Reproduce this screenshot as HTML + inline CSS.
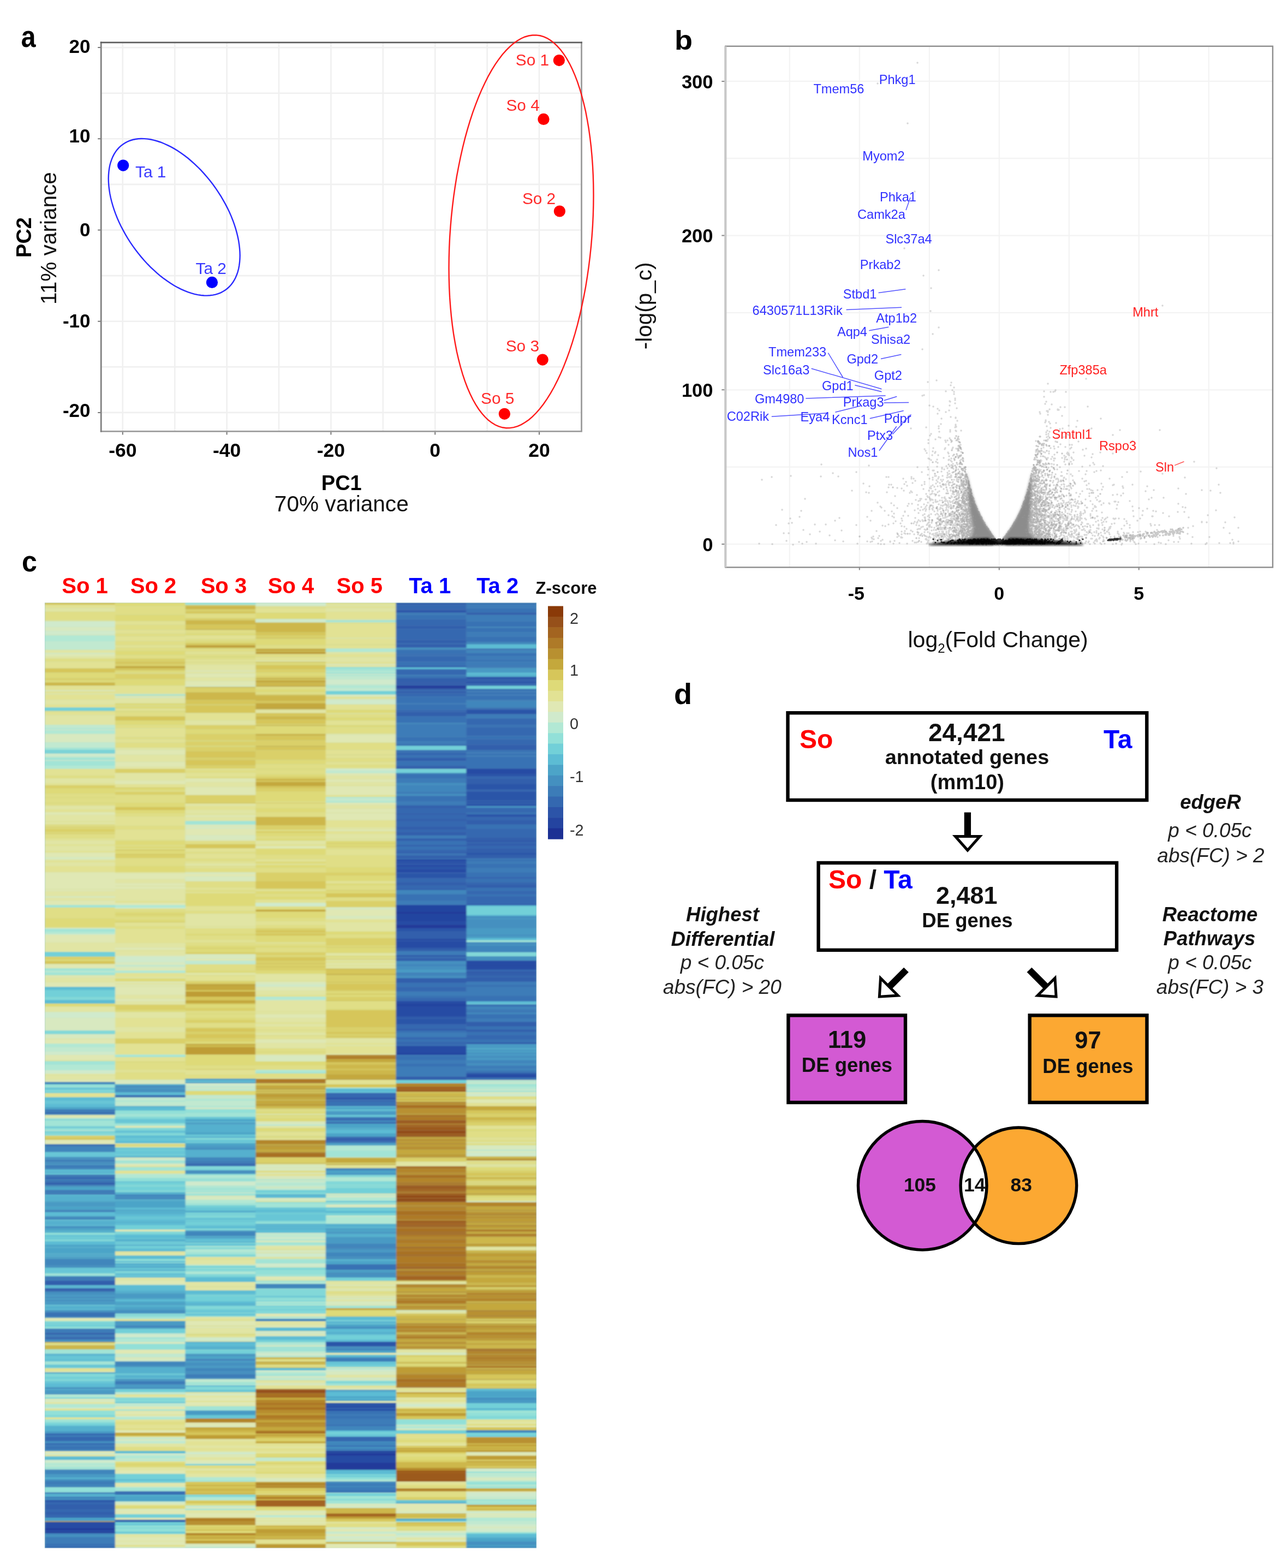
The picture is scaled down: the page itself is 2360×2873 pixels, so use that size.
<!DOCTYPE html>
<html lang="en"><head><meta charset="utf-8"><title>Figure</title>
<style>
html,body{margin:0;padding:0;background:#fff;}
body{width:2360px;height:2873px;overflow:hidden;}
svg{display:block;font-family:"Liberation Sans", Arial, Helvetica, sans-serif;}
</style></head><body>
<svg width="2360" height="2873" viewBox="0 0 2360 2873">
<rect width="2360" height="2873" fill="#fff"/>
<g id="panel-a">
<text transform="translate(38.5,85.8) scale(0.9,1.03)" font-size="54" font-weight="bold">a</text>
<path d="M224.8 77.8V790.4M320.2 77.8V790.4M415.6 77.8V790.4M511.0 77.8V790.4M606.4 77.8V790.4M701.8 77.8V790.4M797.2 77.8V790.4M892.6 77.8V790.4M988.0 77.8V790.4M185.2 755.9H1065.5M185.2 672.3H1065.5M185.2 588.7H1065.5M185.2 505.1H1065.5M185.2 421.5H1065.5M185.2 337.9H1065.5M185.2 254.3H1065.5M185.2 170.7H1065.5M185.2 87.1H1065.5" stroke="#f0f0f0" stroke-width="2.6" fill="none"/>
<path d="M224.8 790.4v6M415.6 790.4v6M606.4 790.4v6M797.2 790.4v6M988.0 790.4v6M185.2 755.9h-6M185.2 588.7h-6M185.2 421.5h-6M185.2 254.3h-6M185.2 87.1h-6" stroke="#777" stroke-width="2" fill="none"/>
<path d="M185.2 790.4H1065.5V77.8" fill="none" stroke="#9c9c9c" stroke-width="2.8" stroke-linecap="square"/>
<path d="M185.2 790.4V77.8" fill="none" stroke="#808080" stroke-width="2.8" stroke-linecap="square"/>
<path d="M185.2 77.8H1065.5" fill="none" stroke="#5e5e5e" stroke-width="2.8" stroke-linecap="square"/>
<text x="224.8" y="837.0" font-size="35.5" font-weight="bold" font-style="normal" fill="#000" text-anchor="middle">-60</text>
<text x="415.6" y="837.0" font-size="35.5" font-weight="bold" font-style="normal" fill="#000" text-anchor="middle">-40</text>
<text x="606.4" y="837.0" font-size="35.5" font-weight="bold" font-style="normal" fill="#000" text-anchor="middle">-20</text>
<text x="797.2" y="837.0" font-size="35.5" font-weight="bold" font-style="normal" fill="#000" text-anchor="middle">0</text>
<text x="988.0" y="837.0" font-size="35.5" font-weight="bold" font-style="normal" fill="#000" text-anchor="middle">20</text>
<text x="165.5" y="97.0" font-size="35" font-weight="bold" font-style="normal" fill="#000" text-anchor="end">20</text>
<text x="165.5" y="261.3" font-size="35" font-weight="bold" font-style="normal" fill="#000" text-anchor="end">10</text>
<text x="165.5" y="433.3" font-size="35" font-weight="bold" font-style="normal" fill="#000" text-anchor="end">0</text>
<text x="165.5" y="599.5" font-size="35" font-weight="bold" font-style="normal" fill="#000" text-anchor="end">-10</text>
<text x="165.5" y="763.9" font-size="35" font-weight="bold" font-style="normal" fill="#000" text-anchor="end">-20</text>
<text x="625.8" y="898.0" font-size="38" font-weight="bold" font-style="normal" fill="#000" text-anchor="middle">PC1</text>
<text x="625.8" y="937.3" font-size="40.6" font-weight="normal" font-style="normal" fill="#111" text-anchor="middle">70% variance</text>
<text transform="translate(57,435) rotate(-90)" font-size="38" font-weight="bold" text-anchor="middle">PC2</text>
<text transform="translate(102.6,436.5) rotate(-90)" font-size="40.6" fill="#111" text-anchor="middle">11% variance</text>
<path d="M439.7 468.3 L439.5 474.7 L439.0 481.0 L438.2 487.0 L437.1 492.8 L435.6 498.3 L433.8 503.5 L431.7 508.5 L429.3 513.2 L426.6 517.5 L423.6 521.5 L420.3 525.2 L416.7 528.5 L412.8 531.4 L408.7 534.0 L404.4 536.3 L399.8 538.1 L395.0 539.6 L390.0 540.6 L384.8 541.3 L379.4 541.6 L373.9 541.5 L368.2 541.0 L362.4 540.1 L356.4 538.8 L350.4 537.1 L344.3 535.1 L338.1 532.6 L331.8 529.8 L325.5 526.7 L319.2 523.2 L312.9 519.3 L306.6 515.1 L300.3 510.6 L294.1 505.8 L288.0 500.6 L282.0 495.2 L276.0 489.6 L270.2 483.7 L264.5 477.5 L259.0 471.1 L253.6 464.6 L248.4 457.8 L243.4 450.9 L238.6 443.8 L234.0 436.6 L229.7 429.3 L225.6 421.9 L221.7 414.5 L218.1 407.0 L214.8 399.5 L211.8 391.9 L209.1 384.4 L206.7 376.9 L204.6 369.5 L202.8 362.2 L201.3 354.9 L200.2 347.8 L199.4 340.8 L198.9 334.0 L198.7 327.3 L198.9 320.9 L199.4 314.6 L200.2 308.6 L201.3 302.8 L202.8 297.3 L204.6 292.1 L206.7 287.1 L209.1 282.4 L211.8 278.1 L214.8 274.1 L218.1 270.4 L221.7 267.1 L225.6 264.2 L229.7 261.6 L234.0 259.3 L238.6 257.5 L243.4 256.0 L248.4 255.0 L253.6 254.3 L258.9 254.0 L264.5 254.1 L270.2 254.6 L276.0 255.5 L282.0 256.8 L288.0 258.5 L294.1 260.5 L300.3 263.0 L306.6 265.8 L312.9 268.9 L319.2 272.4 L325.5 276.3 L331.8 280.5 L338.1 285.0 L344.3 289.8 L350.4 295.0 L356.4 300.4 L362.4 306.0 L368.2 311.9 L373.9 318.1 L379.4 324.5 L384.8 331.0 L390.0 337.8 L395.0 344.7 L399.8 351.8 L404.4 359.0 L408.7 366.3 L412.8 373.7 L416.7 381.1 L420.3 388.6 L423.6 396.1 L426.6 403.7 L429.3 411.2 L431.7 418.7 L433.8 426.1 L435.6 433.4 L437.1 440.7 L438.2 447.8 L439.0 454.8 L439.5 461.6Z" fill="none" stroke="#2a2aff" stroke-width="2.4"/>
<path d="M1087.5 357.7 L1087.3 376.3 L1086.8 395.0 L1085.9 413.9 L1084.6 432.7 L1083.0 451.5 L1081.0 470.3 L1078.7 488.9 L1076.0 507.4 L1073.1 525.6 L1069.7 543.5 L1066.1 561.1 L1062.2 578.4 L1058.0 595.2 L1053.5 611.5 L1048.7 627.4 L1043.7 642.7 L1038.4 657.3 L1032.9 671.4 L1027.2 684.7 L1021.2 697.4 L1015.2 709.3 L1008.9 720.4 L1002.5 730.7 L995.9 740.2 L989.3 748.8 L982.5 756.5 L975.7 763.3 L968.9 769.2 L961.9 774.1 L955.0 778.1 L948.1 781.1 L941.1 783.1 L934.3 784.1 L927.5 784.2 L920.7 783.3 L914.1 781.4 L907.5 778.5 L901.1 774.6 L894.8 769.8 L888.8 764.0 L882.8 757.3 L877.1 749.7 L871.6 741.2 L866.3 731.8 L861.3 721.6 L856.5 710.5 L852.0 698.7 L847.8 686.1 L843.9 672.8 L840.3 658.9 L836.9 644.3 L834.0 629.0 L831.3 613.3 L829.0 597.0 L827.0 580.2 L825.4 563.0 L824.1 545.4 L823.2 527.5 L822.7 509.3 L822.5 490.9 L822.7 472.3 L823.2 453.6 L824.1 434.7 L825.4 415.9 L827.0 397.1 L829.0 378.3 L831.3 359.7 L834.0 341.2 L836.9 323.0 L840.3 305.1 L843.9 287.5 L847.8 270.2 L852.0 253.4 L856.5 237.1 L861.3 221.2 L866.3 205.9 L871.6 191.3 L877.1 177.2 L882.8 163.9 L888.8 151.2 L894.8 139.3 L901.1 128.2 L907.5 117.9 L914.1 108.4 L920.7 99.8 L927.5 92.1 L934.3 85.3 L941.1 79.4 L948.1 74.5 L955.0 70.5 L961.9 67.5 L968.9 65.5 L975.7 64.5 L982.5 64.4 L989.3 65.3 L995.9 67.2 L1002.5 70.1 L1008.9 74.0 L1015.2 78.8 L1021.2 84.6 L1027.2 91.3 L1032.9 98.9 L1038.4 107.4 L1043.7 116.8 L1048.7 127.0 L1053.5 138.1 L1058.0 149.9 L1062.2 162.5 L1066.1 175.8 L1069.7 189.7 L1073.1 204.3 L1076.0 219.6 L1078.7 235.3 L1081.0 251.6 L1083.0 268.4 L1084.6 285.6 L1085.9 303.2 L1086.8 321.1 L1087.3 339.3Z" fill="none" stroke="#ff1a1a" stroke-width="2.4"/>
<circle cx="1024.4" cy="110.6" r="10.6" fill="#ff0000"/>
<text x="944.8" y="119.5" font-size="29.8" font-weight="normal" font-style="normal" fill="#ff2a2a" text-anchor="start">So 1</text>
<circle cx="996" cy="218.4" r="10.6" fill="#ff0000"/>
<text x="927.5" y="202.5" font-size="29.8" font-weight="normal" font-style="normal" fill="#ff2a2a" text-anchor="start">So 4</text>
<circle cx="1025.4" cy="387" r="10.6" fill="#ff0000"/>
<text x="956.9" y="373.5" font-size="29.8" font-weight="normal" font-style="normal" fill="#ff2a2a" text-anchor="start">So 2</text>
<circle cx="994.2" cy="659.1" r="10.6" fill="#ff0000"/>
<text x="926.7" y="643.8" font-size="29.8" font-weight="normal" font-style="normal" fill="#ff2a2a" text-anchor="start">So 3</text>
<circle cx="924.4" cy="758.3" r="10.6" fill="#ff0000"/>
<text x="881.1" y="739.6" font-size="29.8" font-weight="normal" font-style="normal" fill="#ff2a2a" text-anchor="start">So 5</text>
<circle cx="225.7" cy="303.1" r="10.6" fill="#0000ff"/>
<text x="248.0" y="325.2" font-size="29.8" font-weight="normal" font-style="normal" fill="#3a3aff" text-anchor="start">Ta 1</text>
<circle cx="388.5" cy="517.4" r="10.6" fill="#0000ff"/>
<text x="358.6" y="502.1" font-size="29.8" font-weight="normal" font-style="normal" fill="#3a3aff" text-anchor="start">Ta 2</text>
</g>
<g id="panel-b">
<text transform="translate(1236,91.3) scale(1,0.915)" font-size="54" font-weight="bold">b</text>
<path d="M1446.8 84.7V1039.5M1574.8 84.7V1039.5M1702.8 84.7V1039.5M1830.8 84.7V1039.5M1958.8 84.7V1039.5M2086.8 84.7V1039.5M2214.8 84.7V1039.5M1329.3 997.0H2332M1329.3 855.6H2332M1329.3 714.3H2332M1329.3 573.0H2332M1329.3 431.6H2332M1329.3 290.2H2332M1329.3 148.9H2332" stroke="#f3f3f3" stroke-width="2.2" fill="none"/>
<path d="M1916 880h.1M1767 965h.1M1932 993h.1M1940 751h.1M1859 962h.1M1884 969h.1M1914 966h.1M1807 984h.1M1765 913h.1M1721 986h.1M1785 994h.1M2033 979h.1M1839 993h.1M1863 971h.1M1868 991h.1M1904 878h.1M1929 909h.1M1758 983h.1M1886 992h.1M1681 970h.1M1816 989h.1M1766 988h.1M1933 840h.1M1905 849h.1M1878 955h.1M1787 986h.1M1767 883h.1M1845 994h.1M1724 978h.1M1797 956h.1M2039 907h.1M1778 939h.1M1988 937h.1M1761 886h.1M1749 973h.1M1778 975h.1M1974 771h.1M1890 958h.1M1887 996h.1M1906 967h.1M1908 980h.1M1906 918h.1M1872 988h.1M1778 975h.1M1970 915h.1M1798 988h.1M1898 952h.1M1797 952h.1M1762 941h.1M1799 989h.1M1823 990h.1M1951 950h.1M1801 967h.1M1857 988h.1M1745 954h.1M1711 991h.1M1990 952h.1M1682 925h.1M1729 939h.1M1644 894h.1M1718 980h.1M1895 971h.1M1879 923h.1M1881 926h.1M1935 915h.1M1851 990h.1M1902 952h.1M1738 976h.1M1926 841h.1M1905 964h.1M1747 974h.1M1879 994h.1M1787 973h.1M1915 892h.1M1894 880h.1M1907 985h.1M1912 991h.1M1883 987h.1M1865 962h.1M1730 963h.1M1729 937h.1M1898 882h.1M1767 984h.1M1937 971h.1M1846 997h.1M1794 989h.1M1843 987h.1M1901 964h.1M2105 915h.1M1918 861h.1M1886 964h.1M1888 913h.1M1815 987h.1M1936 925h.1M1774 957h.1M1730 888h.1M1706 895h.1M1761 973h.1M1858 997h.1M1736 866h.1M1786 964h.1M1644 931h.1M1799 983h.1M1852 993h.1M1742 844h.1M1788 994h.1M1878 984h.1M2004 994h.1M1801 977h.1M1780 939h.1M1919 989h.1M1637 996h.1M1895 957h.1M1946 872h.1M1797 955h.1M1877 994h.1M1868 970h.1M2186 964h.1M1731 992h.1M1771 983h.1M1783 933h.1M1765 841h.1M1867 953h.1M1907 946h.1M1864 987h.1M1755 991h.1M1800 973h.1M1917 792h.1M1784 955h.1M1792 993h.1M1786 929h.1M1764 981h.1M1919 977h.1M1994 960h.1M1773 923h.1M1908 831h.1M1876 974h.1M1733 962h.1M1898 900h.1M2042 959h.1M1743 960h.1M1888 894h.1M1878 949h.1M1771 931h.1M1777 967h.1M1734 958h.1M1705 917h.1M1732 941h.1M2113 936h.1M1869 973h.1M1896 992h.1M1900 970h.1M1853 987h.1M1813 985h.1M1889 981h.1M1999 898h.1M1788 948h.1M1783 975h.1M1890 917h.1M1937 925h.1M1861 980h.1M1916 772h.1M1933 998h.1M1767 982h.1M1930 857h.1M1988 972h.1M1776 961h.1M1814 980h.1M1912 976h.1M1967 843h.1M1882 941h.1M1958 780h.1M1783 975h.1M1880 947h.1M1745 866h.1M1844 992h.1M1802 989h.1M1814 985h.1M1912 882h.1M1768 919h.1M1916 975h.1M1800 954h.1M1863 992h.1M1794 955h.1M1787 977h.1M1747 944h.1M1886 924h.1M1888 944h.1M2047 990h.1M1772 959h.1M1743 871h.1M1768 894h.1M1802 960h.1M1940 791h.1M1777 976h.1M1861 968h.1M1794 964h.1M1898 995h.1M1788 969h.1M1766 935h.1M1790 973h.1M1784 964h.1M1988 939h.1M1781 980h.1M1882 965h.1M1806 984h.1M2041 888h.1M1777 923h.1M1758 989h.1M1818 997h.1M1963 895h.1M1835 996h.1M2056 874h.1M1990 881h.1M1802 969h.1M1791 952h.1M1888 939h.1M1775 991h.1M1861 986h.1M1903 985h.1M1925 899h.1M1893 916h.1M1901 954h.1M1859 982h.1M1885 933h.1M1628 893h.1M1996 975h.1M1887 950h.1M1733 966h.1M1757 982h.1M1751 971h.1M1798 967h.1M1927 956h.1M1824 990h.1M1933 982h.1M1743 961h.1M1855 995h.1M1799 957h.1M1905 990h.1M1794 973h.1M1751 968h.1M1872 935h.1M1799 974h.1M1951 746h.1M1872 961h.1M1652 979h.1M1866 949h.1M1717 957h.1M1933 975h.1M1867 960h.1M1877 981h.1M1802 986h.1M1819 982h.1M1944 880h.1M1909 873h.1M1812 995h.1M1928 979h.1M1843 984h.1M1795 980h.1M1916 984h.1M1914 982h.1M1860 985h.1M1891 996h.1M1766 972h.1M2029 948h.1M1867 993h.1M1884 979h.1M1863 968h.1M1876 977h.1M1757 960h.1M1864 993h.1M1874 968h.1M1923 896h.1M1771 969h.1M1955 868h.1M1799 973h.1M1775 888h.1M2059 976h.1M1879 944h.1M1792 985h.1M1734 961h.1M1901 899h.1M1715 846h.1M1786 959h.1M1809 984h.1M1840 990h.1M1871 992h.1M1979 905h.1M1899 925h.1M1868 980h.1M1782 960h.1M1782 924h.1M1823 988h.1M1773 986h.1M1628 874h.1M1814 996h.1M1816 979h.1M1935 981h.1M1939 954h.1M1944 961h.1M1902 874h.1M1881 995h.1M1794 985h.1M1964 994h.1M2177 967h.1M1745 973h.1M1915 948h.1M1742 764h.1M1821 995h.1M1890 934h.1M1894 852h.1M1773 937h.1M1757 805h.1M1979 983h.1M1795 975h.1M1782 951h.1M1809 993h.1M1919 961h.1M1878 977h.1M1888 980h.1M1924 979h.1M1760 848h.1M1772 983h.1M2103 976h.1M1789 951h.1M1772 952h.1M1898 944h.1M1893 985h.1M1893 953h.1M1795 986h.1M1621 936h.1M1741 788h.1M1715 872h.1M1954 992h.1M1894 970h.1M1867 950h.1M1754 985h.1M1723 890h.1M1858 996h.1M1803 989h.1M1639 991h.1M1784 939h.1M1867 978h.1M1877 943h.1M1820 992h.1M1601 988h.1M1796 979h.1M1766 919h.1M1921 965h.1M1768 904h.1M1757 875h.1M1804 994h.1M1916 972h.1M1967 990h.1M1970 919h.1M1774 894h.1M1887 948h.1M1775 951h.1M1914 948h.1M1734 960h.1M1800 992h.1M1752 790h.1M1874 935h.1M1781 936h.1M1799 990h.1M1764 830h.1M1760 991h.1M1865 958h.1M1887 929h.1M1896 970h.1M1777 912h.1M1723 955h.1M1936 990h.1M1805 962h.1M1969 920h.1M1848 984h.1M1979 950h.1M1760 891h.1M1792 976h.1M1854 971h.1M1884 961h.1M1882 979h.1M1807 998h.1M1913 851h.1M1908 954h.1M1874 933h.1M1902 926h.1M1870 946h.1M1747 980h.1M1788 932h.1M1785 923h.1M1772 997h.1M1760 815h.1M1881 975h.1M1873 936h.1M1800 960h.1M2001 936h.1M1885 915h.1M1876 972h.1M1777 945h.1M1889 988h.1M1896 978h.1M1900 914h.1M1919 967h.1M1874 957h.1M1772 940h.1M1746 820h.1M1857 993h.1M1901 959h.1M1961 890h.1M1790 987h.1M1983 958h.1M1730 860h.1M1808 982h.1M1806 981h.1M1861 982h.1M1714 908h.1M1763 963h.1M1710 994h.1M1792 970h.1M1787 959h.1M1737 869h.1M1799 960h.1M1898 993h.1M1943 814h.1M1795 993h.1M1799 966h.1M1873 993h.1M1810 990h.1M1693 724h.1M1800 996h.1M1695 953h.1M1840 995h.1M1753 996h.1M1956 932h.1M1967 829h.1M1919 996h.1M1770 978h.1M1848 988h.1M1860 979h.1M1961 983h.1M1918 979h.1M1766 993h.1M1919 789h.1M1799 962h.1M1770 926h.1M1740 967h.1M1978 993h.1M2005 851h.1M1683 940h.1M1944 901h.1M1855 992h.1M1849 977h.1M1898 963h.1M1768 863h.1M2003 932h.1M1877 960h.1M1728 955h.1M1913 717h.1M1849 989h.1M1932 986h.1M1823 987h.1M1886 953h.1M1727 977h.1M1874 970h.1M1983 855h.1M1860 972h.1M2008 989h.1M1892 978h.1M1814 975h.1M1895 951h.1M2050 950h.1M1888 925h.1M1753 891h.1M1772 947h.1M1807 977h.1M1694 823h.1M1727 921h.1M1715 983h.1M1921 927h.1M1781 993h.1M1809 981h.1M1783 926h.1M1950 932h.1M1762 922h.1M1929 989h.1M1767 943h.1M1925 951h.1M1912 820h.1M1762 887h.1M1744 995h.1M1854 984h.1M1837 993h.1M1767 922h.1M1899 852h.1M1764 961h.1M1569 962h.1M1843 994h.1M1889 939h.1M1787 969h.1M1899 835h.1M1858 971h.1M1770 974h.1M1789 940h.1M1863 994h.1M1921 857h.1M1860 987h.1M1792 974h.1M1898 941h.1M1900 980h.1M1887 970h.1M2058 894h.1M1888 936h.1M1775 947h.1M2070 962h.1M1753 972h.1M1606 973h.1M1735 958h.1M1942 941h.1M1763 942h.1M1774 929h.1M1774 959h.1M1935 895h.1M1785 990h.1M1676 935h.1M1769 981h.1M1801 983h.1M1872 948h.1M1807 975h.1M1886 936h.1M1714 919h.1M1729 978h.1M1944 971h.1M1806 979h.1M1885 966h.1M1777 914h.1M1708 900h.1M1871 940h.1M1904 961h.1M1934 809h.1M1903 995h.1M1887 943h.1M1871 977h.1M1854 996h.1M1910 912h.1M1921 934h.1M1792 973h.1M1941 963h.1M1845 981h.1M1738 988h.1M1769 935h.1M1697 783h.1M1928 837h.1M2109 963h.1M1804 990h.1M1915 871h.1M1797 989h.1M1779 970h.1M1819 996h.1M1892 933h.1M1787 952h.1M1826 995h.1M1843 996h.1M1747 983h.1M1771 873h.1M1913 983h.1M1865 978h.1M1812 987h.1M1732 821h.1M1857 966h.1M1835 996h.1M1889 991h.1M1934 966h.1M1873 939h.1M1955 969h.1M1791 940h.1M1835 996h.1M1943 995h.1M1812 991h.1M1872 950h.1M1789 990h.1M1889 995h.1M1925 898h.1M1802 987h.1M1887 889h.1M1934 928h.1M1950 910h.1M1765 906h.1M1716 959h.1M1763 851h.1M1786 929h.1M1872 955h.1M1795 975h.1M1886 987h.1M1855 996h.1M1774 993h.1M2012 909h.1M1921 980h.1M1663 927h.1M1806 995h.1M1664 945h.1M1948 970h.1M1810 976h.1M1843 995h.1M1733 955h.1M1980 938h.1M1655 945h.1M1809 968h.1M1894 964h.1M2111 946h.1M1944 965h.1M1787 974h.1M1810 974h.1M1901 973h.1M1970 976h.1M1861 966h.1M1780 993h.1M1994 994h.1M1838 992h.1M1898 881h.1M1715 980h.1M1677 881h.1M1958 890h.1M2020 962h.1M1855 980h.1M1764 973h.1M1846 993h.1M1872 976h.1M1774 991h.1M1719 956h.1M1877 976h.1M1738 978h.1M1772 974h.1M2002 924h.1M1896 991h.1M1884 933h.1M1859 987h.1M1892 996h.1M1841 992h.1M1773 969h.1M2048 977h.1M1798 959h.1M1841 992h.1M1987 935h.1M1749 968h.1M1890 973h.1M1724 926h.1M2022 989h.1M1876 960h.1M1875 924h.1M1852 994h.1M1783 972h.1M1871 945h.1M1859 959h.1M1750 990h.1M2014 919h.1M1972 986h.1M1862 978h.1M1787 971h.1M1931 944h.1M1807 995h.1M2009 973h.1M1868 975h.1M1806 974h.1M1914 986h.1M1927 980h.1M1882 978h.1M1929 884h.1M1752 782h.1M1952 971h.1M1915 905h.1M2009 973h.1M1766 984h.1M1865 995h.1M1844 982h.1M1865 975h.1M1838 991h.1M1879 977h.1M1914 927h.1M1940 966h.1M1773 946h.1M1715 919h.1M1708 955h.1M1899 863h.1M1927 966h.1M1766 986h.1M1774 994h.1M1869 942h.1M2011 898h.1M1871 946h.1M1901 972h.1M1763 867h.1M1884 956h.1M1849 993h.1M1809 985h.1M1682 993h.1M1737 935h.1M1885 948h.1M1859 980h.1M1711 862h.1M1724 938h.1M1904 938h.1M1754 946h.1M1969 994h.1M1797 987h.1M1808 996h.1M1916 974h.1M1748 906h.1M1813 979h.1M1936 888h.1M1624 874h.1M1968 951h.1M1926 918h.1M1615 930h.1M1813 996h.1M1770 982h.1M1889 991h.1M1757 826h.1M1972 980h.1M1886 982h.1M1949 921h.1M1790 935h.1M1721 791h.1M1796 956h.1M1918 817h.1M1807 986h.1M2102 891h.1M1782 919h.1M1897 863h.1M1785 926h.1M1810 971h.1M1939 879h.1M1756 979h.1M1862 983h.1M1859 975h.1M1738 815h.1M1913 955h.1M1849 985h.1M2017 976h.1M1825 992h.1M1785 943h.1M1814 985h.1M1791 939h.1M1817 982h.1M1859 977h.1M1794 992h.1M1941 983h.1M1879 997h.1M1773 909h.1M1862 961h.1M1995 992h.1M1756 809h.1M1824 996h.1M1804 968h.1M1915 957h.1M1812 981h.1M1952 945h.1M1726 917h.1M1904 933h.1M2047 906h.1M1774 973h.1M1790 945h.1M1866 994h.1M1787 968h.1M1806 973h.1M1867 993h.1M1753 905h.1M1915 957h.1M1954 972h.1M1793 995h.1M1822 986h.1M1824 990h.1M1949 887h.1M1779 933h.1M1689 978h.1M1851 979h.1M1763 992h.1M1704 977h.1M1688 929h.1M1780 975h.1M1784 938h.1M1917 912h.1M1765 946h.1M1972 972h.1M1888 963h.1M1808 985h.1M1866 964h.1M1771 967h.1M1916 986h.1M1747 961h.1M1935 936h.1M1589 947h.1M1885 997h.1M1756 971h.1M1765 946h.1M1669 972h.1M1856 978h.1M1880 990h.1M2055 998h.1M1861 969h.1M1881 991h.1M1786 957h.1M1725 960h.1M1811 981h.1M1877 956h.1M1889 924h.1M1768 984h.1M1771 909h.1M1899 958h.1M1775 898h.1M1892 919h.1M1879 912h.1M1882 981h.1M1707 957h.1M1859 968h.1M1944 966h.1M1812 985h.1M1762 945h.1M1740 743h.1M1869 949h.1M1857 988h.1M2142 946h.1M1962 943h.1M1843 992h.1M2006 982h.1M1743 953h.1M1999 949h.1M1874 978h.1M1863 965h.1M1893 984h.1M1759 927h.1M2012 981h.1M1795 952h.1M2039 889h.1M1867 948h.1M1947 928h.1M1900 955h.1M1905 963h.1M1778 951h.1M1714 805h.1M1816 984h.1M1908 961h.1M1980 943h.1M1906 972h.1M1658 938h.1M1944 980h.1M1815 976h.1M1974 987h.1M1738 995h.1M1963 915h.1M1863 993h.1M1791 947h.1M1927 957h.1M1722 958h.1M2027 956h.1M1875 951h.1M1793 961h.1M1867 957h.1M1929 963h.1M1785 949h.1M2015 985h.1M1866 989h.1M1867 988h.1M1773 942h.1M1696 915h.1M1861 993h.1M1788 933h.1M1871 952h.1M2023 973h.1M1911 854h.1M1769 869h.1M1752 943h.1M1855 980h.1M1933 963h.1M1843 993h.1M1895 965h.1M1946 974h.1M1842 990h.1M1743 939h.1M1894 951h.1M1919 992h.1M1874 964h.1M2024 996h.1M1750 939h.1M1908 973h.1M1786 967h.1M1877 940h.1M1737 938h.1M1872 933h.1M1971 937h.1M1695 948h.1M1860 972h.1M1788 996h.1M1763 860h.1M1854 982h.1M1880 948h.1M1935 878h.1M1815 981h.1M1768 991h.1M1796 951h.1M1806 996h.1M1750 994h.1M1791 933h.1M1844 995h.1M1745 994h.1M1770 993h.1M1657 965h.1M1918 928h.1M1902 901h.1M1743 852h.1M1775 947h.1M1911 937h.1M1964 934h.1M1871 970h.1M1854 969h.1M1802 962h.1M1814 986h.1M1882 947h.1M1891 987h.1M1633 888h.1M1869 952h.1M1991 975h.1M1815 979h.1M1662 996h.1M1764 841h.1M1761 885h.1M1925 994h.1M1763 993h.1M1796 959h.1M2018 981h.1M1718 992h.1M1796 973h.1M1734 955h.1M1932 875h.1M1859 964h.1M1890 986h.1M1762 913h.1M1977 992h.1M2032 969h.1M1871 950h.1M1778 996h.1M1806 986h.1M1794 960h.1M1864 958h.1M1738 843h.1M1848 980h.1M1867 968h.1M1771 924h.1M1776 935h.1M1883 940h.1M1733 889h.1M1745 884h.1M1760 868h.1M1920 939h.1M1912 974h.1M1901 833h.1M1779 966h.1M1746 922h.1M1811 987h.1M1720 967h.1M1771 882h.1M1889 933h.1M1761 828h.1M1768 901h.1M1879 958h.1M1882 921h.1M1739 961h.1M1776 937h.1M1784 994h.1M1938 969h.1M1786 987h.1M1874 980h.1M2026 950h.1M1783 954h.1M1672 885h.1M1871 960h.1M1889 897h.1M1743 929h.1M1802 962h.1M2002 949h.1M1893 936h.1M1906 916h.1M1872 984h.1M1861 983h.1M1849 995h.1M1981 944h.1M1953 966h.1M1811 996h.1M1956 990h.1M1885 912h.1M1946 762h.1M1938 750h.1M1963 968h.1M1736 807h.1M1948 881h.1M1933 971h.1M1968 883h.1M1800 977h.1M1964 840h.1M1890 929h.1M1864 991h.1M1750 783h.1M1878 940h.1M1669 900h.1M1784 959h.1M1769 866h.1M1733 997h.1M1743 970h.1M1686 969h.1M1799 973h.1M1710 821h.1M1804 993h.1M1871 962h.1M1739 863h.1M1916 944h.1M1888 889h.1M1793 978h.1M1755 960h.1M1796 953h.1M1808 969h.1M1781 986h.1M1976 953h.1M1772 911h.1M1750 921h.1M1898 985h.1M1820 996h.1M1948 950h.1M1918 982h.1M1644 977h.1M1932 931h.1M1805 982h.1M1796 992h.1M1783 936h.1M1840 995h.1M1845 985h.1M1758 816h.1M1780 991h.1M1763 981h.1M1725 892h.1M1926 876h.1M1902 942h.1M1717 941h.1M1782 911h.1M1948 949h.1M1797 982h.1M1744 846h.1M1722 946h.1M1956 941h.1M1817 989h.1M1768 890h.1M1764 943h.1M1948 985h.1M1778 898h.1M1781 956h.1M1786 923h.1M1834 996h.1M1893 909h.1M1868 948h.1M1921 960h.1M1877 945h.1M1972 962h.1M1765 936h.1M1918 944h.1M1739 945h.1M1922 850h.1M1757 908h.1M1882 974h.1M1816 989h.1M1883 967h.1M1796 966h.1M1950 846h.1M1880 937h.1M1753 908h.1M1893 980h.1M1783 955h.1M1766 881h.1M1717 855h.1M1872 990h.1M1748 879h.1M1899 866h.1M1771 936h.1M1987 882h.1M1870 947h.1M1858 988h.1M1930 907h.1M1769 971h.1M1764 841h.1M1884 953h.1M1777 962h.1M1727 942h.1M1801 994h.1M1887 972h.1M1778 984h.1M1913 885h.1M1907 988h.1M1752 861h.1M1918 801h.1M1882 963h.1M1881 988h.1M1801 971h.1M1879 972h.1M1768 960h.1M1928 962h.1M1766 969h.1M1778 905h.1M1729 967h.1M1861 965h.1M1758 984h.1M1881 965h.1M1881 948h.1M1889 973h.1M1788 980h.1M1767 956h.1M1824 996h.1M1727 977h.1M1941 962h.1M1763 944h.1M1812 996h.1M1871 950h.1M1790 997h.1M1779 974h.1M1723 969h.1M2063 981h.1M1901 971h.1M1774 918h.1M1696 971h.1M1797 969h.1M1848 977h.1M1869 969h.1M1988 980h.1M1882 945h.1M1887 983h.1M1770 960h.1M1911 880h.1M1746 963h.1M1869 982h.1M1658 937h.1M1892 882h.1M1767 987h.1M1951 988h.1M1971 997h.1M1762 872h.1M1814 992h.1M1912 875h.1M1771 927h.1M1782 960h.1M1798 955h.1M1779 991h.1M1945 990h.1M1781 973h.1M1776 927h.1M1841 986h.1M2079 994h.1M1781 984h.1M1932 947h.1M1886 978h.1M1878 977h.1M1879 963h.1M1748 718h.1M1754 967h.1M1758 974h.1M1860 967h.1M1737 968h.1M1766 977h.1M1972 973h.1M1702 944h.1M1876 996h.1M1819 985h.1M1800 957h.1M1815 988h.1M1798 980h.1M1734 854h.1M1775 935h.1M1772 898h.1M1864 983h.1M1810 983h.1M1871 934h.1M1878 982h.1M1751 789h.1M1766 939h.1M1959 898h.1M1752 861h.1M1901 961h.1M1766 941h.1M1801 979h.1M1853 972h.1M1796 985h.1M2009 936h.1M1776 963h.1M1945 970h.1M1876 994h.1M1928 955h.1M1838 995h.1M1947 989h.1M1878 987h.1M1889 936h.1M1929 952h.1M1736 875h.1M1906 912h.1M1714 982h.1M1770 926h.1M1776 986h.1M1868 989h.1M1657 977h.1M1848 983h.1M1915 990h.1M1888 983h.1M1879 953h.1M1948 994h.1M1875 953h.1M1870 959h.1M1790 934h.1M1826 997h.1M1719 877h.1M1807 979h.1M1905 845h.1M1905 937h.1M1756 989h.1M1935 950h.1M2161 984h.1M1758 983h.1M1879 948h.1M1966 951h.1M1855 989h.1M1797 988h.1M2037 960h.1M1794 963h.1M1881 948h.1M1784 944h.1M1802 991h.1M1849 991h.1M1781 972h.1M1801 981h.1M1865 978h.1M1861 976h.1M1741 984h.1M1732 914h.1M1863 969h.1M2093 944h.1M1903 987h.1M1867 947h.1M1913 926h.1M1938 990h.1M1714 828h.1M1924 776h.1M1871 976h.1M1745 715h.1M1875 966h.1M1922 930h.1M1905 853h.1M1815 990h.1M1788 943h.1M2022 956h.1M1773 987h.1M1770 986h.1M1728 976h.1M1739 974h.1M1921 795h.1M1794 974h.1M1786 928h.1M1898 918h.1M1961 822h.1M1896 970h.1M1748 840h.1M1858 988h.1M1840 993h.1M2076 990h.1M1791 982h.1M1792 942h.1M1856 972h.1M2040 950h.1M1872 967h.1M1850 996h.1M1870 966h.1M1856 964h.1M1988 964h.1M1740 980h.1M1944 922h.1M1908 943h.1M1689 865h.1M1712 892h.1M1922 948h.1M1802 997h.1M1712 986h.1M1814 987h.1M1704 978h.1M1930 718h.1M1743 997h.1M1997 997h.1M1807 977h.1M1796 961h.1M2010 968h.1M1901 871h.1M1882 992h.1M1899 968h.1M1750 739h.1M1849 983h.1M1909 927h.1M1801 993h.1M1866 981h.1M1785 975h.1M1992 960h.1M1778 985h.1M1927 937h.1M1858 962h.1M1854 973h.1M1769 961h.1M1726 882h.1M1963 820h.1M1979 948h.1M1763 938h.1M1866 952h.1M1744 938h.1M1776 956h.1M1758 924h.1M1961 916h.1M1841 991h.1M1901 934h.1M1850 983h.1M1917 982h.1M1931 840h.1M1653 985h.1M1889 920h.1M1853 975h.1M1874 943h.1M1942 856h.1M1732 918h.1M2022 922h.1M1773 942h.1M1743 987h.1M1868 984h.1M1814 982h.1M1882 995h.1M1734 980h.1M1854 981h.1M1870 981h.1M1766 955h.1M1764 943h.1M1770 995h.1M1718 969h.1M1757 972h.1M1901 959h.1M1902 809h.1M1884 946h.1M1750 951h.1M1890 904h.1M1713 872h.1M1720 988h.1M1819 993h.1M1963 926h.1M1938 751h.1M1929 954h.1M1774 958h.1M1980 949h.1M1763 909h.1M1826 995h.1M1896 978h.1M1847 986h.1M1729 839h.1M1955 962h.1M1787 933h.1M1724 879h.1M1772 966h.1M2060 951h.1M1780 966h.1M1742 997h.1M1875 975h.1M1779 964h.1M1660 883h.1M1768 965h.1M1784 977h.1M1934 869h.1M1771 933h.1M1891 880h.1M1775 887h.1M1988 926h.1M1871 993h.1M2017 767h.1M1789 995h.1M1864 985h.1M1842 991h.1M1873 974h.1M1807 994h.1M1800 959h.1M1777 914h.1M1886 983h.1M1904 927h.1M1801 988h.1M1790 956h.1M1779 977h.1M1755 982h.1M1970 973h.1M1925 949h.1M1791 989h.1M1922 831h.1M1628 961h.1M2010 916h.1M1791 964h.1M1885 967h.1M1953 994h.1M1737 926h.1M1733 935h.1M1928 946h.1M1723 988h.1M1882 934h.1M1896 920h.1M1890 969h.1M1909 899h.1M1782 935h.1M1917 736h.1M2150 982h.1M1883 912h.1M1859 996h.1M1884 936h.1M1764 996h.1M1778 992h.1M1866 988h.1M1756 837h.1M1808 994h.1M1917 897h.1M1681 956h.1M1922 901h.1M1775 964h.1M1910 920h.1M1800 968h.1M1857 970h.1M1764 912h.1M1815 976h.1M1775 970h.1M1883 953h.1M1970 927h.1M1790 983h.1M1778 928h.1M1802 984h.1M1902 870h.1M1811 978h.1M1747 983h.1M1793 965h.1M1956 926h.1M1918 948h.1M1837 994h.1M1889 889h.1M1684 986h.1M1677 949h.1M1739 842h.1M1863 990h.1M1902 948h.1M2137 974h.1M1888 968h.1M1731 949h.1M1867 954h.1M1910 935h.1M1927 741h.1M1865 990h.1M1812 991h.1M1899 862h.1M1770 947h.1M1722 933h.1M1848 988h.1M1812 980h.1M1952 851h.1M1841 989h.1M2039 831h.1M1904 917h.1M1680 958h.1M1793 947h.1M1751 838h.1M1744 943h.1M1891 957h.1M1815 989h.1M1899 876h.1M1816 994h.1M1861 985h.1M1876 993h.1M1897 925h.1M1895 969h.1M1906 890h.1M1760 988h.1M1890 957h.1M1912 828h.1M2028 974h.1M1882 955h.1M1896 888h.1M1734 933h.1M1652 964h.1M1773 950h.1M1781 933h.1M1790 987h.1M1782 984h.1M1640 909h.1M1823 990h.1M1782 987h.1M1889 876h.1M1806 990h.1M1863 967h.1M1866 992h.1M1853 973h.1M1873 990h.1M1778 907h.1M1919 994h.1M1795 973h.1M1953 971h.1M1983 984h.1M1866 955h.1M1848 981h.1M2008 912h.1M1789 960h.1M1696 826h.1M1951 989h.1M1910 897h.1M1744 991h.1M1864 984h.1M1739 972h.1M1732 923h.1M1710 987h.1M1854 988h.1M1912 954h.1M1979 992h.1M1917 944h.1M1820 994h.1M1844 982h.1M1711 971h.1M1796 982h.1M1792 968h.1M1810 978h.1M1683 918h.1M1764 935h.1M1860 982h.1M1941 972h.1M1778 989h.1M1844 997h.1M1825 998h.1M1877 977h.1M1761 973h.1M1818 996h.1M1783 956h.1M1769 950h.1M1707 972h.1M1924 976h.1M1793 963h.1M1720 908h.1M1737 946h.1M1939 990h.1M1769 936h.1M1775 965h.1M1953 947h.1M1923 981h.1M1940 908h.1M1921 946h.1M1910 995h.1M1696 936h.1M1655 877h.1M1884 967h.1M1919 987h.1M1806 970h.1M1897 858h.1M1948 992h.1M1866 953h.1M1750 949h.1M1693 924h.1M1938 884h.1M1768 970h.1M1942 960h.1M1882 957h.1M1925 718h.1M1844 996h.1M1840 992h.1M1793 955h.1M1890 968h.1M1747 976h.1M1911 913h.1M1836 998h.1M1800 982h.1M1923 977h.1M1696 929h.1M1979 983h.1M1941 950h.1M1794 972h.1M1879 991h.1M1809 968h.1M1785 970h.1M1863 967h.1M1890 956h.1M1788 959h.1M1758 978h.1M1728 879h.1M1860 982h.1M1769 932h.1M1970 964h.1M1813 984h.1M2018 981h.1M1876 966h.1M1889 931h.1M1721 900h.1M1865 958h.1M1924 928h.1M1939 944h.1M1714 989h.1M1756 890h.1M1910 928h.1M1849 984h.1M1915 829h.1M1882 984h.1M1899 977h.1M1759 876h.1M1856 992h.1M1862 975h.1M1791 990h.1M1815 980h.1M1767 943h.1M1794 971h.1M1850 983h.1M1743 701h.1M1897 919h.1M2015 986h.1M1783 970h.1M1723 962h.1M1808 981h.1M1868 986h.1M1941 966h.1M1700 975h.1M1894 905h.1M2009 976h.1M1906 953h.1M1796 963h.1M1761 869h.1M1766 923h.1M1819 989h.1M1870 977h.1M1855 983h.1M1765 964h.1M1818 983h.1M1767 955h.1M1930 968h.1M1902 972h.1M1774 883h.1M1984 971h.1M1924 968h.1M1784 980h.1M1754 929h.1M1813 988h.1M1773 921h.1M1757 934h.1M1742 991h.1M1940 882h.1M1860 964h.1M1732 914h.1M1760 957h.1M1895 946h.1M1821 986h.1M1753 924h.1M2006 996h.1M1784 931h.1M1837 997h.1M1937 938h.1M1802 987h.1M1817 995h.1M1785 982h.1M1762 901h.1M1731 911h.1M1815 995h.1M1874 993h.1M1937 802h.1M1887 897h.1M1914 989h.1M1777 942h.1M1923 976h.1M1925 990h.1M1914 958h.1M1950 875h.1M1897 900h.1M1872 992h.1M1866 965h.1M1808 994h.1M1762 931h.1M1962 953h.1M1855 995h.1M1720 801h.1M1773 989h.1M1954 949h.1M1744 984h.1M1781 916h.1M1683 976h.1M1915 928h.1M1735 994h.1M2130 868h.1M1755 960h.1M1733 915h.1M1806 988h.1M2058 904h.1M2003 962h.1M1787 970h.1M1844 985h.1M1808 974h.1M1901 909h.1M1780 944h.1M1885 902h.1M1784 990h.1M1761 842h.1M1671 902h.1M1802 965h.1M2056 996h.1M1907 928h.1M1953 968h.1M1842 985h.1M1911 982h.1M2035 984h.1M1880 943h.1M1814 981h.1M1930 972h.1M1707 915h.1M1936 984h.1M1884 995h.1M1763 987h.1M1955 991h.1M1918 994h.1M1755 984h.1M1808 970h.1M1946 906h.1M1921 973h.1M1847 979h.1M1753 878h.1M1774 980h.1M1769 989h.1M1816 995h.1M1857 973h.1M1887 903h.1M1746 941h.1M1907 978h.1M1886 995h.1M1935 979h.1M1779 913h.1M1891 895h.1M1806 994h.1M1794 993h.1M1858 970h.1M1855 984h.1M1755 905h.1M1955 991h.1M1867 965h.1M1848 993h.1M1938 955h.1M1628 944h.1M1818 984h.1M1892 933h.1M1796 986h.1M1779 963h.1M1900 965h.1M1904 860h.1M1871 950h.1M2018 925h.1M1894 866h.1M1842 986h.1M1775 913h.1M1799 966h.1M2075 983h.1M1847 991h.1M1789 957h.1M1824 991h.1M1773 909h.1M1874 930h.1M1947 926h.1M1812 982h.1M1840 995h.1M1766 955h.1M1746 966h.1M1923 850h.1M1858 977h.1M2123 994h.1M1871 938h.1M1675 979h.1M1802 996h.1M1796 947h.1M1780 957h.1M1791 990h.1M1765 974h.1M1846 985h.1M1797 975h.1M1767 909h.1M1755 875h.1M1902 984h.1M1786 941h.1M1679 994h.1M1768 970h.1M1863 965h.1M1760 873h.1M1799 955h.1M1791 948h.1M1853 991h.1M1810 982h.1M1883 965h.1M1856 970h.1M1725 767h.1M1961 980h.1M1778 984h.1M1893 992h.1M1781 940h.1M1913 992h.1M1762 938h.1M1867 947h.1M1843 984h.1M1931 851h.1M1723 954h.1M1885 935h.1M1876 919h.1M1818 996h.1M2068 977h.1M1799 953h.1M1708 834h.1M1842 988h.1M1846 993h.1M1855 973h.1M1940 995h.1M1700 911h.1M1738 986h.1M1906 863h.1M1786 958h.1M1930 948h.1M1906 813h.1M1757 906h.1M1845 980h.1M1733 968h.1M1838 997h.1M1977 989h.1M1865 978h.1M1745 894h.1M1812 988h.1M1901 936h.1M1793 972h.1M1782 970h.1M1928 903h.1M1881 979h.1M1853 996h.1M1791 982h.1M1728 994h.1M1970 887h.1M1963 929h.1M1694 975h.1M1942 964h.1M1788 979h.1M1751 970h.1M1753 945h.1M1811 976h.1M1838 989h.1M1857 992h.1M1912 975h.1M1800 971h.1M1789 996h.1M1866 986h.1M1977 976h.1M1781 979h.1M1916 917h.1M1753 881h.1M1726 981h.1M1774 948h.1M1703 877h.1M1848 981h.1M1949 918h.1M1901 969h.1M1849 985h.1M1773 932h.1M1938 918h.1M1796 991h.1M2053 983h.1M1952 938h.1M1928 965h.1M1801 984h.1M1886 997h.1M1893 974h.1M1854 979h.1M1874 970h.1M1851 980h.1M1790 932h.1M2018 953h.1M1893 934h.1M1801 956h.1M1756 947h.1M1986 969h.1M1912 921h.1M2065 959h.1M1729 983h.1M1971 954h.1M1774 990h.1M1954 994h.1M1739 836h.1M1862 968h.1M1811 995h.1M1742 997h.1M2109 977h.1M1785 977h.1M1943 988h.1M1808 985h.1M1752 990h.1M1635 946h.1M1782 962h.1M1766 976h.1M1863 969h.1M1904 876h.1M1778 911h.1M1930 975h.1M1873 987h.1M1904 941h.1M1872 946h.1M1860 982h.1M1917 980h.1M1806 970h.1M1875 935h.1M1858 970h.1M1784 960h.1M1801 957h.1M1891 976h.1M2049 920h.1M1956 992h.1M1912 947h.1M1783 977h.1M1775 987h.1M1666 761h.1M1720 924h.1M1845 983h.1M1874 988h.1M1962 869h.1M1740 990h.1M1812 996h.1M2089 950h.1M1987 835h.1M1898 931h.1M1885 994h.1M1900 973h.1M1763 859h.1M1891 948h.1M1869 992h.1M1952 929h.1M1891 944h.1M1857 962h.1M1806 992h.1M1841 989h.1M1858 972h.1M1768 982h.1M1866 959h.1M1906 898h.1M1996 904h.1M1751 988h.1M1812 987h.1M1742 920h.1M1714 978h.1M1887 925h.1M2151 993h.1M1912 953h.1M1888 981h.1M1832 996h.1M1811 983h.1M1881 971h.1M1907 994h.1M1803 971h.1M1750 959h.1M1942 956h.1M1743 927h.1M1762 975h.1M1741 736h.1M1734 990h.1M1901 992h.1M1880 914h.1M1845 982h.1M1862 984h.1M1763 908h.1M1867 985h.1M1799 974h.1M1759 811h.1M1859 980h.1M1885 984h.1M1851 990h.1M1748 710h.1M1897 921h.1M1945 929h.1M2029 974h.1M1801 997h.1M1905 955h.1M1912 862h.1M1825 990h.1M1970 996h.1M1789 972h.1M1723 981h.1M1840 996h.1M1890 907h.1M1890 920h.1M2010 990h.1M1886 996h.1M1770 965h.1M1872 940h.1M1822 996h.1M1777 975h.1M1989 869h.1M1793 980h.1M1918 880h.1M1800 955h.1M1893 896h.1M1943 946h.1M2032 976h.1M1840 995h.1M1822 993h.1M1789 962h.1M1908 926h.1M1798 978h.1M2076 936h.1M1790 995h.1M1933 977h.1M1777 997h.1M1989 915h.1M1768 942h.1M1795 954h.1M1692 896h.1M1845 979h.1M1769 856h.1M1917 878h.1M1782 994h.1M1743 932h.1M1815 980h.1M1611 982h.1M1810 988h.1M1759 965h.1M1741 875h.1M1805 963h.1M1807 974h.1M1871 949h.1M1958 958h.1M1746 888h.1M1838 991h.1M1900 950h.1M1789 996h.1M1858 958h.1M1872 968h.1M1803 975h.1M1858 975h.1M1897 928h.1M1858 960h.1M1720 969h.1M1896 933h.1M1866 992h.1M1891 968h.1M1865 985h.1M1884 955h.1M1940 987h.1M1875 960h.1M1997 963h.1M1759 960h.1M1918 989h.1M1929 942h.1M1758 891h.1M1887 899h.1M1809 996h.1M1920 983h.1M1737 968h.1M1738 990h.1M1951 975h.1M1891 923h.1M1891 938h.1M1735 990h.1M1764 994h.1M1861 991h.1M2127 995h.1M1811 990h.1M1914 837h.1M1800 988h.1M1756 908h.1M1859 971h.1M2021 983h.1M1752 980h.1M1774 904h.1M2018 886h.1M1659 978h.1M1777 982h.1M1844 996h.1M1873 947h.1M1694 883h.1M1835 992h.1M1853 974h.1M1806 996h.1M1967 926h.1M1942 930h.1M1877 966h.1M1887 885h.1M1875 924h.1M1872 934h.1M1846 985h.1M1920 703h.1M1904 936h.1M1847 990h.1M1864 973h.1M1791 994h.1M1891 915h.1M1788 944h.1M1757 972h.1M1709 875h.1M1896 861h.1M1735 875h.1M1935 997h.1M1860 986h.1M1698 983h.1M1845 981h.1M1855 987h.1M1912 986h.1M1870 987h.1M1924 888h.1M1870 966h.1M1923 791h.1M1887 984h.1M1917 808h.1M1875 991h.1M1871 939h.1M1781 990h.1M1719 834h.1M1848 984h.1M1701 990h.1M1774 886h.1M1911 936h.1M1697 905h.1M1946 959h.1M1897 874h.1M1814 984h.1M1800 962h.1M1777 948h.1M1680 907h.1M1821 994h.1M1730 970h.1M1888 887h.1M1742 961h.1M1942 949h.1M1993 745h.1M1934 986h.1M1811 996h.1M1958 977h.1M1904 981h.1M1875 981h.1M1933 965h.1M1707 905h.1M1766 919h.1M1952 991h.1M1782 913h.1M1771 886h.1M1883 925h.1M1930 960h.1M1901 881h.1M1743 857h.1M1782 947h.1M1812 980h.1M1736 866h.1M1726 967h.1M1709 927h.1M1882 996h.1M1948 907h.1M1751 922h.1M1749 963h.1M1883 959h.1M1825 993h.1M1921 957h.1M1870 982h.1M1796 952h.1M1803 993h.1M1877 997h.1M1855 970h.1M1791 956h.1M1995 886h.1M1923 750h.1M1781 912h.1M1877 934h.1M1804 962h.1M1920 839h.1M1905 920h.1M1816 984h.1M1773 976h.1M1766 922h.1M1872 982h.1M1834 995h.1M1806 987h.1M1928 979h.1M1780 969h.1M1781 962h.1M1883 945h.1M1787 946h.1M1810 987h.1M1792 954h.1M1777 982h.1M1732 967h.1M2014 987h.1M1806 985h.1M1799 985h.1M1800 961h.1M1814 980h.1M1736 858h.1M1699 961h.1M1878 977h.1M1976 955h.1M1867 945h.1M1795 995h.1M1694 942h.1M1797 979h.1M1778 900h.1M1712 967h.1M1862 956h.1M1844 985h.1M1904 948h.1M1909 826h.1M1798 965h.1M1760 990h.1M1755 992h.1M1855 982h.1M1822 989h.1M1694 970h.1M1876 944h.1M1708 932h.1M1873 958h.1M1904 967h.1M1867 968h.1M1795 947h.1M1964 974h.1M1916 947h.1M1672 991h.1M1778 936h.1M1891 962h.1M1941 908h.1M1699 909h.1M1975 918h.1M1765 992h.1M1898 964h.1M1841 994h.1M1791 947h.1M1801 980h.1M1870 967h.1M1870 973h.1M1835 997h.1M1802 979h.1M1903 865h.1M1882 973h.1M1686 917h.1M1743 874h.1M1982 983h.1M1741 894h.1M1772 917h.1M1767 887h.1M1728 926h.1M1935 963h.1M1935 892h.1M1772 945h.1M1760 928h.1M1861 971h.1M1842 983h.1M1725 941h.1M1876 949h.1M2050 979h.1M1812 983h.1M1919 887h.1M1760 990h.1M1757 990h.1M1927 921h.1M1683 969h.1M1968 985h.1M1917 934h.1M2159 895h.1M1795 965h.1M1820 996h.1M1871 984h.1M1798 979h.1M1789 940h.1M1889 973h.1M1752 961h.1M1777 974h.1M1907 903h.1M1935 901h.1M1723 930h.1M1783 956h.1M1784 958h.1M1894 944h.1M1700 870h.1M1874 935h.1M1742 872h.1M1802 967h.1M1945 980h.1M1860 961h.1M1856 977h.1M1745 991h.1M1871 949h.1M1779 939h.1M1774 957h.1M1782 974h.1M1779 965h.1M1952 925h.1M1758 996h.1M1757 942h.1M1764 913h.1M1758 905h.1M1887 994h.1M1878 931h.1M2090 864h.1M1823 990h.1M1783 939h.1M1869 952h.1M1870 996h.1M1888 947h.1M1804 981h.1M1774 991h.1M1806 967h.1M2006 929h.1M1942 930h.1M1899 972h.1M1792 943h.1M2085 975h.1M1908 924h.1M1750 733h.1M1734 986h.1M1825 996h.1M1916 937h.1M1901 848h.1M1948 947h.1M1901 843h.1M2027 985h.1M1920 989h.1M1808 973h.1M1798 990h.1M1791 977h.1M1888 929h.1M1851 978h.1M1728 974h.1M1676 956h.1M1769 930h.1M1758 895h.1M1901 974h.1M1864 969h.1M1871 970h.1M1917 981h.1M1802 966h.1M1441 991h.1M1813 984h.1M1950 888h.1M1708 904h.1M1652 895h.1M1742 898h.1M1812 972h.1M1889 992h.1M1902 990h.1M1801 990h.1M1754 963h.1M1893 993h.1M1752 859h.1M1873 974h.1M1874 983h.1M1740 854h.1M1769 899h.1M1987 980h.1M1720 874h.1M1820 985h.1M2063 983h.1M1863 991h.1M1808 975h.1M1871 974h.1M1812 975h.1M1910 968h.1M1815 987h.1M1788 940h.1M1902 946h.1M1889 960h.1M1876 924h.1M1929 897h.1M1959 849h.1M1938 911h.1M1718 936h.1M1760 946h.1M1865 978h.1M1789 995h.1M1822 993h.1M1794 959h.1M1773 996h.1M1818 990h.1M1796 952h.1M1907 980h.1M1890 943h.1M1798 976h.1M1748 927h.1M1765 967h.1M2087 931h.1M1786 969h.1M1893 989h.1M1759 848h.1M1856 984h.1M1751 984h.1M1782 923h.1M1922 971h.1M1755 938h.1M1922 911h.1M1885 893h.1M1765 962h.1M1967 991h.1M1879 992h.1M1826 991h.1M1797 977h.1M1638 926h.1M1703 997h.1M1776 988h.1M1815 990h.1M1862 974h.1M1771 914h.1M1889 961h.1M1700 856h.1M1694 887h.1M1765 988h.1M1752 914h.1M1758 961h.1M1932 976h.1M1731 979h.1M1746 980h.1M1698 989h.1M1782 939h.1M1959 933h.1M1791 969h.1M1709 879h.1M1756 956h.1M1947 785h.1M1895 921h.1M1966 880h.1M1803 990h.1M1774 987h.1M1953 992h.1M1824 994h.1M1769 930h.1M1771 953h.1M1768 991h.1M1918 914h.1M1887 966h.1M1882 986h.1M1889 882h.1M1889 955h.1M1920 870h.1M1754 868h.1M1721 978h.1M1880 939h.1M1868 948h.1M1866 945h.1M1714 943h.1M1811 989h.1M1932 941h.1M1874 995h.1M1804 979h.1M1745 937h.1M1833 996h.1M1880 943h.1M1883 919h.1M1912 996h.1M1864 991h.1M1872 969h.1M1837 990h.1M1929 960h.1M1817 996h.1M1744 955h.1M1777 912h.1M1763 941h.1M1968 977h.1M1920 755h.1M1909 969h.1M1775 942h.1M2262 948h.1M1734 930h.1M1864 974h.1M1924 862h.1M1822 994h.1M1907 914h.1M1797 974h.1M1858 992h.1M1774 910h.1M1784 985h.1M1977 923h.1M1862 982h.1M2089 974h.1M1979 953h.1M1915 982h.1M1897 933h.1M1859 978h.1M1679 962h.1M1887 940h.1M1752 964h.1M1902 991h.1M1937 860h.1M1888 945h.1M1807 977h.1M1967 983h.1M1846 990h.1M1736 918h.1M1705 906h.1M1892 938h.1M1793 948h.1M1760 992h.1M1935 890h.1M1934 940h.1M2011 946h.1M1811 976h.1M1820 997h.1M2159 923h.1M1793 958h.1M1948 954h.1M1733 969h.1M1969 947h.1M1819 997h.1M1719 982h.1M1823 989h.1M2008 956h.1M1822 988h.1M1904 977h.1M1790 940h.1M2024 952h.1M1953 878h.1M1946 972h.1M1925 996h.1M1748 944h.1M1759 889h.1M1760 821h.1M1921 984h.1M1877 969h.1M1953 922h.1M1812 975h.1M2170 938h.1M1723 802h.1M1866 960h.1M1712 987h.1M1762 860h.1M1917 856h.1M1783 994h.1M1840 985h.1M1816 986h.1M1495 996h.1M1858 964h.1M1943 951h.1M1724 892h.1M1876 930h.1M1768 923h.1M1890 970h.1M1795 987h.1M2008 929h.1M1815 994h.1M1962 893h.1M1944 872h.1M1937 898h.1M1796 996h.1M1853 983h.1M1877 944h.1M1764 984h.1M1676 994h.1M1807 986h.1M1859 984h.1M1958 979h.1M1763 992h.1M1752 782h.1M1897 942h.1M2017 862h.1M1867 969h.1M1889 952h.1M1856 997h.1M1910 996h.1M1877 921h.1M1927 925h.1M1883 942h.1M1801 995h.1M1968 965h.1M1836 994h.1M1730 981h.1M1951 842h.1M1915 941h.1M1873 975h.1M1841 987h.1M1753 948h.1M1877 949h.1M1740 986h.1M1761 938h.1M1771 979h.1M1789 970h.1M1906 829h.1M1737 881h.1M1784 946h.1M1895 938h.1M1796 978h.1M1785 956h.1M2099 900h.1M1900 827h.1M1804 977h.1M1883 984h.1M1715 920h.1M1791 983h.1M1860 993h.1M1902 940h.1M1866 988h.1M1883 964h.1M1856 997h.1M1724 951h.1M1862 966h.1M1996 972h.1M1727 979h.1M1789 937h.1M1892 968h.1M1703 983h.1M1879 931h.1M1817 995h.1M1896 995h.1M1803 996h.1M1667 978h.1M1820 989h.1M1766 883h.1M1751 987h.1M1871 956h.1M1869 942h.1M1852 992h.1M1786 942h.1M1800 964h.1M1718 749h.1M1785 939h.1M1860 958h.1M1741 945h.1M1729 985h.1M1897 967h.1M1738 957h.1M1868 963h.1M1722 980h.1M1484 979h.1M1894 957h.1M1799 971h.1M1785 985h.1M1894 956h.1M1775 904h.1M1899 994h.1M1883 959h.1M1998 945h.1M1726 974h.1M1874 956h.1M1684 963h.1M1842 982h.1M1780 957h.1M1783 939h.1M1868 945h.1M1637 959h.1M1921 981h.1M1844 983h.1M1751 780h.1M1859 963h.1M1746 942h.1M1854 985h.1M1808 988h.1M1809 989h.1M1932 946h.1M1797 975h.1M1796 956h.1M1961 965h.1M1748 916h.1M1774 889h.1M1880 992h.1M1756 860h.1M1873 997h.1M1776 926h.1M1876 992h.1M1867 945h.1M1781 987h.1M1894 995h.1M1800 983h.1M1888 971h.1M1755 914h.1M1853 968h.1M1858 996h.1M1836 993h.1M1961 955h.1M1869 987h.1M1791 975h.1M1856 981h.1M1790 936h.1M1858 974h.1M1798 984h.1M2076 975h.1M1947 917h.1M1638 941h.1M1935 955h.1M1769 952h.1M1964 947h.1M1866 980h.1M1883 931h.1M1815 979h.1M1735 991h.1M1781 964h.1M1888 965h.1M1824 993h.1M1810 972h.1M1926 944h.1M1752 868h.1M1756 930h.1M1772 944h.1M1910 993h.1M1734 974h.1M1860 980h.1M1845 985h.1M1854 976h.1M1940 972h.1M2002 899h.1M1798 974h.1M1935 982h.1M1753 933h.1M1807 976h.1M1759 844h.1M1918 807h.1M1858 991h.1M1926 996h.1M1796 980h.1M1784 996h.1M1873 947h.1M1843 985h.1M1877 964h.1M1735 883h.1M1905 992h.1M1909 943h.1M1726 970h.1M1706 942h.1M1778 952h.1M1892 969h.1M1722 917h.1M1805 973h.1M1794 984h.1M1921 984h.1M1752 870h.1M1754 903h.1M1703 933h.1M1763 996h.1M1764 843h.1M1869 987h.1M1949 896h.1M2039 797h.1M1920 753h.1M1794 974h.1M1737 959h.1M1808 993h.1M1903 990h.1M1868 974h.1M1754 771h.1M1900 949h.1M1763 967h.1M1792 945h.1M1998 971h.1M1629 888h.1M1854 983h.1M1665 923h.1M1826 996h.1M1916 994h.1M1582 886h.1M1905 956h.1M1814 992h.1M1950 993h.1M1958 980h.1M1808 968h.1M1777 959h.1M1904 928h.1M1942 945h.1M1730 979h.1M1774 941h.1M1852 997h.1M1877 957h.1M1962 921h.1M1825 993h.1M1988 950h.1M1860 967h.1M1852 981h.1M1530 954h.1M1862 975h.1M1770 923h.1M1857 979h.1M1739 874h.1M1977 983h.1M1931 954h.1M1807 989h.1M1768 894h.1M1740 918h.1M1745 905h.1M1952 819h.1M1698 926h.1M2042 919h.1M1769 889h.1M1728 988h.1M1973 980h.1M1819 993h.1M1741 874h.1M1860 970h.1M1848 992h.1M1763 953h.1M1772 956h.1M1906 884h.1M1733 969h.1M1791 991h.1M1802 969h.1M1821 988h.1M1740 970h.1M1767 952h.1M1949 801h.1M1817 994h.1M1746 943h.1M1797 959h.1M1773 967h.1M1823 995h.1M1808 990h.1M1638 948h.1M1906 846h.1M1826 992h.1M1727 987h.1M1924 951h.1M1917 947h.1M1863 960h.1M1809 973h.1M1891 963h.1M1972 903h.1M1753 899h.1M1807 985h.1M1899 955h.1M1876 967h.1M1820 987h.1M1886 998h.1M1885 986h.1M1806 970h.1M1876 959h.1M1769 899h.1M2013 961h.1M2042 951h.1M1872 991h.1M1902 851h.1M1975 949h.1M1766 988h.1M1812 982h.1M2064 955h.1M1786 981h.1M1774 952h.1M2042 983h.1M1792 949h.1M1863 992h.1M1782 943h.1M1851 988h.1M1927 912h.1M1774 903h.1M1841 990h.1M1952 935h.1M1931 973h.1M2013 963h.1M1913 727h.1M1796 971h.1M1851 993h.1M1870 971h.1M1867 983h.1M1865 987h.1M1777 919h.1M1879 958h.1M1702 957h.1M1964 949h.1M1981 941h.1M1946 993h.1M1896 986h.1M1810 988h.1M1919 960h.1M1857 967h.1M1879 935h.1M1453 998h.1M1883 901h.1M1999 987h.1M1873 954h.1M1875 987h.1M1892 915h.1M1934 944h.1M1801 969h.1M1858 996h.1M1859 960h.1M1793 976h.1M1881 936h.1M1651 985h.1M1799 970h.1M1895 925h.1M1699 968h.1M1864 962h.1M1933 914h.1M1753 977h.1M1968 971h.1M1726 955h.1M1880 956h.1M2019 897h.1M1852 973h.1M1996 787h.1M1864 950h.1M1900 983h.1M1908 961h.1M1868 949h.1M1764 911h.1M1887 893h.1M1808 975h.1M1811 976h.1M1895 931h.1M1790 967h.1M1732 956h.1M1727 872h.1M1780 922h.1M2005 975h.1M1944 979h.1M1877 976h.1M1911 911h.1M1936 877h.1M1983 996h.1M1703 841h.1M1843 990h.1M1697 915h.1M1893 981h.1M1876 997h.1M1925 943h.1M1780 989h.1M1691 955h.1M1905 995h.1M1752 990h.1M1896 980h.1M1875 936h.1M1784 993h.1M1861 988h.1M1826 994h.1M1855 971h.1M1849 982h.1M1794 964h.1M1598 992h.1M1748 981h.1M1709 889h.1M1841 990h.1M1854 990h.1M1657 887h.1M1785 937h.1M1820 989h.1M1756 821h.1M1804 986h.1M1779 911h.1M1600 983h.1M1884 979h.1M1904 847h.1M1787 926h.1M1783 970h.1M1937 898h.1M1849 997h.1M1979 941h.1M1956 829h.1M1754 875h.1M1811 970h.1M1866 982h.1M1681 856h.1M2162 987h.1M1746 918h.1M1881 907h.1M1879 980h.1M1779 979h.1M1860 963h.1M1702 899h.1M1723 970h.1M1932 991h.1M1898 890h.1M1900 940h.1M1768 894h.1M1877 918h.1M1912 902h.1M1847 987h.1M1863 989h.1M1883 947h.1M1822 994h.1M1889 965h.1M1792 971h.1M1778 975h.1M1711 985h.1M1798 949h.1M1992 896h.1M1884 988h.1M2102 932h.1M1754 835h.1M1951 944h.1M1849 985h.1M1907 843h.1M1791 967h.1M1915 889h.1M1809 986h.1M1771 992h.1M1869 966h.1M1842 986h.1M2032 922h.1M1880 993h.1M1774 964h.1M2031 971h.1M1898 863h.1M1864 987h.1M1976 929h.1M1872 969h.1M1850 988h.1M1789 961h.1M1904 984h.1M1939 993h.1M1797 991h.1M1820 989h.1M1917 992h.1M1800 975h.1M1803 986h.1M1762 976h.1M1712 993h.1M1775 922h.1M1784 969h.1M1889 958h.1M1885 936h.1M1733 918h.1M1898 912h.1M1880 996h.1M1764 919h.1M1816 982h.1M1982 922h.1M1775 991h.1M1742 925h.1M1805 963h.1M1917 928h.1M1924 890h.1M1918 781h.1M1799 991h.1M1899 866h.1M1722 961h.1M1852 990h.1M1806 964h.1M1793 994h.1M1898 842h.1M1789 963h.1M1892 957h.1M1805 985h.1M1764 898h.1M2000 977h.1M1779 972h.1M1929 986h.1M1853 980h.1M1818 984h.1M1907 978h.1M1766 982h.1M1811 987h.1M1943 977h.1M1918 992h.1M1786 964h.1M1894 977h.1M1890 992h.1M1786 971h.1M1799 984h.1M1964 962h.1M1919 960h.1M1861 991h.1M1854 972h.1M1762 869h.1M1939 997h.1M1879 989h.1M1767 987h.1M2099 974h.1M1871 992h.1M1808 989h.1M1915 887h.1M1908 814h.1M1788 995h.1M1864 984h.1M1760 836h.1M1921 933h.1M1821 988h.1M1807 991h.1M2000 838h.1M1883 962h.1M1778 912h.1M1870 961h.1M1856 978h.1M1895 993h.1M1871 969h.1M1803 969h.1M1913 933h.1M1773 977h.1M1868 942h.1M1895 889h.1M1760 868h.1M2124 962h.1M1908 937h.1M1880 934h.1M1871 957h.1M1805 961h.1M1894 858h.1M1799 988h.1M1775 948h.1M1901 966h.1M1889 923h.1M1857 963h.1M1934 962h.1M1738 994h.1M1871 938h.1M1964 960h.1M1781 927h.1M1783 936h.1M1879 995h.1M1949 981h.1M1888 924h.1M1845 985h.1M1849 975h.1M1770 913h.1M1867 945h.1M1808 994h.1M1703 948h.1M1667 978h.1M2106 981h.1M1723 966h.1M1804 974h.1M1697 987h.1M1958 920h.1M1883 970h.1M1945 888h.1M1982 971h.1M1850 985h.1M1924 983h.1M1887 891h.1M1662 890h.1M1804 969h.1M1799 990h.1M1717 950h.1M1722 885h.1M1960 923h.1M1934 979h.1M1774 975h.1M1789 939h.1M1706 891h.1M1877 964h.1M1710 930h.1M1949 942h.1M1849 984h.1M1890 909h.1M1887 902h.1M1733 948h.1M1781 934h.1M1944 900h.1M1903 978h.1M1913 856h.1M1899 933h.1M1797 949h.1M1789 972h.1M1777 998h.1M1848 993h.1M1703 911h.1M1739 912h.1M1784 992h.1M1700 993h.1M1872 941h.1M2005 865h.1M1862 995h.1M1946 946h.1M1784 996h.1M1746 989h.1M1785 986h.1M1985 941h.1M1842 984h.1M1902 913h.1M1721 752h.1M1897 906h.1M1804 979h.1M1778 915h.1M1914 989h.1M1861 963h.1M1721 974h.1M1927 961h.1M1899 955h.1M1954 991h.1M1902 980h.1M1717 981h.1M1787 993h.1M1798 965h.1M1922 987h.1M1861 974h.1M1736 982h.1M1735 947h.1M1912 918h.1M1875 969h.1M1756 994h.1M1751 778h.1M1916 879h.1M1856 980h.1M1780 938h.1M1788 946h.1M1991 980h.1M1783 919h.1M1908 973h.1M1787 969h.1M1792 942h.1M1972 970h.1M1787 973h.1M1878 960h.1M1800 989h.1M1777 980h.1M2054 908h.1M1886 982h.1M1769 884h.1M1931 889h.1M1734 977h.1M1872 980h.1M1735 897h.1M1788 954h.1M1874 967h.1M1785 931h.1M1909 921h.1M1933 975h.1M1876 986h.1M1905 915h.1M2002 832h.1M1906 961h.1M1807 973h.1M1771 992h.1M1805 986h.1M1799 973h.1M1990 986h.1M1783 985h.1M1736 927h.1M1877 963h.1M1694 932h.1M1758 973h.1M2060 978h.1M1809 979h.1M1751 957h.1M1877 941h.1M1919 808h.1M1670 874h.1M2033 923h.1M1791 959h.1M1774 992h.1M1704 962h.1M1732 991h.1M1821 994h.1M1954 908h.1M2006 949h.1M1855 964h.1M1752 951h.1M1946 971h.1M1852 992h.1M1867 969h.1M1812 995h.1M1802 959h.1M1641 955h.1M1863 971h.1M1801 990h.1M1842 988h.1M1729 936h.1M1883 992h.1M1793 958h.1M1888 955h.1M1811 987h.1M1771 947h.1M1714 916h.1M1863 976h.1M1892 925h.1M1914 954h.1M1754 913h.1M1813 993h.1M1779 984h.1M1858 984h.1M1892 962h.1M1774 915h.1M1878 989h.1M1942 933h.1M1801 964h.1M1807 988h.1M1652 974h.1M1781 957h.1M2033 966h.1M1842 989h.1M1770 923h.1M1861 990h.1M1890 903h.1M1779 969h.1M1698 996h.1M1754 882h.1M1674 877h.1M1934 715h.1M1787 995h.1M1886 937h.1M1886 995h.1M2046 932h.1M1861 984h.1M1786 978h.1M1853 994h.1M1866 972h.1M1761 931h.1M1808 991h.1M1914 934h.1M1788 935h.1M1946 925h.1M1931 962h.1M1755 978h.1M1787 979h.1M1858 997h.1M1761 879h.1M1899 868h.1M1881 984h.1M1802 989h.1M1900 955h.1M1835 994h.1M1738 973h.1M1916 911h.1M1760 925h.1M1749 941h.1M1873 975h.1M1751 982h.1M1876 993h.1M1852 991h.1M1810 981h.1M1755 950h.1M1743 840h.1M1907 956h.1M1815 977h.1M1815 983h.1M1719 943h.1M1838 996h.1M1885 945h.1M1860 984h.1M1847 991h.1M1823 992h.1M1860 992h.1M1734 953h.1M1773 967h.1M1865 975h.1M1734 995h.1M1915 740h.1M1787 938h.1M1921 922h.1M1727 932h.1M1849 992h.1M1704 965h.1M1746 899h.1M1760 856h.1M1924 954h.1M1822 986h.1M1752 983h.1M1747 903h.1M1945 965h.1M1850 979h.1M1689 889h.1M1861 965h.1M1940 955h.1M1916 898h.1M1794 995h.1M1896 974h.1M1881 996h.1M1778 934h.1M1975 980h.1M1796 951h.1M1998 918h.1M1764 970h.1M1885 911h.1M1760 944h.1M1974 979h.1M1740 954h.1M2022 985h.1M1839 996h.1M2108 960h.1M1824 989h.1M1897 880h.1M1917 927h.1M1860 973h.1M1990 822h.1M1896 855h.1M1916 919h.1M1875 957h.1M1898 836h.1M1797 958h.1M1716 984h.1M1847 987h.1M1756 925h.1M1803 991h.1M1722 953h.1M1685 969h.1M1882 991h.1M1981 923h.1M1788 989h.1M1983 877h.1M1843 994h.1M1770 925h.1M1764 888h.1M1744 953h.1M1877 965h.1M1767 922h.1M1922 773h.1M1950 892h.1M1936 979h.1M1796 989h.1M1796 981h.1M1865 959h.1M1935 991h.1M1856 982h.1M1731 925h.1M1937 942h.1M1765 997h.1M1943 746h.1M1795 993h.1M1820 987h.1M1901 961h.1M1729 889h.1M1875 929h.1M1738 984h.1M1961 966h.1M1873 945h.1M1857 983h.1M1815 987h.1M1747 930h.1M1817 986h.1M1792 963h.1M1754 870h.1M1752 874h.1M1855 974h.1M1776 972h.1M1855 993h.1M1753 963h.1M1948 993h.1M1905 948h.1M1883 973h.1M1744 957h.1M1617 989h.1M1768 954h.1M1851 986h.1M1708 979h.1M1812 988h.1M1768 964h.1M1909 914h.1M2019 939h.1M1690 953h.1M1845 993h.1M1727 927h.1M1805 997h.1M1765 913h.1M1776 968h.1M1779 941h.1M1728 949h.1M1779 973h.1M1788 969h.1M1981 919h.1M1702 965h.1M1991 930h.1M1809 973h.1M1824 994h.1M1867 952h.1M1907 985h.1M1810 970h.1M1868 967h.1M1944 969h.1M1939 934h.1M1957 961h.1M1807 991h.1M1878 971h.1M1732 807h.1M1975 928h.1M2006 927h.1M1890 977h.1M1847 996h.1M1808 992h.1M1705 985h.1M1808 994h.1M1786 970h.1M1718 919h.1M1874 990h.1M1895 891h.1M2002 981h.1M1819 989h.1M1857 966h.1M1786 982h.1M1779 898h.1M1875 971h.1M1729 896h.1M1740 971h.1M1890 978h.1M1711 981h.1M1881 976h.1M1960 815h.1M1741 959h.1M1797 972h.1M1904 975h.1M1746 835h.1M1920 926h.1M1941 966h.1M1769 955h.1M1874 967h.1M1774 977h.1M1934 980h.1M1765 980h.1M2033 877h.1M1880 976h.1M1966 916h.1M1917 796h.1M1789 975h.1M1806 991h.1M1908 998h.1M1841 996h.1M1874 978h.1M1788 967h.1M2057 891h.1M1840 995h.1M1921 799h.1M1887 968h.1M1927 911h.1M1907 995h.1M1938 927h.1M1799 986h.1M1892 983h.1M1806 968h.1M1770 870h.1M1786 948h.1M1905 910h.1M1841 996h.1M1811 972h.1M1900 931h.1M1901 990h.1M1858 961h.1M1926 955h.1M1918 961h.1M1732 994h.1M1653 954h.1M1827 996h.1M1761 989h.1M1807 975h.1M1752 923h.1M1883 991h.1M1899 925h.1M1717 976h.1M1795 942h.1M1700 995h.1M1862 977h.1M1963 938h.1M1788 988h.1M1872 953h.1M1608 921h.1M1782 961h.1M1747 895h.1M1846 981h.1M1792 986h.1M2075 986h.1M1949 968h.1M1784 961h.1M1939 819h.1M1931 818h.1M1765 954h.1M1883 905h.1M1786 962h.1M1799 995h.1M1740 941h.1M1707 926h.1M1795 956h.1M1938 991h.1M1926 988h.1M1765 891h.1M1670 877h.1M1891 988h.1M1792 959h.1M1721 996h.1M1718 933h.1M1802 975h.1M1757 910h.1M1913 954h.1M1878 967h.1M1903 981h.1M1946 839h.1M1948 956h.1M1856 970h.1M1793 972h.1M1746 888h.1M2023 991h.1M1996 896h.1M1887 965h.1M1787 958h.1M1908 844h.1M1771 914h.1M1919 868h.1M1898 933h.1M1892 990h.1M2016 918h.1M1730 912h.1M1940 958h.1M2159 969h.1M1873 965h.1M1906 952h.1M1838 991h.1M2071 980h.1M1614 991h.1M1763 913h.1M1989 995h.1M1786 966h.1M1742 927h.1M1915 994h.1M1773 948h.1M1714 977h.1M1891 971h.1M1870 959h.1M1933 911h.1M1772 951h.1M1799 956h.1M1787 958h.1M1780 916h.1M1788 930h.1M1751 943h.1M1779 990h.1M2024 977h.1M1762 988h.1M1804 975h.1M1844 989h.1M1695 950h.1M1900 911h.1M1764 871h.1M1892 980h.1M1869 964h.1M1847 987h.1M1856 986h.1M1946 943h.1M1864 973h.1M1921 979h.1M1853 996h.1M1802 969h.1M1800 959h.1M1884 992h.1M1969 991h.1M1844 985h.1M1756 914h.1M1869 971h.1M1704 894h.1M1951 984h.1M1753 974h.1M1904 899h.1M1867 961h.1M1898 835h.1M1833 996h.1M1741 791h.1M1842 992h.1M1801 974h.1M2008 990h.1M1785 977h.1M2003 848h.1M1753 937h.1M1859 970h.1M2131 940h.1M1923 975h.1M1823 991h.1M1882 913h.1M1881 962h.1M1885 978h.1M1752 995h.1M1820 986h.1M1933 985h.1M1868 988h.1M1935 947h.1M1921 971h.1M1961 980h.1M1866 986h.1M1794 961h.1M1911 978h.1M1726 859h.1M1984 824h.1M1910 933h.1M1789 948h.1M1878 973h.1M1713 988h.1M1927 874h.1M2034 968h.1M1917 978h.1M1885 961h.1M1938 890h.1M1807 972h.1M1789 964h.1M1739 889h.1M1669 785h.1M1822 992h.1M1693 980h.1M1820 987h.1M1766 960h.1M1914 881h.1M1901 937h.1M1736 982h.1M1872 949h.1M1953 837h.1M1911 910h.1M1843 988h.1M1784 960h.1M1827 996h.1M1781 971h.1M1868 966h.1M1783 928h.1M1923 916h.1M1751 970h.1M1702 963h.1M1667 903h.1M1781 932h.1M1817 985h.1M1898 828h.1M1958 956h.1M1865 979h.1M1868 967h.1M1880 996h.1M1904 943h.1M1780 906h.1M1862 962h.1M1788 978h.1M1767 903h.1M1766 945h.1M1786 988h.1M1868 970h.1M1775 958h.1M1903 920h.1M1777 996h.1M1780 990h.1M1766 871h.1M1964 850h.1M1772 985h.1M1755 986h.1M1875 996h.1M1737 921h.1M1863 983h.1M1688 979h.1M1923 910h.1M1769 899h.1M2064 984h.1M1592 903h.1M1882 985h.1M1852 977h.1M1786 994h.1M1846 984h.1M1882 955h.1M1747 859h.1M1916 936h.1M1945 896h.1M1879 991h.1M1781 942h.1M1770 874h.1M1977 910h.1M1941 938h.1M1807 982h.1M1909 962h.1M1891 993h.1M1947 986h.1M2060 963h.1M1852 974h.1M1837 994h.1M1813 988h.1M1772 969h.1M1852 972h.1M1923 977h.1M1823 989h.1M2001 987h.1M1876 986h.1M1875 968h.1M1872 973h.1M1922 972h.1M1964 981h.1M1767 856h.1M2021 854h.1M1911 893h.1M1956 946h.1M2044 919h.1M1896 956h.1M1889 947h.1M1870 954h.1M2116 962h.1M1750 938h.1M1743 944h.1M1866 969h.1M1811 975h.1M1911 947h.1M1862 954h.1M1762 953h.1M1904 980h.1M1793 956h.1M1857 979h.1M1870 950h.1M1826 996h.1M1791 976h.1M1770 915h.1M2009 863h.1M1745 987h.1M1763 829h.1M1788 966h.1M1929 987h.1M1949 876h.1M1883 936h.1M1905 852h.1M1874 989h.1M1975 953h.1M1962 974h.1M1863 987h.1M1927 855h.1M1746 931h.1M1741 997h.1M1733 887h.1M1953 718h.1M1896 873h.1M1877 994h.1M1752 976h.1M1745 930h.1M1808 988h.1M2052 788h.1M1869 969h.1M1914 924h.1M1883 926h.1M1814 988h.1M1791 980h.1M1860 975h.1M1733 755h.1M1744 910h.1M1872 947h.1M1882 993h.1M1903 955h.1M1897 939h.1M1748 975h.1M1804 966h.1M1746 904h.1M1861 978h.1M1753 973h.1M1784 939h.1M1953 977h.1M1733 970h.1M1819 987h.1M1868 981h.1M1905 937h.1M1686 969h.1M1896 989h.1M1718 891h.1M1902 861h.1M1724 981h.1M1894 876h.1M1754 982h.1M1777 960h.1M1887 932h.1M1763 992h.1M1781 997h.1M1866 989h.1M1911 927h.1M1882 933h.1M1756 970h.1M1868 981h.1M1794 997h.1M1854 995h.1M1968 995h.1M1870 959h.1M1943 960h.1M1752 995h.1M1672 974h.1M1825 994h.1M1991 889h.1M1785 989h.1M1681 970h.1M1890 989h.1M1661 969h.1M1918 989h.1M1864 952h.1M1962 846h.1M1964 980h.1M1876 937h.1M1896 881h.1M1783 953h.1M1968 984h.1M1907 846h.1M1780 950h.1M1909 903h.1M1650 959h.1M1720 781h.1M1859 972h.1M1707 958h.1M1795 980h.1M1786 977h.1M1907 984h.1M1897 948h.1M1857 979h.1M1750 968h.1M1754 959h.1M1955 983h.1M1709 900h.1M1957 968h.1M1847 979h.1M2020 970h.1M1870 983h.1M1934 950h.1M1796 969h.1M1916 941h.1M1852 969h.1M1710 986h.1M1862 959h.1M1651 984h.1M1879 939h.1M1897 833h.1M1852 974h.1M1777 954h.1M1891 986h.1M1942 892h.1M1768 954h.1M1909 950h.1M1806 990h.1M1785 975h.1M1891 906h.1M1746 883h.1M1775 974h.1M1758 818h.1M1884 990h.1M1736 871h.1M2013 968h.1M1886 942h.1M1789 988h.1M1787 927h.1M1813 974h.1M1871 951h.1M1919 973h.1M1983 900h.1M1924 968h.1M1751 962h.1M1903 974h.1M1790 965h.1M1800 980h.1M1758 986h.1M1724 968h.1M1789 974h.1M1809 993h.1M1926 938h.1M1928 992h.1M1858 992h.1M1801 969h.1M1871 967h.1M1919 903h.1M1803 977h.1M1811 976h.1M1942 942h.1M1921 874h.1M1769 987h.1M1885 903h.1M1964 967h.1M1870 992h.1M1855 993h.1M1929 988h.1M1847 989h.1M1758 837h.1M1795 971h.1M1938 918h.1M1928 948h.1M1808 992h.1M1875 953h.1M1935 912h.1M1916 983h.1M1749 967h.1M1744 911h.1M1756 992h.1M1769 874h.1M1704 798h.1M1744 951h.1M1925 821h.1M1678 916h.1M1859 970h.1M1854 980h.1M1762 896h.1M1956 927h.1M1771 987h.1M1795 976h.1M1908 882h.1M1858 969h.1M1917 972h.1M2125 788h.1M1780 904h.1M1879 989h.1M1781 918h.1M1784 981h.1M1910 948h.1M1764 982h.1M1784 985h.1M1891 992h.1M1764 915h.1M1780 955h.1M1775 979h.1M2021 892h.1M1901 947h.1M1855 970h.1M1780 908h.1M1703 930h.1M1752 952h.1M1762 966h.1M1860 989h.1M1720 924h.1M2044 950h.1M1896 908h.1M1848 980h.1M1765 938h.1M1751 932h.1M1890 957h.1M1887 905h.1M1879 974h.1M1969 973h.1M1871 988h.1M1763 862h.1M1761 972h.1M1898 993h.1M1931 973h.1M1892 891h.1M1814 976h.1M1787 962h.1M1890 996h.1M1842 984h.1M1917 918h.1M1973 947h.1M1721 946h.1M1871 948h.1M1915 852h.1M1933 915h.1M1744 997h.1M1691 944h.1M1821 995h.1M1798 986h.1M1901 974h.1M1894 943h.1M1802 964h.1M1852 989h.1M1769 994h.1M1782 987h.1M1910 963h.1M1945 865h.1M1851 990h.1M1656 899h.1M1822 990h.1M1845 987h.1M1929 982h.1M1919 982h.1M1920 760h.1M1912 881h.1M1798 975h.1M1718 848h.1M1848 996h.1M1876 959h.1M1688 993h.1M1886 985h.1M1803 975h.1M1806 966h.1M1869 994h.1M1881 972h.1M1755 826h.1M1982 950h.1M1815 979h.1M1892 988h.1M1688 914h.1M1780 969h.1M1748 722h.1M1891 894h.1M1975 931h.1M1859 972h.1M2167 929h.1M1877 959h.1M1861 968h.1M1941 993h.1M1904 971h.1M1743 953h.1M1884 912h.1M1746 850h.1M1813 983h.1M1745 919h.1M1779 959h.1M1996 909h.1M1838 996h.1M1686 914h.1M1775 958h.1M1914 943h.1M1899 836h.1M1871 946h.1M1791 948h.1M1946 923h.1M1882 964h.1M1956 986h.1M1805 976h.1M2047 987h.1M1946 928h.1M1977 863h.1M1808 981h.1M1712 994h.1M1883 980h.1M1768 989h.1M1772 945h.1M1805 980h.1M2071 992h.1M1916 969h.1M2185 984h.1M1735 962h.1M1788 977h.1M1750 864h.1M1965 872h.1M1937 990h.1M1822 991h.1M1888 971h.1M1769 980h.1M1780 960h.1M1789 931h.1M1736 993h.1M1813 978h.1M1792 979h.1M1998 966h.1M1860 961h.1M1825 994h.1M1908 910h.1M1726 982h.1M1943 969h.1M1783 984h.1M1742 899h.1M1902 997h.1M1952 953h.1M1781 962h.1M1884 995h.1M1694 948h.1M1883 905h.1M1924 925h.1M1817 981h.1M1901 917h.1M1779 913h.1M1889 988h.1M1779 917h.1M1911 960h.1M1881 967h.1M1766 990h.1M1717 979h.1M1899 979h.1M1857 989h.1M1936 995h.1M1775 932h.1M1886 984h.1M1860 995h.1M1876 951h.1M1731 918h.1M1936 992h.1M1652 950h.1M1893 978h.1M1939 969h.1M1860 972h.1M1925 945h.1M1994 977h.1M1775 941h.1M1786 977h.1M1909 961h.1M1716 880h.1M1879 984h.1M1895 987h.1M1697 933h.1M1784 979h.1M1901 861h.1M1759 870h.1M1898 825h.1M1930 994h.1M1845 992h.1M2010 946h.1M1820 997h.1M1865 996h.1M1747 946h.1M1892 869h.1M1924 947h.1M1977 984h.1M1798 958h.1M1920 805h.1M1914 987h.1M1791 975h.1M1918 934h.1M1792 945h.1M1933 972h.1M1780 917h.1M1906 907h.1M1771 879h.1M1918 851h.1M1908 868h.1M1755 937h.1M1858 992h.1M1802 979h.1M1807 974h.1M1919 956h.1M1876 923h.1M1955 921h.1M1879 994h.1M1889 986h.1M1863 976h.1M1787 966h.1M1799 982h.1M1838 994h.1M1896 881h.1M1735 952h.1M1876 981h.1M1762 956h.1M1742 950h.1M1944 923h.1M1906 978h.1M1787 934h.1M1763 982h.1M1770 989h.1M1906 980h.1M1756 968h.1M1718 883h.1M1696 988h.1M1838 990h.1M1855 974h.1M1868 961h.1M1936 961h.1M1746 966h.1M1712 996h.1M1918 753h.1M1915 993h.1M1845 992h.1M1756 972h.1M1923 941h.1M1741 920h.1M1877 945h.1M1932 930h.1M1768 973h.1M1709 862h.1M1760 879h.1M1916 974h.1M1792 988h.1M2025 977h.1M1916 770h.1M1864 950h.1M1700 921h.1M1781 944h.1M1840 996h.1M1956 988h.1M1753 935h.1M1751 892h.1M1951 983h.1M1847 990h.1M1721 908h.1M1765 963h.1M1876 930h.1M1896 923h.1M1763 992h.1M1884 936h.1M1806 984h.1M1714 897h.1M1876 934h.1M1701 952h.1M1930 881h.1M2075 808h.1M1866 963h.1M1759 957h.1M1856 979h.1M1872 989h.1M1803 990h.1M1694 954h.1M1955 831h.1M1797 979h.1M2047 925h.1M1885 931h.1M1798 950h.1M1975 963h.1M1622 964h.1M1768 913h.1M1943 982h.1M1762 941h.1M1951 952h.1M1736 900h.1M1890 921h.1M1814 988h.1M1932 911h.1M1873 944h.1M1782 995h.1M1824 997h.1M1856 980h.1M1738 887h.1M1912 932h.1M1841 988h.1M2009 988h.1M1816 985h.1M1906 962h.1M1955 965h.1M1885 929h.1M1801 979h.1M1739 928h.1M1811 976h.1M1904 958h.1M1889 991h.1M1876 967h.1M1875 970h.1M1725 864h.1M1877 963h.1M1775 989h.1M1707 966h.1M1907 961h.1M1768 988h.1M1744 947h.1M2114 898h.1M1962 906h.1M1909 941h.1M1900 927h.1M1850 985h.1M1886 994h.1M1800 972h.1M1747 991h.1M1870 951h.1M1750 921h.1M1918 990h.1M1783 976h.1M1892 875h.1M1872 973h.1M2236 903h.1M1702 984h.1M1804 986h.1M1721 985h.1M1798 978h.1M1686 955h.1M1807 990h.1M1844 989h.1M1760 993h.1M1861 991h.1M1878 933h.1M1923 864h.1M1764 968h.1M1786 934h.1M1813 982h.1M1890 941h.1M1859 959h.1M1756 981h.1M1798 951h.1M1817 986h.1M1823 990h.1M1883 941h.1M1886 952h.1M1752 822h.1M1925 923h.1M1808 968h.1M1860 982h.1M1811 992h.1M1890 976h.1M1907 936h.1M1858 985h.1M1732 947h.1M1858 986h.1M1972 782h.1M1768 856h.1M1709 934h.1M1812 985h.1M1826 994h.1M1809 989h.1M1793 938h.1M1743 909h.1M1797 966h.1M1916 909h.1M1839 987h.1M1790 937h.1M1892 924h.1M1908 979h.1M1795 945h.1M1952 987h.1M1910 944h.1M1944 909h.1M2075 928h.1M1896 938h.1M1949 882h.1M1701 860h.1M1753 991h.1M1951 983h.1M1964 935h.1M1862 955h.1M1875 991h.1M1795 970h.1M1812 978h.1M1889 997h.1M1740 967h.1M1750 730h.1M1773 947h.1M1683 953h.1M1748 994h.1M1777 916h.1M1879 980h.1M1735 928h.1M1772 962h.1M1790 991h.1M2110 912h.1M1710 978h.1M1710 978h.1M1758 908h.1M1796 985h.1M1882 925h.1M1924 971h.1M1538 949h.1M1809 982h.1M1764 916h.1M1781 971h.1M1813 995h.1M1963 984h.1M1899 941h.1M1875 977h.1M2020 949h.1M1937 960h.1M1944 988h.1M1975 947h.1M1915 992h.1M1770 873h.1M1890 969h.1M1795 974h.1M2202 956h.1M1859 993h.1M1839 994h.1M1915 944h.1M1719 948h.1M1819 992h.1M1773 969h.1M1801 988h.1M1805 988h.1M1903 926h.1M1870 946h.1M2084 954h.1M1851 995h.1M1852 988h.1M1808 989h.1M1716 964h.1M1891 994h.1M1938 877h.1M1759 958h.1M1812 982h.1M1927 924h.1M1852 996h.1M1889 956h.1M1748 971h.1M2017 976h.1M1814 992h.1M1733 810h.1M1930 896h.1M2050 983h.1M1743 810h.1M1868 961h.1M1802 974h.1M1688 993h.1M1862 983h.1M1918 890h.1M1772 974h.1M1698 962h.1M1822 988h.1M1799 974h.1M1700 946h.1M1542 972h.1M1787 940h.1M1682 979h.1M1979 945h.1M2112 946h.1M1800 987h.1M1738 986h.1M1882 921h.1M1869 976h.1M1732 958h.1M1899 970h.1M1742 706h.1M1764 883h.1M1872 944h.1M1932 822h.1M1873 945h.1M1907 861h.1M2048 974h.1M1882 993h.1M1890 879h.1M1821 997h.1M1855 986h.1M1974 921h.1M1871 936h.1M1928 953h.1M1848 995h.1M1897 993h.1M1899 963h.1M1762 965h.1M1917 925h.1M1784 959h.1M1911 897h.1M1703 953h.1M1808 976h.1M1851 984h.1M1802 973h.1M1777 899h.1M1793 990h.1M1758 978h.1M1779 973h.1M1805 989h.1M1768 915h.1M1777 939h.1M1982 957h.1M1739 752h.1M1771 962h.1M1866 992h.1M1877 919h.1M1847 994h.1M1851 985h.1M1855 981h.1M1861 995h.1M1858 986h.1M1843 987h.1M1856 977h.1M1931 844h.1M1924 955h.1M1752 901h.1M1818 983h.1M1822 995h.1M1781 915h.1M1945 948h.1M1849 981h.1M1958 797h.1M1857 985h.1M1794 986h.1M1852 992h.1M1784 921h.1M1849 991h.1M1788 986h.1M1755 922h.1M1889 990h.1M1861 956h.1M1948 955h.1M1759 868h.1M1960 959h.1M1907 909h.1M1795 966h.1M1597 936h.1M1715 886h.1M1887 995h.1M1796 996h.1M1790 932h.1M1865 974h.1M1787 995h.1M1787 991h.1M1892 881h.1M1764 897h.1M1807 966h.1M1863 966h.1M1972 923h.1M1898 915h.1M1864 993h.1M1951 986h.1M1595 954h.1M2012 954h.1M1895 882h.1M1754 944h.1M1854 970h.1M1762 891h.1M1872 977h.1M1866 963h.1M1869 970h.1M1732 983h.1M1737 992h.1M1960 942h.1M2055 969h.1M1957 833h.1M1906 978h.1M1946 993h.1M1856 980h.1M1811 989h.1M1724 931h.1M1865 973h.1M1806 974h.1M1937 951h.1M1942 938h.1M1858 981h.1M1800 996h.1M1808 978h.1M1806 992h.1M1855 974h.1M1785 982h.1M1726 912h.1M2132 912h.1M1786 939h.1M1888 943h.1M1770 979h.1M1850 988h.1M1822 989h.1M2094 936h.1M1813 981h.1M1757 867h.1M1878 943h.1M1761 987h.1M1915 965h.1M1887 988h.1M1876 949h.1M1886 939h.1M1926 968h.1M1809 975h.1M1998 942h.1M1763 907h.1M1754 991h.1M1991 863h.1M1648 995h.1M1686 935h.1M1700 959h.1M1849 996h.1M2042 984h.1M1763 950h.1M1897 986h.1M1716 959h.1M1880 948h.1M1818 987h.1M1912 968h.1M1808 971h.1M1914 931h.1M1776 889h.1M1858 980h.1M1874 951h.1M1867 958h.1M1966 962h.1M1791 984h.1M1976 809h.1M1755 939h.1M1878 968h.1M1738 924h.1M1716 961h.1M1391 996h.1M1633 922h.1M1414 874h.1M2121 984h.1M2233 888h.1M1513 961h.1M1561 899h.1M1520 981h.1M2086 996h.1M2211 957h.1M2158 938h.1M1944 944h.1M1617 963h.1M2234 995h.1M1595 993h.1M1445 959h.1M2100 993h.1M1609 986h.1M2253 977h.1M2228 935h.1M2260 994h.1M2070 918h.1M2016 829h.1M2202 957h.1M1470 996h.1M2188 846h.1M2078 993h.1M2260 996h.1M2141 990h.1M1620 997h.1M1644 984h.1M1959 834h.1M1613 928h.1M1545 992h.1M1978 968h.1M1589 992h.1M1465 947h.1M1983 995h.1M1504 873h.1M2211 995h.1M2183 996h.1M1691 934h.1M1464 993h.1M1396 879h.1M1625 902h.1M2218 899h.1M2229 858h.1M1449 872h.1M1723 962h.1M2018 997h.1M1631 993h.1M1712 937h.1M2254 995h.1M1593 891h.1M2097 984h.1M1962 997h.1M1530 990h.1M2209 997h.1M2216 984h.1M1609 996h.1M2172 930h.1M2013 969h.1M1493 961h.1M2035 965h.1M2006 991h.1M1526 867h.1M2065 865h.1M1974 943h.1M1688 966h.1M1988 995h.1M1592 853h.1M2202 898h.1M1448 950h.1M2176 978h.1M1468 936h.1M1422 962h.1M1415 997h.1M1445 977h.1M1475 914h.1M1671 923h.1M1709 827h.1M1569 865h.1M2081 997h.1M1973 987h.1M2077 946h.1M2010 992h.1M1505 851h.1M2070 967h.1M2136 997h.1M1971 927h.1M2120 971h.1M1598 987h.1M1634 937h.1M1433 934h.1M1597 985h.1M1674 959h.1M2065 977h.1M1536 873h.1M2245 957h.1M2242 967h.1M1682 932h.1M2118 937h.1M1647 982h.1M1990 992h.1M2070 986h.1M2258 989h.1M1502 974h.1M2171 875h.1M1614 997h.1M1691 965h.1M2019 958h.1M2269 992h.1M1571 996h.1M1451 958h.1M1472 971h.1M1934 996h.1M1975 996h.1M1727 888h.1M1976 979h.1M1708 953h.1M2115 997h.1M2006 950h.1M2269 967h.1M2173 905h.1M1992 930h.1M2016 995h.1M2039 997h.1M1995 974h.1M1701 985h.1M1997 853h.1M2159 993h.1M1658 973h.1M2075 888h.1M1631 992h.1M1478 993h.1M2213 944h.1M1587 902h.1M1593 828h.1M2178 948h.1M1436 977h.1M1740 803h.1M1753 905h.1M1740 735h.1M1941 789h.1M1712 905h.1M1898 808h.1M1704 928h.1M1718 902h.1M1751 765h.1M1738 831h.1M1754 851h.1M1953 800h.1M1963 838h.1M1701 840h.1M1726 857h.1M1916 839h.1M1964 815h.1M1734 976h.1M1706 795h.1M1956 796h.1M1922 827h.1M1738 930h.1M1911 911h.1M1950 835h.1M1923 817h.1M1935 775h.1M1710 921h.1M1917 840h.1M1906 758h.1M1927 870h.1M1716 931h.1M1752 899h.1M1724 777h.1M1915 774h.1M1709 916h.1M1913 807h.1M1960 908h.1M1951 839h.1M1955 891h.1M1737 829h.1M1927 944h.1M1908 894h.1M1905 755h.1M1942 786h.1M1933 717h.1M1903 826h.1M1701 812h.1M1698 830h.1M1713 830h.1M1740 868h.1M1907 836h.1M1745 822h.1M1751 766h.1M1716 697h.1M1962 887h.1M1753 748h.1M1762 880h.1M1932 833h.1M1731 823h.1M1703 743h.1M1706 843h.1M1733 717h.1M1761 789h.1M1717 842h.1M1927 850h.1M1718 758h.1M1701 806h.1M1958 831h.1M1752 807h.1M1720 785h.1M1681 115h.1M1608 153h.1M1663 226h.1M1676 351h.1M1657 455h.1M1720 495h.1M1692 505h.1M1706 528h.1M1705 570h.1M1709 612h.1M1690 640h.1M1720 600h.1M1700 700h.1M1690 725h.1M1710 745h.1M2130 560h.1M1990 694h.1M2000 785h.1M1925 784h.1" stroke="#909090" stroke-width="3.4" stroke-linecap="round" fill="none" opacity="0.36"/>
<defs><filter id="vb" x="-20%" y="-20%" width="140%" height="140%"><feGaussianBlur stdDeviation="2.2"/></filter></defs>
<path d="M1830.8 997.0L1828.3 993.6L1825.9 990.2L1823.4 986.8L1821.0 983.4L1818.6 980.0L1816.2 976.6L1813.8 973.3L1811.5 969.9L1809.3 966.5L1807.2 963.1L1805.1 959.7L1803.1 956.3L1801.2 952.9L1799.3 949.5L1797.6 946.1L1795.9 942.7L1794.3 939.3L1792.8 935.9L1791.3 932.5L1789.9 929.2L1788.6 925.8L1787.4 922.4L1786.1 919.0L1785.0 915.6L1783.8 912.2L1782.8 908.8L1781.7 905.4L1780.7 902.0L1779.8 898.6L1778.8 895.2L1777.9 891.8L1777.0 888.4L1776.2 885.1L1775.4 881.7L1774.6 878.3L1773.8 874.9L1773.0 871.5L1772.3 868.1L1771.6 864.7L1770.9 861.3L1770.9 861.3L1771.3 864.7L1771.7 868.1L1771.9 871.5L1772.2 874.9L1772.4 878.3L1772.7 881.7L1772.9 885.1L1773.1 888.4L1773.3 891.8L1773.6 895.2L1773.8 898.6L1774.1 902.0L1774.3 905.4L1774.6 908.8L1775.0 912.2L1775.3 915.6L1775.7 919.0L1776.0 922.4L1776.5 925.8L1776.9 929.2L1777.4 932.5L1778.0 935.9L1778.6 939.3L1779.2 942.7L1779.8 946.1L1780.5 949.5L1781.2 952.9L1781.8 956.3L1782.5 959.7L1783.0 963.1L1783.4 966.5L1783.6 969.9L1783.5 973.3L1782.9 976.6L1781.6 980.0L1779.4 983.4L1776.0 986.8L1770.9 990.2L1763.5 993.6L1753.0 997.0ZM1830.8 997.0L1833.3 993.6L1835.7 990.2L1838.2 986.8L1840.6 983.4L1843.0 980.0L1845.4 976.6L1847.8 973.3L1850.1 969.9L1852.3 966.5L1854.4 963.1L1856.5 959.7L1858.5 956.3L1860.4 952.9L1862.3 949.5L1864.0 946.1L1865.7 942.7L1867.3 939.3L1868.8 935.9L1870.3 932.5L1871.7 929.2L1873.0 925.8L1874.2 922.4L1875.5 919.0L1876.6 915.6L1877.8 912.2L1878.8 908.8L1879.9 905.4L1880.9 902.0L1881.8 898.6L1882.8 895.2L1883.7 891.8L1884.6 888.4L1885.4 885.1L1886.2 881.7L1887.0 878.3L1887.8 874.9L1888.6 871.5L1889.3 868.1L1890.0 864.7L1890.7 861.3L1890.7 861.3L1890.3 864.7L1890.1 868.1L1889.9 871.5L1889.8 874.9L1889.7 878.3L1889.6 881.7L1889.5 885.1L1889.5 888.4L1889.4 891.8L1889.3 895.2L1889.3 898.6L1889.2 902.0L1889.1 905.4L1889.0 908.8L1888.9 912.2L1888.7 915.6L1888.6 919.0L1888.4 922.4L1888.2 925.8L1887.9 929.2L1887.6 932.5L1887.3 935.9L1887.0 939.3L1886.6 942.7L1886.2 946.1L1885.8 949.5L1885.4 952.9L1885.1 956.3L1884.8 959.7L1884.6 963.1L1884.6 966.5L1885.0 969.9L1885.7 973.3L1887.1 976.6L1889.2 980.0L1892.6 983.4L1897.4 986.8L1904.4 990.2L1914.3 993.6L1928.1 997.0Z" fill="#8f8f8f" opacity="0.92" filter="url(#vb)"/>
<path d="M1761 834h.1M1858 965h.1M1884 912h.1M1799 949h.1M1895 980h.1M1863 960h.1M1792 993h.1M1782 933h.1M1835 995h.1M1764 910h.1M1756 989h.1M1786 997h.1M1772 912h.1M1887 943h.1M1915 934h.1M1913 950h.1M1889 923h.1M1663 978h.1M1903 974h.1M1851 972h.1M1726 983h.1M1771 976h.1M1897 908h.1M1815 986h.1M1787 960h.1M1868 985h.1M1863 989h.1M1868 962h.1M1760 925h.1M1881 966h.1M1741 913h.1M1786 974h.1M1866 970h.1M1789 989h.1M1758 864h.1M1843 994h.1M1908 952h.1M1864 948h.1M1862 973h.1M1775 916h.1M1872 959h.1M1863 952h.1M1855 985h.1M1769 948h.1M1881 952h.1M1892 936h.1M1884 967h.1M1922 972h.1M1765 884h.1M1883 921h.1M1813 995h.1M1779 964h.1M1795 980h.1M1856 972h.1M1868 957h.1M1826 991h.1M1801 981h.1M1850 984h.1M1808 994h.1M1849 987h.1M1898 914h.1M1850 986h.1M1853 990h.1M1876 978h.1M1787 928h.1M1891 987h.1M1843 993h.1M1787 956h.1M1846 989h.1M1808 995h.1M1789 955h.1M1901 914h.1M1882 970h.1M1905 915h.1M1907 944h.1M1843 997h.1M1884 973h.1M1838 994h.1M1861 981h.1M1760 950h.1M1863 972h.1M1874 987h.1M1866 972h.1M1890 993h.1M1884 938h.1M1878 950h.1M1798 947h.1M1875 940h.1M1768 874h.1M1904 936h.1M1769 856h.1M1787 940h.1M1818 995h.1M1795 984h.1M1794 945h.1M1845 983h.1M1783 943h.1M1855 977h.1M1885 948h.1M1767 917h.1M1756 879h.1M1842 989h.1M1808 985h.1M1800 986h.1M1772 916h.1M1946 831h.1M1860 979h.1M1862 964h.1M1875 982h.1M1940 953h.1M1823 993h.1M1802 964h.1M1874 929h.1M1815 979h.1M1779 945h.1M1807 975h.1M1921 963h.1M1854 992h.1M1909 985h.1M1709 847h.1M1892 896h.1M1778 954h.1M1894 869h.1M1771 938h.1M1914 957h.1M1867 996h.1M1865 962h.1M1787 972h.1M1763 986h.1M1942 958h.1M1857 960h.1M1855 988h.1M1886 941h.1M1760 991h.1M1762 974h.1M1879 935h.1M1808 994h.1M1890 868h.1M1977 965h.1M1867 953h.1M1879 911h.1M1847 979h.1M1866 987h.1M1645 979h.1M1848 975h.1M1838 996h.1M1913 945h.1M2016 905h.1M1908 981h.1M1919 860h.1M1817 981h.1M1814 986h.1M1769 878h.1M1835 997h.1M1762 971h.1M1955 842h.1M1802 996h.1M1750 853h.1M1798 981h.1M1852 983h.1M1909 976h.1M1806 984h.1M1889 876h.1M1741 954h.1M1784 937h.1M1765 948h.1M1818 989h.1M1928 929h.1M1872 996h.1M1753 936h.1M1877 955h.1M1852 977h.1M1867 981h.1M1880 919h.1M1812 991h.1M1864 956h.1M1846 984h.1M1869 989h.1M1872 955h.1M1741 884h.1M1858 979h.1M1850 978h.1M1878 995h.1M1851 988h.1M1837 990h.1M1941 930h.1M1847 996h.1M1751 919h.1M1777 925h.1M1764 975h.1M1871 991h.1M1975 988h.1M1841 992h.1M1774 986h.1M1799 975h.1M1821 994h.1M1878 960h.1M1819 993h.1M1926 905h.1M1798 968h.1M1789 975h.1M1949 909h.1M1799 960h.1M1927 921h.1M1804 988h.1M1919 912h.1M1778 901h.1M1781 936h.1M1791 994h.1M1900 986h.1M1875 954h.1M1766 989h.1M1756 839h.1M1884 993h.1M1772 970h.1M1759 821h.1M1813 981h.1M1778 908h.1M1805 992h.1M1894 951h.1M1893 955h.1M1788 956h.1M1859 980h.1M1878 931h.1M1893 862h.1M1807 979h.1M1886 994h.1M1920 993h.1M1851 990h.1M1775 976h.1M1858 982h.1M1775 910h.1M1762 859h.1M1780 964h.1M1870 996h.1M1829 998h.1M1869 965h.1M1776 985h.1M1868 964h.1M1798 976h.1M1752 856h.1M1884 965h.1M1780 952h.1M1796 997h.1M1844 982h.1M1897 874h.1M1902 920h.1M1729 955h.1M1824 993h.1M1864 970h.1M1803 978h.1M1798 957h.1M1915 992h.1M1806 987h.1M1864 949h.1M1752 915h.1M1838 993h.1M1873 975h.1M1879 922h.1M1876 924h.1M1794 997h.1M1885 920h.1M1862 955h.1M1768 944h.1M1857 992h.1M1803 993h.1M1832 995h.1M1934 895h.1M1908 832h.1M1883 971h.1M1864 981h.1M1861 959h.1M1862 995h.1M1897 982h.1M1773 906h.1M1780 954h.1M1869 938h.1M1793 956h.1M1855 977h.1M1880 946h.1M1800 986h.1M1860 997h.1M1869 995h.1M1776 973h.1M1812 980h.1M1771 945h.1M1865 972h.1M1836 992h.1M1811 983h.1M1780 986h.1M1883 969h.1M1760 970h.1M1798 978h.1M1841 990h.1M1818 991h.1M1756 962h.1M1795 967h.1M1756 976h.1M1882 994h.1M1881 992h.1M1878 951h.1M1767 905h.1M1839 994h.1M1744 955h.1M1765 982h.1M1881 974h.1M1875 982h.1M1878 942h.1M1858 996h.1M1928 995h.1M1794 955h.1M1865 964h.1M1826 993h.1M1957 959h.1M1805 964h.1M1868 980h.1M1785 936h.1M1876 933h.1M1877 974h.1M1900 878h.1M1801 986h.1M1889 881h.1M1769 907h.1M1787 971h.1M1820 988h.1M1889 995h.1M1867 991h.1M1838 989h.1M1823 997h.1M1795 970h.1M1867 986h.1M1774 916h.1M1884 962h.1M1775 885h.1M1909 865h.1M1823 991h.1M1977 979h.1M1935 912h.1M1903 965h.1M1877 965h.1M1815 983h.1M1799 978h.1M1865 982h.1M1827 994h.1M1882 916h.1M1888 932h.1M1841 995h.1M1740 980h.1M1911 984h.1M1868 983h.1M1791 948h.1M1875 981h.1M1882 956h.1M1895 942h.1M1855 993h.1M1750 803h.1M1816 990h.1M1782 982h.1M1894 916h.1M1770 897h.1M1813 976h.1M1896 903h.1M1785 947h.1M1899 997h.1M1719 970h.1M1800 978h.1M1895 995h.1M1790 969h.1M1845 978h.1M1975 984h.1M1749 922h.1M1881 961h.1M1759 945h.1M1780 985h.1M1941 968h.1M1900 902h.1M1868 970h.1M1847 995h.1M1848 993h.1M1865 961h.1M1879 960h.1M1847 995h.1M1809 994h.1M1799 962h.1M1788 991h.1M1839 985h.1M1870 986h.1M1890 923h.1M1892 954h.1M1894 952h.1M1780 988h.1M1856 980h.1M1803 976h.1M1800 975h.1M1867 986h.1M1845 996h.1M1937 829h.1M1889 871h.1M1791 960h.1M1777 986h.1M1750 974h.1M1869 969h.1M1783 990h.1M1809 975h.1M1793 966h.1M1840 986h.1M1745 968h.1M1871 935h.1M1966 890h.1M1894 897h.1M1776 894h.1M1891 950h.1M1880 946h.1M1887 938h.1M1783 972h.1M1896 905h.1M1899 994h.1M1815 978h.1M1873 995h.1M1820 989h.1M1833 995h.1M1894 852h.1M1863 973h.1M1849 979h.1M1797 985h.1M1892 890h.1M1890 971h.1M1869 948h.1M1882 967h.1M1796 962h.1M1858 975h.1M1807 986h.1M1819 990h.1M1855 974h.1M1766 912h.1M1860 986h.1M1859 966h.1M1899 892h.1M1762 912h.1M1890 868h.1M1785 977h.1M1777 959h.1M1850 980h.1M1839 991h.1M1918 991h.1M1766 978h.1M1868 948h.1M1798 976h.1M1779 960h.1M1884 952h.1M1841 984h.1M1888 939h.1M1803 959h.1M1868 958h.1M1870 978h.1M1838 991h.1M1802 976h.1M1794 960h.1M1918 936h.1M1808 983h.1M1866 975h.1M1847 989h.1M1927 958h.1M1849 996h.1M1791 954h.1M1851 988h.1M1790 982h.1M1851 984h.1M1815 978h.1M1864 990h.1M1967 961h.1M1810 985h.1M1845 994h.1M1870 938h.1M1868 956h.1M1865 993h.1M1812 994h.1M1804 962h.1M1781 976h.1M1902 903h.1M1846 982h.1M1937 972h.1M1796 967h.1M1894 872h.1M1868 987h.1M1879 993h.1M1908 947h.1M1902 980h.1M1865 959h.1M1816 979h.1M1905 846h.1M1829 994h.1M1800 959h.1M1821 988h.1M1887 993h.1M1787 973h.1M1876 974h.1M1810 989h.1M1893 990h.1M1896 934h.1M1798 959h.1M1819 987h.1M1904 965h.1M1898 984h.1M1776 889h.1M1772 990h.1M1893 880h.1M1886 889h.1M1852 968h.1M1914 996h.1M1774 941h.1M1862 967h.1M1882 922h.1M1822 992h.1M1866 970h.1M1838 995h.1M1759 974h.1M1859 983h.1M1847 979h.1M1864 993h.1M1937 991h.1M1920 946h.1M1871 973h.1M1819 985h.1M1809 990h.1M1864 990h.1M1878 928h.1M1872 944h.1M1876 925h.1M1908 900h.1M1908 886h.1M1804 964h.1M1826 993h.1M1789 928h.1M1805 983h.1M1814 997h.1M1895 945h.1M1796 951h.1M1856 992h.1M1872 959h.1M1905 982h.1M1914 981h.1M1852 995h.1M1824 991h.1M1810 985h.1M1774 980h.1M1891 959h.1M1786 939h.1M1854 969h.1M1864 960h.1M1901 988h.1M1853 989h.1M1839 992h.1M1865 951h.1M1865 954h.1M1782 978h.1M1823 988h.1M1885 996h.1M1919 920h.1M1819 984h.1M1792 976h.1M1906 800h.1M1758 928h.1M1824 988h.1M1794 941h.1M1765 862h.1M1884 983h.1M1887 925h.1M1924 900h.1M1867 946h.1M1770 915h.1M1912 906h.1M1896 904h.1M1862 957h.1M1909 964h.1M1866 944h.1M1884 977h.1M1785 968h.1M1769 986h.1M1778 950h.1M1847 976h.1M1890 892h.1M1887 974h.1M1787 973h.1M1897 996h.1M1809 969h.1M1784 942h.1M1867 945h.1M1746 981h.1M1896 869h.1M1887 946h.1M1797 983h.1M1891 978h.1M1708 953h.1M1918 986h.1M1858 985h.1M1765 927h.1M1746 938h.1M1874 956h.1M1858 962h.1M1792 964h.1M1875 967h.1M1802 986h.1M1813 974h.1M1850 995h.1M1845 980h.1M1844 990h.1M1804 962h.1M1769 935h.1M1791 940h.1M1866 959h.1M1770 988h.1M1811 981h.1M1851 984h.1M1800 961h.1M1887 943h.1M1800 956h.1M1890 994h.1M1814 977h.1M1859 970h.1M1877 953h.1M1864 974h.1M1841 989h.1M1981 992h.1M1855 981h.1M1772 953h.1M1893 915h.1M1855 964h.1M1851 970h.1M1818 989h.1M1905 886h.1M1885 956h.1M1788 990h.1M1887 950h.1M1860 960h.1M1866 996h.1M1853 983h.1M1875 956h.1M1801 960h.1M1785 993h.1M1901 992h.1M1874 943h.1M1875 954h.1M1827 996h.1M1821 994h.1M1781 947h.1M1809 967h.1M1779 955h.1M1768 995h.1M1876 965h.1M1883 960h.1M1816 991h.1M1869 970h.1M1953 964h.1M1884 919h.1M1891 936h.1M1803 969h.1M1861 961h.1M1873 961h.1M1861 967h.1M1802 971h.1M1751 954h.1M1782 941h.1M1878 981h.1M1981 961h.1M1889 988h.1M1785 934h.1M1808 988h.1M1777 993h.1M1932 860h.1M1879 910h.1M1866 967h.1M1764 917h.1M1793 942h.1M1754 954h.1M1887 953h.1M1856 995h.1M1983 922h.1M1889 914h.1M1892 939h.1M1802 991h.1M1917 888h.1M1902 982h.1M1893 957h.1M1869 946h.1M1803 990h.1M1751 910h.1M1876 978h.1M1887 912h.1M1873 950h.1M1851 994h.1M1751 837h.1M1873 943h.1M1749 842h.1M1880 943h.1M1885 981h.1M1750 982h.1M1873 957h.1M1846 993h.1M1730 979h.1M1841 994h.1M1884 926h.1M1894 881h.1M1864 996h.1M1785 976h.1M1808 969h.1M1890 971h.1M1811 978h.1M1827 995h.1M1876 978h.1M1801 968h.1M1896 964h.1M1880 990h.1M1802 965h.1M1751 975h.1M1761 927h.1M1881 931h.1M1787 992h.1M1785 981h.1M1863 954h.1M1797 977h.1M1808 988h.1M1829 997h.1M1795 949h.1M1897 886h.1M1772 913h.1M1867 942h.1M1899 970h.1M1840 990h.1M1896 868h.1M1874 963h.1M1850 972h.1M1754 806h.1M1936 983h.1M1890 927h.1M1814 982h.1M1745 958h.1M1790 932h.1M1776 890h.1M1858 975h.1M1783 928h.1M1890 922h.1M1809 979h.1M1869 980h.1M1810 979h.1M1879 935h.1M1818 997h.1M1851 995h.1M1766 913h.1M1797 960h.1M1899 987h.1M1827 993h.1M1886 929h.1M1862 987h.1M1749 967h.1M1895 932h.1M1768 929h.1M1814 982h.1M1906 910h.1M1871 982h.1M1878 950h.1M1857 977h.1M1884 973h.1M1853 972h.1M1910 921h.1M1841 995h.1M1836 997h.1M1817 989h.1M1876 993h.1M1856 981h.1M1799 956h.1M1784 973h.1M1881 996h.1M1794 988h.1M1781 909h.1M1797 972h.1M1913 964h.1M1877 961h.1M1681 975h.1M1797 979h.1M1929 962h.1M1864 984h.1M1858 994h.1M1753 915h.1M1868 943h.1M1919 906h.1M1861 965h.1M1791 940h.1M1891 980h.1M1799 969h.1M1836 992h.1M1870 940h.1M1816 989h.1M1812 989h.1M1869 957h.1M1888 909h.1M1805 983h.1M1909 990h.1M1821 993h.1M1768 926h.1M1822 989h.1M1791 952h.1M1880 911h.1M1778 921h.1M1886 886h.1M1803 958h.1M1795 945h.1M1791 946h.1M1892 922h.1M1855 977h.1M1772 942h.1M1819 997h.1M1800 955h.1M1906 993h.1M1753 832h.1M1873 991h.1M1800 973h.1M1765 994h.1M1810 988h.1M1744 890h.1M1850 980h.1M1878 978h.1M1721 953h.1M1862 962h.1M1900 948h.1M1761 966h.1M1773 938h.1M1841 990h.1M1923 900h.1M1865 981h.1M1765 877h.1M1795 980h.1M1896 975h.1M1844 997h.1M1770 987h.1M1756 883h.1M1915 969h.1M1938 943h.1M1843 983h.1M1803 976h.1M1787 938h.1M1852 989h.1M1787 978h.1M1887 943h.1M1888 977h.1M1890 923h.1M1797 954h.1M1812 975h.1M1814 979h.1M1896 869h.1M1857 978h.1M1868 940h.1M1906 995h.1M1812 972h.1M1860 960h.1M1809 990h.1M1803 963h.1M1851 995h.1M1779 901h.1M1890 968h.1M1807 979h.1M1817 980h.1M1861 971h.1M1984 965h.1M1946 939h.1M1905 982h.1M1757 912h.1M1893 964h.1M1845 986h.1M1896 921h.1M1853 973h.1M1856 963h.1M1737 956h.1M1770 961h.1M1777 941h.1M1792 943h.1M1888 895h.1M1933 898h.1M1812 990h.1M1819 990h.1M1937 810h.1M1854 976h.1M1800 995h.1M1859 964h.1M1779 908h.1M1877 985h.1M1843 984h.1M1786 962h.1M1857 986h.1M1796 949h.1M1734 893h.1M1763 980h.1M1818 983h.1M1753 920h.1M1901 951h.1M1877 978h.1M1758 895h.1M1910 921h.1M1869 961h.1M1790 968h.1M1775 926h.1M1790 986h.1M1904 866h.1M1909 903h.1M1856 995h.1M1901 908h.1M1885 964h.1M1921 980h.1M1767 894h.1M1942 958h.1M1873 982h.1M1780 934h.1M1758 810h.1M1890 987h.1M1899 957h.1M1789 961h.1M1771 923h.1M1819 995h.1M1814 981h.1M1843 982h.1M1869 961h.1M1791 969h.1M1855 971h.1M1901 902h.1M1924 931h.1M1771 869h.1M1862 990h.1M1873 968h.1M1861 978h.1M1810 975h.1M1835 995h.1M1889 993h.1M1906 933h.1M1844 996h.1M1894 941h.1M1868 952h.1M1924 900h.1M1917 989h.1M1854 986h.1M1888 894h.1M1772 938h.1M1872 946h.1M1874 957h.1M1852 970h.1M1785 949h.1M1878 990h.1M1794 980h.1M1864 987h.1M1772 983h.1M1892 940h.1M1803 957h.1M1904 918h.1M1885 917h.1M1913 863h.1M1882 974h.1M1787 925h.1M1739 942h.1M1842 987h.1M1858 967h.1M1805 965h.1M1763 886h.1M1861 963h.1M1806 996h.1M1871 994h.1M1900 975h.1M1817 980h.1M1941 937h.1M1848 974h.1M1847 989h.1M1782 950h.1M1814 986h.1M1844 991h.1M1779 925h.1M1865 955h.1M1899 946h.1M2024 967h.1M1769 985h.1M1798 987h.1M1795 986h.1M1575 983h.1M1815 997h.1M1893 894h.1M1774 925h.1M1884 907h.1M1854 995h.1M1751 869h.1M1813 978h.1M1874 941h.1M1736 996h.1M1793 963h.1M1885 914h.1M1869 969h.1M1871 937h.1M1863 950h.1M1900 950h.1M1807 988h.1M1805 962h.1M1795 967h.1M1898 834h.1M1898 911h.1M1790 957h.1M1876 977h.1M1876 965h.1M1882 924h.1M1868 961h.1M1856 962h.1M1785 983h.1M1905 874h.1M1742 957h.1M1803 982h.1M1859 993h.1M1870 939h.1M1760 926h.1M1813 974h.1M1871 954h.1M1834 994h.1M1852 986h.1M1821 987h.1M1794 952h.1M1786 990h.1M1879 962h.1M1794 945h.1M1856 977h.1M1794 949h.1M1769 941h.1M1782 949h.1M1904 904h.1M1801 971h.1M1807 988h.1M1786 934h.1M1765 904h.1M1811 979h.1M1816 980h.1M1861 953h.1M1952 961h.1M1799 996h.1M1813 982h.1M1911 943h.1M1909 959h.1M1764 870h.1M2000 903h.1M1762 942h.1M1771 917h.1M1882 910h.1M1899 928h.1M1949 976h.1M1786 978h.1M1803 996h.1M1775 986h.1M1816 987h.1M1832 996h.1M1788 944h.1M1797 949h.1M1781 957h.1M1875 925h.1M1846 997h.1M1856 969h.1M1784 952h.1M1847 991h.1M1881 966h.1M1880 953h.1M1863 996h.1M1903 920h.1M1885 892h.1M1788 993h.1M1913 953h.1M1895 924h.1M1907 924h.1M1795 961h.1M1908 947h.1M1822 996h.1M1872 941h.1M1722 961h.1M1810 982h.1M1820 992h.1M1900 892h.1M1814 984h.1M1874 971h.1M1876 920h.1M1897 890h.1M1904 933h.1M1916 962h.1M1879 915h.1M1858 990h.1M1869 943h.1M1881 920h.1M1799 960h.1M1792 973h.1M1752 799h.1M1636 893h.1M1790 975h.1M1807 989h.1M1749 901h.1M1849 996h.1M1750 983h.1M1890 919h.1M1875 972h.1M1821 993h.1M1884 958h.1M1818 996h.1M1844 988h.1M1764 941h.1M1847 984h.1M1790 942h.1M1860 963h.1M1779 995h.1M1781 934h.1M1873 961h.1M1770 983h.1M1766 901h.1M1861 973h.1M1806 990h.1M1816 993h.1M1861 957h.1M1896 946h.1M1796 980h.1M1803 980h.1M1784 957h.1M1849 985h.1M1764 952h.1M1869 991h.1M1870 979h.1M1885 960h.1M1818 982h.1M1780 924h.1M1893 940h.1M1877 993h.1M1845 987h.1M1947 927h.1M1744 808h.1M1753 950h.1M1878 978h.1M1851 994h.1M1819 988h.1M1853 974h.1M1791 956h.1M1868 976h.1M1827 995h.1M1857 994h.1M1774 981h.1M1856 966h.1M1797 947h.1M1865 980h.1M1758 850h.1M1854 982h.1M1795 943h.1M1905 960h.1M1922 965h.1M1787 990h.1M1899 979h.1M1864 989h.1M1761 933h.1M1766 953h.1M1766 920h.1M1901 878h.1M1881 946h.1M1905 911h.1M1810 975h.1M1790 970h.1M1773 972h.1M1866 956h.1M1870 961h.1M1903 921h.1M1774 970h.1M1940 944h.1M1808 976h.1M1789 928h.1M1888 878h.1M1873 935h.1M1843 990h.1M1769 903h.1M1891 886h.1M1796 979h.1M1870 942h.1M1798 981h.1M1917 895h.1M1812 983h.1M1865 995h.1M1762 880h.1M1769 908h.1M1892 881h.1M1889 949h.1M1807 988h.1M1809 991h.1M1793 939h.1M1861 966h.1M1938 993h.1M1934 894h.1M1847 992h.1M1797 977h.1M1899 975h.1M1864 965h.1M1848 978h.1M1810 982h.1M1855 967h.1M1877 933h.1M1777 946h.1M1891 914h.1M1764 830h.1M1776 911h.1M1896 928h.1M1906 942h.1M1859 967h.1M1875 928h.1M1851 977h.1M1841 992h.1M1913 937h.1M1862 966h.1M1785 958h.1M1765 942h.1M1767 980h.1M1895 917h.1M1759 963h.1M1900 952h.1M1777 927h.1M1898 958h.1M1880 909h.1M1874 969h.1M1982 987h.1M1780 929h.1M1801 987h.1M1796 954h.1M1892 864h.1M1867 957h.1M1755 919h.1M1849 991h.1M1895 885h.1M1845 985h.1M1790 990h.1M1886 994h.1M1811 988h.1M1904 975h.1M1785 962h.1M1825 997h.1M1846 986h.1M1884 971h.1M1872 955h.1M1931 969h.1M1850 976h.1M1794 939h.1M1873 973h.1M1804 980h.1M1862 972h.1M1786 940h.1M1690 982h.1M1876 992h.1M1849 973h.1M1815 979h.1M1816 983h.1M1888 992h.1M1858 974h.1M1895 964h.1M1799 951h.1M1852 989h.1M1849 983h.1M1836 995h.1M1873 986h.1M1852 991h.1M1889 914h.1M1859 978h.1M1843 983h.1M1822 989h.1M1791 963h.1M1777 926h.1M1891 963h.1M1884 938h.1M1925 963h.1M1822 987h.1M1782 997h.1M1874 980h.1M1790 952h.1M1869 961h.1M1915 902h.1M1882 951h.1M1793 949h.1M1763 968h.1M1895 989h.1M1825 996h.1M1903 916h.1M1854 967h.1M1846 977h.1M1828 997h.1M1819 983h.1M1787 930h.1M1901 845h.1M1869 938h.1M1896 889h.1M1806 991h.1M1767 936h.1M1772 875h.1M1850 974h.1M1813 993h.1M1798 959h.1M1862 990h.1M1841 991h.1M1791 941h.1M2002 948h.1M1868 984h.1M1848 993h.1M1903 844h.1M1822 997h.1M1870 963h.1M1755 803h.1M1768 972h.1M1777 941h.1M1791 945h.1M1781 939h.1M1802 959h.1M1904 810h.1M1804 961h.1M1798 951h.1M1758 855h.1M1800 960h.1M1809 984h.1M1933 983h.1M1783 930h.1M1932 986h.1M1942 987h.1M1863 957h.1M1807 972h.1M1836 994h.1M1826 995h.1M1825 997h.1M1789 928h.1M1778 908h.1M1851 974h.1M1860 957h.1M1819 989h.1M1820 985h.1M1907 826h.1M1861 967h.1M1815 985h.1M1821 994h.1M1879 964h.1M1789 938h.1M1903 919h.1M1864 952h.1M1903 966h.1M1922 817h.1M1732 943h.1M1852 990h.1M1876 954h.1M1863 979h.1M1822 990h.1M1801 965h.1M1816 988h.1M1822 989h.1M1795 948h.1M1848 990h.1M1842 991h.1M1794 967h.1M1851 997h.1M1797 953h.1M1857 973h.1M1820 993h.1M1809 981h.1M1815 977h.1M1837 990h.1M1784 924h.1M1772 948h.1M1892 965h.1M1792 946h.1M1806 978h.1M1873 958h.1M1770 881h.1M1866 964h.1M1799 952h.1M1749 911h.1M1813 984h.1M1869 961h.1M1857 976h.1M1838 988h.1M1860 963h.1M1795 969h.1M1907 989h.1M1883 937h.1M1816 994h.1M1738 851h.1M1810 970h.1M1742 931h.1M1870 982h.1M1899 923h.1M2089 981h.1M1787 962h.1M1785 932h.1M1901 952h.1M1881 985h.1M1837 993h.1M1850 990h.1M1897 972h.1M1935 963h.1M1840 989h.1M1760 974h.1M1803 992h.1M1877 938h.1M1914 986h.1M1803 992h.1M1900 988h.1M1749 843h.1M1812 978h.1M1890 925h.1M1898 888h.1M1875 937h.1M1857 993h.1M1884 952h.1M1787 973h.1M1895 867h.1M1807 995h.1M1880 943h.1M1764 994h.1M1949 972h.1M1741 986h.1M1803 970h.1M1910 979h.1M1880 926h.1M1780 944h.1M1744 983h.1M1812 977h.1M1789 932h.1M1933 939h.1M1788 977h.1M1848 979h.1M1775 884h.1M1747 893h.1M1793 942h.1M1791 989h.1M1862 959h.1M1791 947h.1M1808 997h.1M1877 935h.1M1856 979h.1M1771 945h.1M1800 978h.1M1881 944h.1M1766 918h.1M1849 993h.1M1810 993h.1M1795 949h.1M1753 889h.1M1781 959h.1M1858 989h.1M1787 991h.1M1888 908h.1M1912 816h.1M1862 964h.1M1783 912h.1M1802 997h.1M1902 953h.1M1744 879h.1M1843 987h.1M1876 978h.1M1801 993h.1M1771 964h.1M1910 814h.1M1723 951h.1M1786 933h.1M1843 989h.1M1760 996h.1M1876 949h.1M1864 953h.1M1759 897h.1M1925 985h.1M1863 985h.1M1872 932h.1M1792 948h.1M1765 890h.1M1902 830h.1M1874 938h.1M1933 903h.1M1817 993h.1M1838 990h.1M1894 891h.1M1877 981h.1M1874 961h.1M1723 953h.1M1862 961h.1M1896 856h.1M1779 917h.1M1864 985h.1M1777 954h.1M1820 984h.1M1798 970h.1M1780 984h.1M1885 979h.1M1857 979h.1M1889 983h.1M1756 935h.1M1940 923h.1M1881 963h.1M1902 990h.1M1880 949h.1M1898 872h.1M1814 983h.1M1820 988h.1M1863 996h.1M1795 986h.1M1803 964h.1M1956 925h.1M1856 967h.1M1788 997h.1M1900 900h.1M1917 936h.1M1822 993h.1M1877 921h.1M1792 981h.1M1774 942h.1M1792 976h.1M1793 990h.1M1806 990h.1M1923 890h.1M1907 960h.1M1847 988h.1M1769 871h.1M1757 926h.1M1895 916h.1M1819 992h.1M1775 934h.1M1814 984h.1M1783 996h.1M1827 994h.1M1883 978h.1M1889 984h.1M1811 995h.1M1785 935h.1M1797 973h.1M1797 980h.1M1828 995h.1M1893 944h.1M1874 957h.1M1891 946h.1M1786 977h.1M1764 955h.1M1810 973h.1M1882 947h.1M1783 917h.1M1866 966h.1M1847 986h.1M1887 895h.1M1808 980h.1M1847 979h.1M1814 974h.1M1841 996h.1M1855 964h.1M1911 813h.1M1782 954h.1M1757 874h.1M1896 989h.1M1785 955h.1M1854 995h.1M1793 978h.1M1889 877h.1M1925 986h.1M1817 985h.1M1898 857h.1M1843 985h.1M1862 986h.1M1756 996h.1M1852 972h.1M1799 951h.1M1876 963h.1M1777 981h.1M1883 931h.1M1797 957h.1M1868 951h.1M1781 916h.1M1882 951h.1M1771 990h.1M1862 992h.1M1799 959h.1M1842 985h.1M1884 958h.1M1795 982h.1M1744 955h.1M1865 982h.1M1901 968h.1M1810 975h.1M1876 926h.1M1821 988h.1M1795 963h.1M1878 952h.1M1912 906h.1M1742 962h.1M1890 947h.1M1864 949h.1M1805 994h.1M1788 939h.1M1821 985h.1M1763 951h.1M1803 970h.1M1843 996h.1M1743 979h.1M1794 989h.1M1732 944h.1M1791 937h.1M1809 975h.1M1748 972h.1M1816 985h.1M1859 991h.1M1909 880h.1M1868 944h.1M1826 996h.1M1848 992h.1M1745 956h.1M1816 982h.1M1867 942h.1M1872 939h.1M1869 977h.1M1784 959h.1M1863 961h.1M1807 972h.1M1789 952h.1M1858 986h.1M1909 816h.1M1876 964h.1M1940 971h.1M1896 933h.1M1914 977h.1M1836 991h.1M1885 904h.1M1843 990h.1M1777 985h.1M1763 996h.1M1781 952h.1M1825 994h.1M2024 971h.1M1793 974h.1M1861 997h.1M1715 906h.1M1857 996h.1M1801 962h.1M1800 962h.1M1751 862h.1M1867 950h.1M1810 973h.1M1777 914h.1M1804 974h.1M1837 990h.1M1904 880h.1M1846 996h.1M1776 912h.1M1807 998h.1M1864 968h.1M1797 966h.1M1809 995h.1M1771 884h.1M2045 996h.1M1803 964h.1M1779 977h.1M1859 963h.1M1785 969h.1M1770 934h.1M1816 980h.1M1891 919h.1M1777 945h.1M1799 978h.1M1851 990h.1M1799 997h.1M1790 964h.1M1763 869h.1M1887 911h.1M1890 982h.1M1896 984h.1M1817 989h.1M1889 952h.1M1910 903h.1M1916 962h.1M1801 969h.1M1851 987h.1M1813 988h.1M1853 990h.1M1812 973h.1M1820 996h.1M1899 942h.1M1798 987h.1M1803 983h.1M1813 983h.1M1853 984h.1M1844 982h.1M1921 974h.1M1877 924h.1M1800 965h.1M1878 982h.1M1766 960h.1M1767 956h.1M1845 985h.1M1844 981h.1M1944 895h.1M1811 983h.1M1783 984h.1M1895 842h.1M1777 957h.1M1806 974h.1M1875 953h.1M1860 986h.1M1754 928h.1M1867 979h.1M1760 875h.1M1805 964h.1M1782 927h.1M1889 974h.1M1863 988h.1M1806 980h.1M1851 990h.1M1867 957h.1M1808 995h.1M1781 972h.1M1876 997h.1M1792 939h.1M1913 898h.1M1869 947h.1M1810 971h.1M1863 984h.1M1916 972h.1M1752 900h.1M1881 921h.1M1684 991h.1M1760 995h.1M1821 992h.1M1763 933h.1M1922 945h.1M1778 938h.1M1890 969h.1M1868 997h.1M1811 986h.1M1764 869h.1M1823 988h.1M1844 979h.1M1877 954h.1M1900 851h.1M1813 974h.1M1785 934h.1M1775 952h.1M1889 947h.1M1897 914h.1M1809 980h.1M1914 996h.1M1816 980h.1M1800 978h.1M1801 956h.1M1891 927h.1M1859 978h.1M1885 900h.1M1866 965h.1M1959 851h.1M1775 936h.1M1819 991h.1M1910 871h.1M1767 926h.1M1858 989h.1M1879 949h.1M1787 991h.1M1861 988h.1M1872 976h.1M1794 942h.1M1857 974h.1M1823 990h.1M1798 978h.1M1853 979h.1M1868 942h.1M1842 986h.1M1860 972h.1M1878 996h.1M1851 995h.1M1895 899h.1M1763 930h.1M1935 972h.1M1818 995h.1M1781 916h.1M1870 959h.1M1990 985h.1M1806 971h.1M1852 971h.1M1774 943h.1M1821 993h.1M1894 873h.1M1916 915h.1M1756 981h.1M1910 990h.1M1900 949h.1M1801 995h.1M1806 993h.1M1867 985h.1M1857 972h.1M1752 996h.1M1756 839h.1M1865 976h.1M1914 961h.1M1766 948h.1M1868 964h.1M1794 947h.1M1774 954h.1M1756 900h.1M1794 976h.1M1903 917h.1M1803 989h.1M1847 980h.1M1764 972h.1M1918 978h.1M1843 986h.1M1739 884h.1M1793 948h.1M1844 981h.1M1973 951h.1M1874 978h.1M1760 850h.1M1877 976h.1M1805 992h.1M1787 950h.1M1909 855h.1M1864 996h.1M1818 992h.1M1748 887h.1M1877 953h.1M1879 941h.1M1679 986h.1M1881 966h.1M1844 993h.1M1850 983h.1M1762 889h.1M1757 978h.1M1872 943h.1M1900 980h.1M1857 981h.1M1849 996h.1M1830 997h.1M1845 990h.1M1909 978h.1M1855 971h.1M1894 983h.1M1891 927h.1M1781 944h.1M1923 906h.1M1757 918h.1M1891 879h.1M1916 993h.1M1915 984h.1M1848 974h.1M1778 985h.1M1795 944h.1M1804 983h.1M1715 958h.1M1793 996h.1M1791 939h.1M1883 950h.1M1777 978h.1M1814 988h.1M1773 907h.1M1866 973h.1M1957 963h.1M1893 955h.1M1850 990h.1M1786 980h.1M1859 987h.1M1885 991h.1M1786 992h.1M1757 922h.1M1802 986h.1M1897 965h.1M1867 966h.1M1778 913h.1M1801 963h.1M1804 958h.1M1815 997h.1M1874 971h.1M1851 984h.1M1878 965h.1M1849 980h.1M1897 968h.1M1873 946h.1M1790 938h.1M1834 996h.1M1913 884h.1M1889 880h.1M1878 958h.1M1800 969h.1M1821 993h.1M1798 953h.1M1883 897h.1M1855 990h.1M1778 910h.1M1904 978h.1M1866 975h.1M1793 983h.1M1909 865h.1M1913 935h.1M1783 991h.1M1763 955h.1M1891 927h.1M1864 951h.1M1778 907h.1M1789 971h.1M1814 987h.1M1906 931h.1M1888 879h.1M1848 993h.1M1867 984h.1M1939 972h.1M1868 955h.1M1921 947h.1M1795 976h.1M1858 991h.1M1786 989h.1M1860 974h.1M1761 975h.1M1908 822h.1M1849 980h.1M1794 942h.1M1845 983h.1M1814 993h.1M1874 961h.1M1880 991h.1M1876 949h.1M1734 904h.1M1813 993h.1M1843 985h.1M1811 972h.1M1812 976h.1M1916 954h.1M1803 972h.1M1785 938h.1M1812 986h.1M1868 942h.1M1800 990h.1M1747 865h.1M1816 984h.1M1786 991h.1M1866 968h.1M1935 981h.1M1864 961h.1M1926 968h.1M1785 974h.1M1787 942h.1M1841 991h.1M1923 979h.1M1875 991h.1M1867 981h.1M1756 817h.1M1877 981h.1M1760 847h.1M1816 992h.1M1779 941h.1M1844 983h.1M1800 966h.1M1771 901h.1M1745 854h.1M1815 995h.1M1750 874h.1M1921 903h.1M1843 988h.1M1859 959h.1M1902 888h.1M1805 982h.1M1800 985h.1M1882 903h.1M1916 807h.1M1897 861h.1M1910 936h.1M1779 899h.1M1807 990h.1M1942 948h.1M1840 994h.1M1864 982h.1M1773 980h.1M1854 996h.1M1865 956h.1M1877 950h.1M1813 974h.1M1766 950h.1M1800 978h.1M1869 975h.1M1892 908h.1M1779 972h.1M1879 952h.1M1931 858h.1M1866 950h.1M1850 987h.1M1921 977h.1M1884 981h.1M1889 890h.1M1883 927h.1M1917 815h.1M1807 991h.1M1896 895h.1M1875 960h.1M1790 965h.1M1873 978h.1M1866 991h.1M1776 907h.1M1895 945h.1M1854 984h.1M1883 913h.1M1870 975h.1M1768 898h.1M1858 985h.1M1867 956h.1M1753 955h.1M1782 936h.1M1887 925h.1M1881 960h.1M1879 988h.1M1879 968h.1M1885 984h.1M1775 965h.1M1890 943h.1M1877 958h.1M1819 993h.1M1859 992h.1M1763 974h.1M1825 993h.1M1858 988h.1M1781 952h.1M1812 979h.1M1879 912h.1M1820 984h.1M1844 995h.1M1867 998h.1M1881 950h.1M1778 928h.1M1859 986h.1M1857 962h.1M1899 892h.1M1803 983h.1M1851 977h.1M1797 985h.1M1809 982h.1M1779 963h.1M1902 997h.1M1795 971h.1M1849 972h.1M1772 979h.1M1905 914h.1M1848 985h.1M1932 978h.1M1794 953h.1M1772 875h.1M1902 872h.1M1884 997h.1M1763 983h.1M1797 961h.1M1760 953h.1M1891 923h.1M1955 952h.1M1879 960h.1M1863 973h.1M1774 933h.1M1801 994h.1M1869 940h.1M1756 800h.1M1849 990h.1M1843 990h.1M1879 959h.1M1771 905h.1M1895 926h.1M1821 987h.1M1890 971h.1M1873 927h.1M1958 961h.1M1883 963h.1M1756 867h.1M1913 813h.1M1898 928h.1M1897 926h.1M1797 989h.1M1801 997h.1M1901 995h.1M1885 974h.1M1860 961h.1M1800 992h.1M1866 948h.1M1817 979h.1M1778 954h.1M1772 939h.1M1812 976h.1M1868 993h.1M1891 891h.1M1875 927h.1M1778 952h.1M1856 976h.1M1811 989h.1M1905 986h.1M1896 920h.1M1870 959h.1M1882 994h.1M1886 997h.1M1862 953h.1M1767 960h.1M1791 965h.1M1894 856h.1M1811 993h.1M1912 932h.1M1969 885h.1M1761 996h.1M1898 930h.1M1794 956h.1M1895 903h.1M1812 975h.1M1814 994h.1M1887 981h.1M1862 961h.1M1846 980h.1M1845 989h.1M1901 896h.1M1881 920h.1M1848 989h.1M1798 954h.1M1801 975h.1M1879 988h.1M1899 919h.1M1813 985h.1M1883 985h.1M1771 911h.1M1889 981h.1M1792 980h.1M1797 976h.1M1876 961h.1M1843 991h.1M1904 813h.1M1870 954h.1M1753 943h.1M1818 982h.1M1753 894h.1M1800 973h.1M1875 932h.1M1903 892h.1M1768 921h.1M1849 987h.1M1842 986h.1M1916 922h.1M1872 952h.1M1885 967h.1M1772 873h.1M1896 940h.1M1918 826h.1M1855 980h.1M1869 966h.1M1872 966h.1M1856 967h.1M1786 945h.1M1781 915h.1M1800 974h.1M1890 899h.1M1820 985h.1M1793 983h.1M1748 952h.1M1758 940h.1M1747 950h.1M1804 978h.1M1788 984h.1M1888 979h.1M1773 974h.1M1785 918h.1M1863 981h.1M1858 984h.1M1856 964h.1M1889 941h.1M1853 988h.1M1934 943h.1M1917 971h.1M1917 893h.1M1788 944h.1M1872 958h.1M1918 993h.1M1794 946h.1M1771 961h.1M1799 956h.1M1766 887h.1M1860 984h.1M1913 926h.1M1849 981h.1M1863 993h.1M1755 990h.1M1713 868h.1M1891 929h.1M1877 960h.1M1868 977h.1M1764 915h.1M1798 968h.1M1796 949h.1M1738 989h.1M1852 986h.1M1864 960h.1M1846 993h.1M1892 991h.1M1856 967h.1M1911 936h.1M1855 974h.1M1816 988h.1M1859 956h.1M1837 996h.1M1768 976h.1M1779 979h.1M1897 927h.1M1878 925h.1M1882 988h.1M1926 939h.1M1793 958h.1M1827 995h.1M1772 934h.1M1851 974h.1M1806 976h.1M1846 978h.1M1861 971h.1M1897 975h.1M1849 976h.1M1927 950h.1M1805 969h.1M1854 976h.1M1784 974h.1M1810 968h.1M1905 848h.1M1799 975h.1M1886 940h.1M1770 899h.1M1820 991h.1M1865 989h.1M1886 982h.1M1922 979h.1M1883 940h.1M1856 974h.1M1786 940h.1M1854 992h.1M1789 973h.1M1879 957h.1M1794 980h.1M1791 944h.1M1844 988h.1M1873 942h.1M1793 987h.1M1795 991h.1M1856 995h.1M1769 872h.1M1758 892h.1M1886 994h.1M1824 994h.1M1794 974h.1M1777 964h.1M1840 993h.1M1920 871h.1M1753 848h.1M1771 897h.1M1835 993h.1M1862 975h.1M1784 978h.1M1794 964h.1M1875 934h.1M1923 971h.1M1921 946h.1M1861 967h.1M1889 904h.1M1788 949h.1M1797 948h.1M1797 955h.1M1956 949h.1M1818 995h.1M1759 819h.1M1892 903h.1M1821 994h.1M1894 878h.1M1906 961h.1M1779 949h.1M1786 957h.1M1762 961h.1M1874 970h.1M1933 912h.1M1767 969h.1M1899 967h.1M1800 953h.1M1800 961h.1M1917 856h.1M1940 967h.1M1819 993h.1M1786 927h.1M1903 882h.1M1852 993h.1M1795 944h.1M1896 974h.1M1867 950h.1M1870 947h.1M1794 978h.1M1861 963h.1M1794 985h.1M1903 976h.1M1786 979h.1M1784 914h.1M1802 979h.1M1766 933h.1M1913 970h.1M1854 974h.1M1774 987h.1M1884 930h.1M1780 935h.1M1897 878h.1M1789 988h.1M1848 995h.1M1804 961h.1M1900 877h.1M1809 995h.1M1871 977h.1M1789 965h.1M1765 845h.1M1762 902h.1M1811 988h.1M1870 995h.1M1761 900h.1M1839 991h.1M1854 966h.1M1863 962h.1M1887 927h.1M1788 934h.1M1782 916h.1M1845 989h.1M1884 963h.1M1866 963h.1M1751 873h.1M1860 961h.1M1845 986h.1M1875 926h.1M1880 963h.1M1751 898h.1M1849 974h.1M1896 993h.1M1877 921h.1M1903 867h.1M1842 987h.1M1785 973h.1M1895 991h.1M1888 919h.1M1888 947h.1M1861 987h.1M1797 981h.1M1884 996h.1M1805 967h.1M1879 938h.1M1790 997h.1M1876 949h.1M1733 941h.1M1932 966h.1M1948 880h.1M1724 942h.1M1799 964h.1M1874 931h.1M1777 967h.1M1802 978h.1M1774 906h.1M1788 927h.1M1792 963h.1M1749 940h.1M1862 990h.1M1799 968h.1M1758 930h.1M1835 995h.1M1815 982h.1M1865 946h.1M1773 947h.1M1815 990h.1M1803 977h.1M1784 963h.1M1846 982h.1M1857 975h.1M1883 913h.1M1883 934h.1M1769 888h.1M1867 949h.1M1755 929h.1M1853 995h.1M1753 930h.1M1717 929h.1M1749 992h.1M1917 993h.1M1904 991h.1M1878 973h.1M1808 987h.1M1939 951h.1M1880 952h.1M1803 973h.1M1776 973h.1M1786 996h.1M1804 968h.1M1748 833h.1M1916 969h.1M1803 984h.1M1861 957h.1M1835 993h.1M1914 986h.1M1749 981h.1M1849 996h.1M1812 992h.1M1889 978h.1M1952 945h.1M1858 986h.1M1875 994h.1M1790 976h.1M1777 908h.1M1881 963h.1M1874 983h.1M1897 991h.1M1962 958h.1M1842 994h.1M1888 962h.1M1815 979h.1M1895 905h.1M1777 941h.1M1858 963h.1M1761 978h.1M1919 914h.1M1875 966h.1M1803 987h.1M1755 993h.1M1815 987h.1M1719 951h.1M1796 951h.1M1992 965h.1M1901 832h.1M1792 976h.1M1817 985h.1M1804 961h.1M1879 946h.1M1787 939h.1M1769 966h.1M1891 982h.1M1876 938h.1M1861 974h.1M1880 979h.1M1868 989h.1M1841 990h.1M2013 978h.1M1788 971h.1M1790 936h.1M1806 986h.1M1806 980h.1M1900 940h.1M1859 988h.1M1876 987h.1M1808 995h.1M1755 947h.1M1885 982h.1M1765 893h.1M1904 827h.1M1898 866h.1M1851 986h.1M1955 953h.1M1911 850h.1M1866 961h.1M1784 952h.1M1854 972h.1M1880 926h.1M1801 979h.1M1815 996h.1M1719 981h.1M1809 994h.1M1771 902h.1M1856 993h.1M1899 964h.1M1915 962h.1M1864 957h.1M1912 918h.1M1909 916h.1M1759 974h.1M1927 988h.1M1920 984h.1M1795 986h.1M1805 971h.1M1882 936h.1M1873 974h.1M1844 995h.1M1910 944h.1M1835 995h.1M1890 943h.1M1891 887h.1M1915 925h.1M1793 956h.1M1875 941h.1M1781 974h.1M1803 995h.1M1793 943h.1M1871 968h.1M1945 913h.1M1785 963h.1M1865 995h.1M1766 895h.1M1774 937h.1M1908 896h.1M1882 918h.1M1757 955h.1M1886 941h.1M1777 910h.1M1947 987h.1M1802 971h.1M1943 900h.1M1789 938h.1M1793 951h.1M1766 969h.1M1786 969h.1M1870 973h.1M1793 938h.1M1779 922h.1M1859 963h.1M1914 891h.1M1794 972h.1M1882 929h.1M1797 964h.1M1821 987h.1M1900 882h.1M1868 990h.1M1848 994h.1M1799 950h.1M1869 961h.1M1791 959h.1M1806 973h.1M1852 968h.1M1756 925h.1M1777 953h.1M1854 966h.1M1880 983h.1M1844 996h.1M1901 942h.1M1904 978h.1M1849 975h.1M1880 911h.1M1889 891h.1M1727 945h.1M1810 977h.1M1821 990h.1M1789 971h.1M1820 997h.1M1915 868h.1M1905 918h.1M1808 965h.1M1909 952h.1M1769 860h.1M1806 981h.1M1889 926h.1M1870 994h.1M1889 921h.1M1764 869h.1M1918 922h.1M1810 981h.1M1888 991h.1M1792 945h.1M1802 962h.1M1873 979h.1M1774 967h.1M1802 981h.1M1808 995h.1M1791 952h.1M1898 956h.1M1814 980h.1M1785 920h.1M1859 990h.1M1874 994h.1M1941 958h.1M1844 981h.1M1865 981h.1M1781 989h.1M1854 974h.1M1868 988h.1M1907 853h.1M1756 948h.1M1859 971h.1M1847 980h.1M1997 975h.1M1895 888h.1M1861 974h.1M1825 992h.1M1777 895h.1M1881 906h.1M1882 991h.1M1849 995h.1M1844 997h.1M1799 974h.1M1789 994h.1M1758 943h.1M1791 979h.1M1896 964h.1M1791 949h.1M1864 952h.1M1897 901h.1M1796 964h.1M1773 952h.1M1846 982h.1M1872 980h.1M1801 961h.1M1862 958h.1M1892 953h.1M1872 942h.1M1850 992h.1M1871 995h.1M1885 980h.1M1807 979h.1M1800 954h.1M1881 917h.1M1871 972h.1M1784 990h.1M1956 862h.1M1851 983h.1M1865 949h.1M1774 925h.1M1887 959h.1M1782 994h.1M1860 963h.1M1872 958h.1M1854 995h.1M1899 918h.1M1880 915h.1M1790 949h.1M1762 918h.1M1764 977h.1M1900 838h.1M1875 928h.1M1875 924h.1M1904 988h.1M1884 912h.1M1699 970h.1M1749 887h.1M1783 983h.1M1886 961h.1M1740 944h.1M1896 839h.1M1910 886h.1M1852 988h.1M1896 913h.1M1863 994h.1M1866 946h.1M1792 972h.1M1869 961h.1M1883 996h.1M1820 991h.1M1805 984h.1M1805 983h.1M1885 929h.1M1773 902h.1M1836 997h.1M1928 902h.1M1856 980h.1M1722 960h.1M1932 960h.1M1800 992h.1M1812 974h.1M1782 971h.1M1808 988h.1M1886 942h.1M1773 893h.1M1868 971h.1M1793 949h.1M1780 904h.1M1942 964h.1M1804 986h.1M1792 944h.1M1841 987h.1M1767 858h.1M1851 988h.1M1795 965h.1M1839 987h.1M1940 973h.1M1794 953h.1M1856 966h.1M1861 972h.1M1841 989h.1M2028 986h.1M1808 986h.1M1754 961h.1M1803 982h.1M1846 994h.1M1784 926h.1M1785 930h.1M1922 987h.1M1670 959h.1M1788 992h.1M1826 993h.1M1891 962h.1M1856 996h.1M1897 941h.1M1775 886h.1M1885 906h.1M1893 963h.1M1764 954h.1M1818 998h.1M1924 881h.1M1904 970h.1M1777 931h.1M1785 952h.1M1765 908h.1M1847 982h.1M1881 964h.1M1779 962h.1M1937 888h.1M1914 921h.1M1756 962h.1M1943 964h.1M1832 996h.1M1903 811h.1M1809 995h.1M1896 958h.1M1881 990h.1M1883 996h.1M1762 989h.1M1890 905h.1M1802 974h.1M1906 901h.1M1875 991h.1M1797 964h.1M1747 927h.1M1800 988h.1M1913 903h.1M1863 960h.1M1781 940h.1M1845 988h.1M1863 951h.1M1798 979h.1M1803 994h.1M1801 969h.1M1903 994h.1M1878 962h.1M1856 979h.1M1734 925h.1M1803 982h.1M1863 972h.1M1835 993h.1M1804 995h.1M1863 960h.1M1891 883h.1M1891 974h.1M1868 958h.1M1864 955h.1M1880 990h.1M1877 996h.1M1819 982h.1M1794 942h.1M1746 854h.1M1796 958h.1M1815 988h.1M1904 893h.1M1773 876h.1M1901 922h.1M1770 908h.1M1752 919h.1M1857 987h.1M1899 817h.1M1853 973h.1M1784 952h.1M1892 864h.1M1778 973h.1M1773 963h.1M1909 967h.1M1798 971h.1M1904 944h.1M1771 870h.1M1866 961h.1M1900 944h.1M1841 995h.1M1828 995h.1M1777 922h.1M1905 938h.1M1875 922h.1M1911 974h.1M1896 901h.1M1902 908h.1M1892 953h.1M1814 997h.1M1862 952h.1M1891 947h.1M1921 849h.1M1915 938h.1M1844 985h.1M1799 960h.1M1861 983h.1M1895 861h.1M1760 951h.1M1779 990h.1M1862 985h.1M1918 842h.1M1883 931h.1M1817 988h.1M1772 956h.1M1903 965h.1M1885 916h.1M1805 971h.1M1819 986h.1M1933 990h.1M1768 919h.1M1755 921h.1M1803 980h.1M1907 932h.1M1790 950h.1M1819 984h.1M1782 969h.1M1762 882h.1M1910 924h.1M1761 875h.1M1878 993h.1M1803 962h.1M1786 988h.1M1818 994h.1M1904 936h.1M1849 997h.1M1871 986h.1M1959 904h.1M1786 973h.1M1782 993h.1M1789 946h.1M1818 989h.1M1892 907h.1M1747 973h.1M1944 882h.1M1787 956h.1M1718 865h.1M1877 976h.1M1842 983h.1M1742 806h.1M1797 963h.1M1858 991h.1M1781 939h.1M1850 981h.1M1812 990h.1M1923 972h.1M1865 959h.1M1732 966h.1M1826 996h.1M1892 977h.1M1799 964h.1M1796 967h.1M1785 939h.1M1863 964h.1M1773 894h.1M1841 988h.1M1859 967h.1M1865 989h.1M1873 933h.1M1858 977h.1M1883 943h.1M1870 970h.1M1867 950h.1M1888 994h.1M1898 936h.1M1841 994h.1M1905 971h.1M1864 986h.1M1953 976h.1M1779 982h.1M1924 983h.1M1785 935h.1M1952 991h.1M1890 947h.1M1839 988h.1M1887 936h.1M1885 984h.1M1825 992h.1M1855 968h.1M1728 887h.1M1809 984h.1M1770 898h.1M1873 932h.1M1873 974h.1M1803 985h.1M1899 935h.1M1840 991h.1M1876 979h.1M1841 985h.1M1795 957h.1M1785 952h.1M1895 916h.1M1895 940h.1M1872 973h.1M1806 981h.1M1921 926h.1M1855 985h.1M1893 961h.1M1850 989h.1M1884 941h.1M1872 976h.1M1875 951h.1M1849 978h.1M1883 913h.1M1783 929h.1M1879 989h.1M1774 970h.1M1868 951h.1M1886 984h.1M1889 897h.1M1809 994h.1M1869 960h.1M1889 926h.1M1900 991h.1M1821 989h.1M1914 918h.1M1900 985h.1M1780 950h.1M1793 941h.1M1786 936h.1M1820 995h.1M1775 956h.1M1818 989h.1M1791 983h.1M1897 880h.1M1902 956h.1M1796 968h.1M1825 997h.1M1859 975h.1M1864 961h.1M1809 989h.1M1843 993h.1M1881 948h.1M1789 950h.1M1884 921h.1M1896 908h.1M1764 981h.1M1773 960h.1M1853 995h.1M1845 978h.1M1823 992h.1M1817 990h.1M1801 982h.1M1963 992h.1M1884 952h.1M1869 942h.1M1778 896h.1M1760 968h.1M1870 984h.1M1906 912h.1M1941 926h.1M1792 972h.1M1894 922h.1M1964 978h.1M1807 988h.1M1802 962h.1M1749 946h.1M1850 992h.1M1901 984h.1M1816 980h.1M1850 985h.1M1801 998h.1M1770 994h.1M1897 894h.1M1926 961h.1M1848 996h.1M1871 996h.1M1839 986h.1M1900 860h.1M1884 917h.1M1782 918h.1M1853 969h.1M1872 951h.1M1760 972h.1M1880 990h.1M1791 937h.1M1906 969h.1M1906 955h.1M1817 982h.1M1781 914h.1M1877 978h.1M1969 997h.1M1884 996h.1M1873 981h.1M1899 932h.1M1896 858h.1M1812 987h.1M1775 930h.1M1843 985h.1M1796 949h.1M1786 941h.1M1841 994h.1M1788 933h.1M1875 927h.1M1887 971h.1M1869 973h.1M1883 989h.1M1760 820h.1M1862 971h.1M1872 984h.1M1804 971h.1M1878 985h.1M1916 959h.1M1764 839h.1M1868 989h.1M1841 997h.1M1869 969h.1M1793 996h.1M1780 963h.1M1847 974h.1M1868 970h.1M1853 988h.1M1812 980h.1M1801 956h.1M1880 954h.1M1861 993h.1M1862 957h.1M1891 997h.1M1902 920h.1M1888 985h.1M1879 988h.1M1813 974h.1M1856 970h.1M1845 983h.1M1793 964h.1M1768 864h.1M1755 946h.1M1941 966h.1M1806 970h.1M1878 977h.1M1829 995h.1M1810 986h.1M1903 922h.1M1804 990h.1M1877 980h.1M1949 975h.1M1791 988h.1M1805 974h.1M1686 981h.1M1907 979h.1M1809 971h.1M1737 904h.1M1890 957h.1M1843 992h.1M1826 993h.1M1809 979h.1M1806 995h.1M1799 981h.1M1726 957h.1M1910 988h.1M1783 965h.1M1858 981h.1M1798 947h.1M1873 938h.1M1817 995h.1M1845 983h.1M1850 995h.1M1783 932h.1M1870 936h.1M1770 991h.1M1807 972h.1M1771 954h.1M1744 825h.1M1932 898h.1M1812 989h.1M1719 963h.1M1906 960h.1M1791 983h.1M1890 883h.1M1853 975h.1M1867 948h.1M1847 976h.1M1876 942h.1M1868 975h.1M1864 963h.1M1869 973h.1M1800 980h.1M1887 894h.1M1873 989h.1M1868 983h.1M1876 977h.1M1794 977h.1M1815 985h.1M1811 969h.1M1808 971h.1M1937 852h.1M1807 995h.1M1786 968h.1M1794 956h.1M1786 931h.1M1758 835h.1M1790 984h.1M1806 974h.1M1793 993h.1M1884 972h.1M1809 994h.1M1801 995h.1M1818 982h.1M1847 993h.1M1905 956h.1M1819 983h.1M1775 882h.1M1883 960h.1M1943 914h.1M1845 997h.1M1801 983h.1M1918 985h.1M1822 992h.1M1860 976h.1M1898 863h.1M1903 879h.1M1861 971h.1M1899 985h.1M1836 992h.1M1937 928h.1M1790 963h.1M1875 992h.1M1795 953h.1M1881 966h.1M1902 818h.1M1782 925h.1M1762 850h.1M1786 994h.1M1804 983h.1M1876 996h.1M1809 990h.1M1852 992h.1M1845 990h.1M1789 989h.1M1962 908h.1M1901 877h.1M1797 957h.1M1766 965h.1M1890 945h.1M1903 964h.1M1786 994h.1M1755 997h.1M1916 954h.1M1861 988h.1M1856 966h.1M1890 910h.1M1852 992h.1M1918 913h.1M1875 971h.1M1816 990h.1M1785 956h.1M1870 969h.1M1914 944h.1M1863 963h.1M1851 980h.1M1776 891h.1M1853 967h.1M1903 965h.1M1777 895h.1M1839 987h.1M1902 933h.1M1848 988h.1M1902 847h.1M1882 963h.1M1765 886h.1M1794 946h.1M1793 977h.1M1808 966h.1M1852 972h.1M1805 975h.1M1941 910h.1M1782 927h.1M1890 968h.1M1837 997h.1M1759 989h.1M1896 952h.1M1913 976h.1M1931 944h.1M1884 936h.1M1881 945h.1M1797 972h.1M1756 902h.1M1779 934h.1M1888 995h.1M1919 962h.1M1779 933h.1M1819 994h.1M1722 989h.1M1916 849h.1M1822 996h.1M1932 956h.1M1794 981h.1M1759 917h.1M1736 957h.1M1895 942h.1M1913 953h.1M1864 992h.1M1847 977h.1M1812 980h.1M1868 969h.1M1902 954h.1M1852 972h.1M1871 974h.1M1812 995h.1M1870 981h.1M1789 934h.1M1817 984h.1M1802 965h.1M1963 951h.1M1848 997h.1M1816 979h.1M1876 951h.1M1889 873h.1M1696 954h.1M1803 976h.1M1858 982h.1M1766 881h.1M1774 880h.1M1728 920h.1M1896 953h.1M1837 996h.1M1861 974h.1M1802 961h.1M1905 800h.1M1794 952h.1M1809 986h.1M1866 994h.1M1842 989h.1M1888 888h.1M1865 983h.1M1854 980h.1M2021 992h.1M1803 965h.1M1857 998h.1M1878 958h.1M1757 976h.1M1853 972h.1M1893 872h.1M1813 990h.1M1756 824h.1M1851 981h.1M1931 946h.1M1854 975h.1M1801 974h.1M1883 911h.1M1892 859h.1M1878 995h.1M1932 873h.1M1715 971h.1M1900 900h.1M1828 994h.1M1905 812h.1M1891 871h.1M1917 880h.1M1761 903h.1M1760 821h.1M1845 985h.1M1808 975h.1M1790 970h.1M1786 924h.1M1885 903h.1M1741 967h.1M1755 952h.1M1812 975h.1M1766 907h.1M1845 996h.1M1891 942h.1M1773 988h.1M1883 978h.1M1807 982h.1M1867 945h.1M1762 965h.1M1765 922h.1M1837 994h.1M1868 973h.1M1793 975h.1M1878 969h.1M1899 937h.1M1852 990h.1M1852 973h.1M1851 989h.1M1853 993h.1M1876 951h.1M1907 983h.1M1808 966h.1M1775 937h.1M1923 870h.1M1903 894h.1M1790 960h.1M1771 951h.1M1875 995h.1M1818 986h.1M1788 993h.1M1916 981h.1M1790 945h.1M1864 978h.1M1768 923h.1M1807 992h.1M1886 985h.1M1768 877h.1M1863 988h.1M1894 859h.1M1786 961h.1M1888 904h.1M1777 924h.1M1871 967h.1M1846 994h.1M1797 974h.1M1770 888h.1M1911 836h.1M1800 979h.1M1770 895h.1M1900 906h.1M1931 907h.1M1884 932h.1M1814 990h.1M1880 925h.1M1769 937h.1M1891 863h.1M1889 879h.1M1889 982h.1M1763 957h.1M1905 844h.1M1792 981h.1M1773 960h.1M1861 978h.1M1773 926h.1M1862 972h.1M1870 954h.1M1889 945h.1M1815 977h.1M1845 988h.1M1780 937h.1M1838 994h.1M1857 975h.1M1863 977h.1M1799 962h.1M1823 992h.1M1820 988h.1M1911 865h.1M1785 919h.1M1793 938h.1M1772 981h.1M1737 988h.1M1803 962h.1M1878 991h.1M1922 933h.1M1912 952h.1M1804 984h.1M1909 989h.1M1848 989h.1M1770 936h.1M1876 995h.1M1804 975h.1M1850 988h.1M1868 972h.1M1863 963h.1M1869 966h.1M1893 981h.1M1781 931h.1M1857 960h.1M1807 988h.1M1874 951h.1M1769 977h.1M1867 984h.1M1739 990h.1M1841 991h.1M1847 974h.1M1901 955h.1M1895 921h.1M1873 996h.1M1787 925h.1M1860 959h.1M1882 946h.1M1923 958h.1M1783 967h.1M1905 988h.1M1800 956h.1M1764 948h.1M1902 808h.1M1878 968h.1M1804 972h.1M1850 996h.1M1835 995h.1M1801 956h.1M1854 996h.1M1695 982h.1M1953 929h.1M1740 982h.1M1925 912h.1M1898 920h.1M1906 975h.1M1863 958h.1M1846 992h.1M1870 948h.1M1802 978h.1M1889 950h.1M1859 957h.1M1808 992h.1M1840 991h.1M1888 971h.1M1761 823h.1M1802 995h.1M1810 992h.1M1868 952h.1M1794 996h.1M1790 965h.1M1758 894h.1M1913 862h.1M1778 918h.1M1766 995h.1M1764 929h.1M1881 935h.1M1872 984h.1M1864 987h.1M1756 950h.1M1777 939h.1M1791 941h.1M1885 902h.1M1803 977h.1M1961 886h.1M1872 939h.1M1761 882h.1M1763 993h.1M1928 866h.1M1888 947h.1M1813 977h.1M1805 966h.1M1808 979h.1M1789 996h.1M1819 992h.1M1818 996h.1M1840 986h.1M1704 914h.1M1888 992h.1M1753 980h.1M1875 968h.1M1865 994h.1M1865 958h.1M1892 994h.1M1969 944h.1M1865 962h.1M1731 968h.1M1788 951h.1M1796 993h.1M1878 917h.1M1904 863h.1M1857 989h.1M1953 896h.1M1771 924h.1M1725 984h.1M1812 995h.1M1769 986h.1M1841 994h.1M1782 961h.1M1820 996h.1M1904 971h.1M1870 951h.1M1824 994h.1M1787 988h.1M1784 959h.1M1778 896h.1M1803 984h.1M1868 977h.1M1955 968h.1M1840 987h.1M1791 936h.1M1858 959h.1M1763 920h.1M1788 933h.1M1825 996h.1M1840 989h.1M1770 944h.1M1762 930h.1M1869 943h.1M1923 863h.1M1798 961h.1M1884 959h.1M1857 974h.1M1839 995h.1M1762 963h.1M1839 991h.1M1816 988h.1M1885 928h.1M1900 824h.1M1853 983h.1M1807 976h.1M1804 982h.1M1858 971h.1M1855 993h.1M1857 969h.1M1849 981h.1M1798 984h.1M1822 988h.1M1851 981h.1M1840 990h.1M1847 980h.1M1795 969h.1M1888 970h.1M1875 929h.1M1848 976h.1M1828 994h.1M1854 984h.1M1886 972h.1M1921 922h.1M1801 954h.1M1876 922h.1M1945 976h.1M1770 933h.1M1893 990h.1M1890 955h.1M1801 965h.1M1779 913h.1M1816 980h.1M1809 969h.1M1856 976h.1M1920 978h.1M1819 988h.1M1797 978h.1M1873 928h.1M1826 993h.1M1906 917h.1M1904 920h.1M1845 979h.1M1897 977h.1M1920 906h.1M1900 921h.1M1930 926h.1M1821 997h.1M1838 991h.1M1937 902h.1M1851 995h.1M1815 992h.1M1848 990h.1M1889 989h.1M1790 983h.1M1786 936h.1M1788 961h.1M1868 963h.1M1886 891h.1M1877 980h.1M1869 943h.1M1901 990h.1M1771 953h.1M1798 975h.1M1873 995h.1M1888 964h.1M1766 901h.1M1809 980h.1M1807 989h.1M1787 976h.1M1705 926h.1M1745 857h.1M1884 903h.1M1775 895h.1M1755 823h.1M1864 990h.1M1811 977h.1M1863 966h.1M1783 980h.1M1848 982h.1M1833 996h.1M1868 972h.1M1774 903h.1M1869 991h.1M1791 945h.1M1902 810h.1M1805 972h.1M1799 960h.1M1888 890h.1M1793 942h.1M1925 881h.1M1810 978h.1M1864 966h.1M1895 942h.1M1807 994h.1M1849 978h.1M1775 922h.1M1789 929h.1M1892 872h.1M1793 940h.1M1859 989h.1M1895 906h.1M1891 938h.1M1817 991h.1M1848 974h.1M1810 970h.1M1895 945h.1M1908 963h.1M1864 981h.1M1742 942h.1M1881 940h.1M1861 959h.1M1862 981h.1M1908 964h.1M1792 952h.1M1904 981h.1M1738 953h.1M1790 997h.1M1855 984h.1M1718 968h.1M1893 958h.1M1814 996h.1M1809 990h.1M1849 995h.1M1813 977h.1M1893 931h.1M1913 966h.1M1792 972h.1M1818 989h.1M1859 967h.1M1923 802h.1M1777 934h.1M1861 966h.1M1870 964h.1M1796 962h.1M1871 970h.1M1861 960h.1M1752 971h.1M1891 952h.1M1870 989h.1M1872 991h.1M1772 896h.1M1790 932h.1M1845 986h.1M1853 979h.1M1812 982h.1M1797 988h.1M1964 915h.1M1843 984h.1M1902 951h.1M1886 968h.1M1782 996h.1M1864 956h.1M1877 984h.1M1794 993h.1M1891 901h.1M1865 996h.1M1886 890h.1M1882 948h.1M1915 950h.1M1902 980h.1M1877 936h.1M1935 961h.1M1888 956h.1M1716 931h.1M1927 962h.1M1813 996h.1M1907 940h.1M1872 953h.1M1845 993h.1M1829 995h.1M1879 984h.1M1769 909h.1M1913 965h.1M1777 939h.1M1872 952h.1M1869 943h.1M1765 859h.1M1871 976h.1M1856 968h.1M1846 991h.1M1823 987h.1M1810 980h.1M1883 984h.1M1876 946h.1M1728 935h.1M1790 936h.1M1898 886h.1M1809 969h.1M1798 966h.1M1869 950h.1M1894 989h.1M1873 951h.1M1880 945h.1M1801 965h.1M1854 984h.1M1825 990h.1M1846 991h.1M1852 995h.1M1884 934h.1M1866 959h.1M1821 992h.1M1763 926h.1M1795 958h.1M1909 990h.1M1814 994h.1M1858 975h.1M1819 986h.1M1885 991h.1M1877 966h.1M1797 946h.1M1820 995h.1M1876 981h.1M1883 959h.1M1782 990h.1M1857 986h.1M1884 980h.1M1841 988h.1M1880 909h.1M1904 903h.1M1758 924h.1M1874 996h.1M1893 872h.1M1805 964h.1M1895 991h.1M1903 983h.1M1769 943h.1M1784 957h.1M1776 937h.1M1919 994h.1M1878 994h.1M1783 978h.1M1890 990h.1M1795 954h.1M1871 937h.1M1859 965h.1M1872 965h.1M1805 978h.1M1839 988h.1M1865 952h.1M1894 925h.1M1852 968h.1M1884 905h.1M1804 964h.1M1771 934h.1M1894 962h.1M1854 972h.1M1880 986h.1M1811 987h.1M1803 963h.1M1803 980h.1M1877 939h.1M1777 957h.1M1779 897h.1M1847 979h.1M1902 992h.1M1776 923h.1M1814 992h.1M1885 935h.1M1783 923h.1M1865 973h.1M1921 989h.1M1795 950h.1M1883 933h.1M1908 927h.1M1904 943h.1M1882 942h.1M1781 918h.1M1768 923h.1M1859 965h.1M1867 964h.1M1881 988h.1M1868 949h.1M1883 960h.1M1906 972h.1M1820 989h.1M1854 986h.1M1863 969h.1M1955 896h.1M1816 990h.1M1803 971h.1M1837 995h.1M1871 956h.1M1805 973h.1M1805 990h.1M1802 992h.1M1860 995h.1M1885 973h.1M1898 881h.1M1746 901h.1M1811 970h.1M1856 963h.1M1858 964h.1M1858 990h.1M1864 967h.1M1894 880h.1M1849 987h.1M1809 994h.1M1864 952h.1M1805 986h.1M1770 938h.1M1808 970h.1M1922 922h.1M1782 940h.1M1824 990h.1M1786 984h.1M1844 994h.1M1901 823h.1M1822 992h.1M1872 933h.1M2003 903h.1M1900 879h.1M1817 993h.1M1816 994h.1M1797 985h.1M1777 920h.1M1923 967h.1M1818 982h.1M1811 980h.1M1765 907h.1M1790 966h.1M1896 974h.1" stroke="#808080" stroke-width="3.4" stroke-linecap="round" fill="none" opacity="0.42"/>
<path d="M1702.8 997.0L1705.4 996.6L1707.9 996.2L1710.5 995.8L1713.0 995.4L1715.6 995.0L1718.2 994.6L1720.7 994.3L1723.3 993.9L1725.8 993.5L1728.4 993.2L1731.0 992.9L1733.5 992.5L1736.1 992.2L1738.6 991.9L1741.2 991.6L1743.8 991.2L1746.3 990.9L1748.9 990.7L1751.4 990.4L1754.0 990.1L1756.6 989.8L1759.1 989.5L1761.7 989.3L1764.2 989.0L1766.8 988.8L1769.4 988.6L1771.9 988.3L1774.5 988.1L1777.0 987.9L1779.6 987.7L1782.2 987.5L1784.7 987.3L1787.3 987.1L1789.8 987.0L1792.4 986.8L1795.0 986.7L1797.5 986.5L1800.1 986.4L1802.6 986.3L1805.2 986.1L1807.8 986.0L1810.3 985.9L1812.9 987.2L1815.4 988.6L1818.0 989.9L1820.6 990.3L1823.1 991.7L1825.7 993.1L1828.2 994.5L1830.8 994.5L1833.4 994.5L1835.9 993.1L1838.5 991.7L1841.0 990.3L1843.6 989.9L1846.2 988.5L1848.7 987.1L1851.3 985.8L1853.8 985.9L1856.4 986.0L1859.0 986.0L1861.5 986.1L1864.1 986.2L1866.6 986.3L1869.2 986.4L1871.8 986.6L1874.3 986.7L1876.9 986.8L1879.4 987.0L1882.0 987.1L1884.6 987.2L1887.1 987.4L1889.7 987.5L1892.2 987.7L1894.8 987.9L1897.4 988.1L1899.9 988.2L1902.5 988.4L1905.0 988.6L1907.6 988.8L1910.2 989.0L1912.7 989.2L1915.3 989.4L1917.8 989.6L1920.4 989.9L1923.0 990.1L1925.5 990.3L1928.1 990.6L1930.6 990.8L1933.2 991.0L1935.8 991.3L1938.3 991.6L1940.9 991.8L1943.4 992.1L1946.0 992.4L1948.6 992.6L1951.1 992.9L1953.7 993.2L1956.2 993.5L1958.8 993.8L1961.4 994.1L1963.9 994.4L1966.5 994.7L1969.0 995.0L1971.6 995.3L1974.2 995.7L1976.7 996.0L1979.3 996.3L1981.8 996.7L1984.4 997.0L1984.4 999.0L1981.8 999.0L1979.3 999.0L1976.7 999.0L1974.2 999.0L1971.6 999.0L1969.0 999.0L1966.5 999.0L1963.9 999.0L1961.4 999.0L1958.8 999.0L1956.2 999.0L1953.7 999.0L1951.1 999.0L1948.6 999.0L1946.0 999.0L1943.4 999.0L1940.9 999.0L1938.3 999.0L1935.8 999.0L1933.2 999.0L1930.6 999.0L1928.1 999.0L1925.5 999.0L1923.0 999.0L1920.4 999.0L1917.8 999.0L1915.3 999.0L1912.7 999.0L1910.2 999.0L1907.6 999.0L1905.0 999.0L1902.5 999.0L1899.9 999.0L1897.4 999.0L1894.8 999.0L1892.2 999.0L1889.7 999.0L1887.1 999.0L1884.6 999.0L1882.0 999.0L1879.4 999.0L1876.9 999.0L1874.3 999.0L1871.8 999.0L1869.2 999.0L1866.6 999.0L1864.1 999.0L1861.5 999.0L1859.0 999.0L1856.4 999.0L1853.8 999.0L1851.3 999.0L1848.7 999.0L1846.2 999.0L1843.6 999.0L1841.0 998.0L1838.5 998.0L1835.9 998.0L1833.4 998.0L1830.8 998.0L1828.2 998.0L1825.7 998.0L1823.1 998.0L1820.6 998.0L1818.0 999.0L1815.4 999.0L1812.9 999.0L1810.3 999.0L1807.8 999.0L1805.2 999.0L1802.6 999.0L1800.1 999.0L1797.5 999.0L1795.0 999.0L1792.4 999.0L1789.8 999.0L1787.3 999.0L1784.7 999.0L1782.2 999.0L1779.6 999.0L1777.0 999.0L1774.5 999.0L1771.9 999.0L1769.4 999.0L1766.8 999.0L1764.2 999.0L1761.7 999.0L1759.1 999.0L1756.6 999.0L1754.0 999.0L1751.4 999.0L1748.9 999.0L1746.3 999.0L1743.8 999.0L1741.2 999.0L1738.6 999.0L1736.1 999.0L1733.5 999.0L1731.0 999.0L1728.4 999.0L1725.8 999.0L1723.3 999.0L1720.7 999.0L1718.2 999.0L1715.6 999.0L1713.0 999.0L1710.5 999.0L1707.9 999.0L1705.4 999.0L1702.8 999.0Z" fill="#000" filter="url(#vb)" opacity=".95"/>
<path d="M1798 989h.1M1831 990h.1M1815 995h.1M1853 996h.1M1802 995h.1M1850 996h.1M1787 990h.1M1822 988h.1M1791 990h.1M1839 995h.1M1837 996h.1M1874 989h.1M1800 992h.1M1873 991h.1M1829 995h.1M1867 993h.1M1859 993h.1M1838 990h.1M1943 993h.1M1940 996h.1M1775 991h.1M1728 994h.1M1833 992h.1M1799 992h.1M1840 996h.1M1819 991h.1M1825 991h.1M1858 996h.1M1785 994h.1M1799 996h.1M1833 988h.1M1861 996h.1M1793 995h.1M1809 991h.1M1868 995h.1M1798 993h.1M1773 991h.1M1876 996h.1M1757 995h.1M1818 993h.1M1724 989h.1M1794 991h.1M1854 995h.1M1743 995h.1M1883 992h.1M1805 992h.1M1807 993h.1M1845 996h.1M1880 991h.1M1925 994h.1M1784 988h.1M1875 989h.1M1834 990h.1M1892 989h.1M1890 993h.1M1827 996h.1M1858 993h.1M1730 994h.1M1980 995h.1M1830 994h.1M1984 988h.1M1824 995h.1M1890 996h.1M1850 996h.1M1831 989h.1M1826 992h.1M1849 992h.1M1835 991h.1M1785 990h.1M1887 988h.1M1856 995h.1M1782 990h.1M1921 992h.1M1888 988h.1M1863 994h.1M1785 989h.1M1857 993h.1M1863 994h.1M1824 995h.1M1854 995h.1M1789 996h.1M1874 996h.1M1811 995h.1M1823 988h.1M1852 996h.1M1800 995h.1M1859 995h.1M1874 995h.1M1811 995h.1M1772 994h.1M1782 995h.1M1778 989h.1M1940 992h.1M1793 990h.1M1811 995h.1M1857 991h.1M1841 994h.1M1860 993h.1M1845 992h.1M1787 989h.1M1802 991h.1M1858 991h.1M1854 996h.1M1823 994h.1M1832 992h.1M1885 993h.1M1818 993h.1M1817 991h.1M1830 989h.1M1785 989h.1M1780 993h.1M1898 989h.1M1941 995h.1M1792 990h.1M1710 988h.1M1911 996h.1M1736 995h.1M1788 989h.1M1944 990h.1M1817 994h.1M1869 994h.1M1942 991h.1M1850 991h.1M1807 992h.1M1914 990h.1M1763 995h.1M1741 992h.1M1825 992h.1M1908 994h.1M1743 995h.1M1804 992h.1M1936 996h.1M1877 995h.1M1758 989h.1M1750 994h.1M1833 993h.1M1827 996h.1M1875 991h.1M1846 993h.1M1867 994h.1M1811 990h.1M1823 993h.1M1846 991h.1M1775 990h.1M1815 996h.1M1851 990h.1M1811 992h.1M1880 993h.1M1767 989h.1M1923 991h.1M1786 990h.1M1829 988h.1M1910 989h.1M1836 991h.1M1869 989h.1M1917 990h.1M1947 991h.1M1883 994h.1M1768 988h.1M1860 992h.1M1863 988h.1M1841 991h.1M1785 989h.1M1885 996h.1M1823 995h.1M1904 995h.1M1937 995h.1M1791 992h.1M1837 991h.1M1742 991h.1M1835 993h.1M1833 991h.1M1907 991h.1M1798 991h.1M1896 989h.1M1867 991h.1M1881 992h.1M1790 995h.1M1782 995h.1M1853 995h.1M1914 992h.1M1793 996h.1M1778 990h.1M1878 992h.1M1718 990h.1M1816 991h.1M1799 992h.1M1766 992h.1M1798 989h.1M1901 995h.1M1834 991h.1M1894 990h.1M1889 995h.1M1910 995h.1M1803 995h.1M1881 989h.1M1813 990h.1M1782 990h.1M1851 996h.1M1914 990h.1M1891 990h.1M1793 991h.1M1851 995h.1M1879 991h.1M1827 994h.1M1810 991h.1M1930 989h.1M1761 991h.1M1816 995h.1M1900 995h.1M1880 992h.1M1803 994h.1M1832 990h.1M1849 989h.1M1815 992h.1M1838 992h.1M1844 996h.1M1759 990h.1M1893 992h.1M1889 994h.1M1801 994h.1M1776 994h.1M1857 995h.1M1809 990h.1M1885 993h.1M1921 994h.1M1803 988h.1M1746 990h.1M1828 993h.1M1857 993h.1M1843 996h.1M1900 991h.1M1817 992h.1M1775 994h.1M1802 988h.1M1887 992h.1M1946 988h.1M1888 994h.1M1889 993h.1M1804 993h.1M1796 989h.1M1846 996h.1M1833 994h.1M1835 990h.1M1848 990h.1M1896 992h.1M1870 996h.1M1865 995h.1M1823 988h.1M1910 995h.1M1780 996h.1M1872 990h.1M1945 989h.1M1886 988h.1M1920 993h.1M1896 988h.1M1858 991h.1M1938 994h.1M1914 996h.1M1890 995h.1M1829 996h.1M1908 988h.1M1868 989h.1M1827 994h.1M1820 988h.1M1978 990h.1M1765 993h.1M1806 993h.1M1856 992h.1M1959 994h.1M1764 989h.1M1857 989h.1M1783 995h.1M1796 992h.1M1831 991h.1M1801 996h.1M1972 993h.1M1755 990h.1M1914 994h.1M1866 995h.1M1736 995h.1M1756 991h.1M1844 991h.1M1926 988h.1M1824 990h.1M1804 991h.1M1861 993h.1M1853 991h.1M1857 991h.1M1782 994h.1M1914 993h.1M1776 996h.1M1884 993h.1M1861 990h.1M1828 989h.1M1830 990h.1M1828 991h.1M1849 991h.1M1817 990h.1M1945 990h.1M1825 994h.1M1838 993h.1M1827 995h.1M1831 992h.1M1873 991h.1M1876 990h.1M1869 990h.1M1818 996h.1M1931 995h.1M1842 992h.1M1870 989h.1M1896 993h.1M1842 991h.1M1714 994h.1M1822 992h.1M1822 995h.1M1861 993h.1M1916 991h.1M1836 990h.1M1874 992h.1M1910 996h.1M1835 993h.1M1899 988h.1M1830 991h.1M1822 996h.1M1898 996h.1M1858 989h.1M1786 988h.1M1780 990h.1M1847 996h.1M1869 993h.1M1744 990h.1M1875 994h.1M1853 991h.1M1862 988h.1M1828 992h.1M1801 992h.1M1849 992h.1M1883 994h.1M1856 988h.1M1808 990h.1M1820 995h.1M1809 991h.1M1860 996h.1M1838 988h.1M1856 993h.1M1831 992h.1M1776 994h.1M1725 989h.1M1875 991h.1M1853 990h.1M1813 992h.1M1905 991h.1M1841 994h.1M1904 992h.1M1839 992h.1M1785 988h.1M1868 992h.1M1824 993h.1M1865 994h.1M1878 992h.1M1831 991h.1M1823 995h.1M1972 996h.1M1824 989h.1M1849 996h.1M1817 988h.1M1748 996h.1M1891 995h.1M1891 990h.1M1866 990h.1M1738 993h.1M1798 995h.1M1763 995h.1M1867 994h.1M1851 995h.1M1837 989h.1M1818 995h.1M1795 991h.1M1799 988h.1M1879 994h.1M1920 988h.1M1827 989h.1M1792 993h.1M1843 994h.1M1854 993h.1M1878 992h.1M1759 989h.1M1807 991h.1M1832 996h.1M1846 994h.1M1850 992h.1M1961 992h.1M1791 991h.1M1925 988h.1M1909 991h.1M1792 988h.1M1802 991h.1M1946 991h.1M1778 996h.1M1865 991h.1M1858 993h.1M1891 989h.1M1893 994h.1M1849 991h.1M1833 996h.1M1758 988h.1M1807 993h.1M1810 988h.1M1780 996h.1M1838 992h.1M1816 994h.1M1821 989h.1M1850 989h.1M1756 993h.1M1811 996h.1M1800 994h.1M1864 990h.1M1813 990h.1M1873 992h.1M1956 992h.1M1849 988h.1M1859 991h.1M1785 991h.1M1865 988h.1M1830 989h.1M1928 993h.1M1869 989h.1M1861 994h.1M1890 991h.1M1823 994h.1M1853 990h.1M1725 993h.1M1831 988h.1M1809 988h.1M1906 996h.1M1854 995h.1M1879 995h.1M1897 989h.1M1782 996h.1M1856 988h.1M1862 990h.1M1909 988h.1M1775 992h.1M1813 989h.1M1843 990h.1M1782 993h.1M1805 989h.1M1836 995h.1M1928 992h.1M1846 992h.1M1942 994h.1M1864 989h.1M1809 989h.1M1805 989h.1M1805 989h.1M1865 995h.1M1875 995h.1M1818 992h.1M1904 993h.1M1833 995h.1M1915 988h.1M1821 992h.1M1814 990h.1M1807 996h.1M1850 992h.1M1883 988h.1M1821 994h.1M1798 988h.1M1787 991h.1M1827 991h.1M1804 992h.1M1862 996h.1M1819 992h.1M1880 996h.1M1849 991h.1M1832 995h.1M1796 992h.1M1901 995h.1M1792 996h.1M1775 989h.1M1792 993h.1M1872 989h.1M1804 990h.1M1908 993h.1M1780 992h.1M1781 990h.1M1867 992h.1M1783 993h.1M1895 993h.1M1790 994h.1M1862 993h.1M1871 988h.1M1944 992h.1M1910 993h.1M2034 990h.1M2039 988h.1M2046 989h.1M2053 986h.1M2032 990h.1M2044 989h.1M2041 989h.1M2047 989h.1M2038 988h.1M2031 990h.1M2047 987h.1M2044 987h.1M2041 988h.1M2036 990h.1M2034 990h.1M2033 990h.1M2033 988h.1M2048 987h.1M2053 987h.1M2045 989h.1M2050 987h.1M2050 988h.1M2037 988h.1M2031 989h.1M2042 989h.1M2050 988h.1M2046 987h.1M2045 988h.1M2053 987h.1M2039 989h.1M2032 990h.1M2037 988h.1M2038 989h.1M2036 990h.1M2047 989h.1M2050 988h.1M2046 988h.1M2031 989h.1M2030 990h.1M2051 987h.1M2050 987h.1M2040 990h.1M2033 989h.1M2032 989h.1M2037 989h.1M2043 989h.1M2053 987h.1M2038 989h.1M2039 988h.1M2051 987h.1M2046 988h.1M2043 989h.1M2045 988h.1M2043 987h.1M2043 988h.1M2032 990h.1M2032 990h.1M2034 990h.1M2053 987h.1M2041 989h.1M2050 987h.1M2042 987h.1M2044 988h.1M2052 987h.1M2052 987h.1M2044 987h.1M2043 988h.1M2033 990h.1M2046 988h.1M2048 987h.1M2051 988h.1M2033 990h.1M2040 988h.1M2042 989h.1M2035 988h.1M2048 988h.1M2053 988h.1M2036 988h.1M2037 989h.1M2035 989h.1M2049 988h.1M2045 988h.1M2033 990h.1M2051 988h.1M2047 988h.1M2041 989h.1M2046 989h.1M2046 989h.1M2041 989h.1M2038 989h.1" stroke="#000" stroke-width="3.2" stroke-linecap="round" fill="none" opacity="0.8"/>
<path d="M2097 984h.1M2145 970h.1M2145 974h.1M2077 984h.1M2095 981h.1M2115 974h.1M2130 976h.1M2152 975h.1M2062 989h.1M2160 969h.1M2162 968h.1M2073 988h.1M2159 977h.1M2157 976h.1M2071 985h.1M2052 992h.1M2052 988h.1M2115 975h.1M2156 972h.1M2137 980h.1M2151 977h.1M2090 987h.1M2064 985h.1M2162 972h.1M2058 981h.1M2075 987h.1M2103 977h.1M2061 985h.1M2131 973h.1M2064 991h.1M2150 973h.1M2158 974h.1M2165 970h.1M2070 981h.1M2125 981h.1M2157 971h.1M2136 975h.1M2104 981h.1M2137 980h.1M2127 974h.1M2086 980h.1M2060 983h.1M2156 977h.1M2094 979h.1M2053 984h.1M2107 984h.1M2122 978h.1M2119 981h.1M2125 975h.1M2109 976h.1M2071 986h.1M2149 972h.1M2076 981h.1M2149 978h.1M2096 978h.1M2089 982h.1M2147 975h.1M2100 982h.1M2158 973h.1M2141 980h.1M2142 978h.1M2156 974h.1M2144 979h.1M2168 967h.1M2101 978h.1M2066 989h.1M2105 982h.1M2084 981h.1M2053 989h.1M2065 982h.1M2133 975h.1M2102 978h.1M2097 986h.1M2111 976h.1M2073 981h.1M2071 989h.1M2076 987h.1M2154 972h.1M2065 981h.1M2152 976h.1M2072 985h.1M2068 986h.1M2162 978h.1M2144 976h.1M2168 975h.1M2150 979h.1M2110 982h.1M2054 988h.1M2117 983h.1M2137 980h.1M2166 974h.1M2057 989h.1M2113 983h.1M2136 978h.1M2117 976h.1M2076 980h.1M2122 974h.1M2118 976h.1M2143 980h.1M2115 981h.1M2071 982h.1M2118 979h.1M2135 980h.1M2131 974h.1M2161 977h.1M2089 979h.1M2129 973h.1M2062 983h.1M2070 985h.1M2078 986h.1M2093 982h.1M2129 974h.1M2063 982h.1M2120 976h.1M2067 986h.1M2134 972h.1M2165 970h.1M2142 980h.1M2157 972h.1M2131 981h.1M2148 970h.1M2091 986h.1M2135 974h.1M2143 974h.1M2107 984h.1M2051 988h.1M2080 983h.1M2054 989h.1M2093 981h.1M2081 982h.1M2147 974h.1M2163 974h.1M2117 978h.1M2089 983h.1M2137 980h.1M2114 980h.1M2112 984h.1M2132 974h.1M2073 984h.1M2085 983h.1M2163 970h.1M2089 981h.1M2079 982h.1M2158 974h.1M2160 972h.1M2060 982h.1M2112 977h.1M2121 979h.1M2160 969h.1M2124 975h.1M2101 976h.1M2055 987h.1M2062 990h.1M2113 981h.1M2068 985h.1M2139 977h.1M2150 978h.1M2149 976h.1M2072 985h.1M2162 976h.1" stroke="#888" stroke-width="3.4" stroke-linecap="round" fill="none" opacity="0.45"/>
<rect x="1329.3" y="84.7" width="1002.7" height="954.8" fill="none" stroke="#8c8c8c" stroke-width="2.4"/>
<path d="M1329.3 84.7V1039.5" stroke="#c8c8c8" stroke-width="4.2"/>
<path d="M1574.8 1039.5v5M1830.8 1039.5v5M2086.8 1039.5v5M1327.3 997.0h-5M1327.3 714.3h-5M1327.3 431.6h-5M1327.3 148.9h-5" stroke="#888" stroke-width="2" fill="none"/>
<text x="1306.5" y="1009.6" font-size="34.5" font-weight="bold" font-style="normal" fill="#000" text-anchor="end">0</text>
<text x="1306.5" y="726.9" font-size="34.5" font-weight="bold" font-style="normal" fill="#000" text-anchor="end">100</text>
<text x="1306.5" y="444.2" font-size="34.5" font-weight="bold" font-style="normal" fill="#000" text-anchor="end">200</text>
<text x="1306.5" y="161.5" font-size="34.5" font-weight="bold" font-style="normal" fill="#000" text-anchor="end">300</text>
<text x="1568.8" y="1098.7" font-size="34" font-weight="bold" font-style="normal" fill="#000" text-anchor="middle">-5</text>
<text x="1830.8" y="1098.7" font-size="34" font-weight="bold" font-style="normal" fill="#000" text-anchor="middle">0</text>
<text x="2086.8" y="1098.7" font-size="34" font-weight="bold" font-style="normal" fill="#000" text-anchor="middle">5</text>
<text x="1663.5" y="1186" font-size="41" fill="#111">log<tspan font-size="24" dy="10">2</tspan><tspan dy="-10">(Fold Change)</tspan></text>
<text transform="translate(1194.2,560.3) rotate(-90)" font-size="40.5" fill="#111" text-anchor="middle">-log(p_c)</text>
<path d="M1609.6 536.4L1659.4 529.8M1550.6 567.5L1652.0 563.2M1592.3 605.8L1628.3 599.2M1517.4 646.7L1544.8 692.0M1614.0 657.4L1651.4 649.6M1486.6 675.2L1615.4 712.7M1566.4 705.7L1615.4 717.8M1476.3 730.0L1622.6 725.0M1619.7 733.7L1643.3 726.5M1619.7 738.0L1665.2 737.4M1413.8 763.3L1517.4 756.7M1530.4 755.3L1576.5 743.8M1593.8 766.8L1655.7 752.4M1655.7 772.6L1669.5 759.6M1635.5 795.6L1654.2 775.4M1611.0 825.8L1642.7 781.2M1660.0 385.0L1668.0 362.0" stroke="#3333ff" stroke-width="1.5" fill="none" opacity=".85"/>
<path d="M2152.3 852.6L2169.5 845.7" stroke="#ff3333" stroke-width="1.5" fill="none" opacity=".85"/>
<text x="1610.7" y="153.8" font-size="23.6" font-weight="normal" font-style="normal" fill="#3030ff" text-anchor="start">Phkg1</text>
<text x="1490.4" y="171.0" font-size="23.6" font-weight="normal" font-style="normal" fill="#3030ff" text-anchor="start">Tmem56</text>
<text x="1580.3" y="293.8" font-size="23.6" font-weight="normal" font-style="normal" fill="#3030ff" text-anchor="start">Myom2</text>
<text x="1612.0" y="369.0" font-size="23.6" font-weight="normal" font-style="normal" fill="#3030ff" text-anchor="start">Phka1</text>
<text x="1571.0" y="400.9" font-size="23.6" font-weight="normal" font-style="normal" fill="#3030ff" text-anchor="start">Camk2a</text>
<text x="1622.4" y="445.8" font-size="23.6" font-weight="normal" font-style="normal" fill="#3030ff" text-anchor="start">Slc37a4</text>
<text x="1575.8" y="492.5" font-size="23.6" font-weight="normal" font-style="normal" fill="#3030ff" text-anchor="start">Prkab2</text>
<text x="1544.8" y="546.5" font-size="23.6" font-weight="normal" font-style="normal" fill="#3030ff" text-anchor="start">Stbd1</text>
<text x="1378.6" y="576.7" font-size="23.6" font-weight="normal" font-style="normal" fill="#3030ff" text-anchor="start">6430571L13Rik</text>
<text x="1605.3" y="591.1" font-size="23.6" font-weight="normal" font-style="normal" fill="#3030ff" text-anchor="start">Atp1b2</text>
<text x="1533.9" y="615.6" font-size="23.6" font-weight="normal" font-style="normal" fill="#3030ff" text-anchor="start">Aqp4</text>
<text x="1596.0" y="630.0" font-size="23.6" font-weight="normal" font-style="normal" fill="#3030ff" text-anchor="start">Shisa2</text>
<text x="1408.0" y="653.0" font-size="23.6" font-weight="normal" font-style="normal" fill="#3030ff" text-anchor="start">Tmem233</text>
<text x="1551.4" y="666.0" font-size="23.6" font-weight="normal" font-style="normal" fill="#3030ff" text-anchor="start">Gpd2</text>
<text x="1398.0" y="686.2" font-size="23.6" font-weight="normal" font-style="normal" fill="#3030ff" text-anchor="start">Slc16a3</text>
<text x="1601.8" y="696.2" font-size="23.6" font-weight="normal" font-style="normal" fill="#3030ff" text-anchor="start">Gpt2</text>
<text x="1506.0" y="715.0" font-size="23.6" font-weight="normal" font-style="normal" fill="#3030ff" text-anchor="start">Gpd1</text>
<text x="1383.0" y="739.4" font-size="23.6" font-weight="normal" font-style="normal" fill="#3030ff" text-anchor="start">Gm4980</text>
<text x="1544.8" y="745.2" font-size="23.6" font-weight="normal" font-style="normal" fill="#3030ff" text-anchor="start">Prkag3</text>
<text x="1331.7" y="771.1" font-size="23.6" font-weight="normal" font-style="normal" fill="#3030ff" text-anchor="start">C02Rik</text>
<text x="1466.5" y="772.0" font-size="23.6" font-weight="normal" font-style="normal" fill="#3030ff" text-anchor="start">Eya4</text>
<text x="1524.0" y="776.9" font-size="23.6" font-weight="normal" font-style="normal" fill="#3030ff" text-anchor="start">Kcnc1</text>
<text x="1619.7" y="775.4" font-size="23.6" font-weight="normal" font-style="normal" fill="#3030ff" text-anchor="start">Pdpr</text>
<text x="1588.9" y="805.7" font-size="23.6" font-weight="normal" font-style="normal" fill="#3030ff" text-anchor="start">Ptx3</text>
<text x="1553.4" y="836.8" font-size="23.6" font-weight="normal" font-style="normal" fill="#3030ff" text-anchor="start">Nos1</text>
<text x="2075.2" y="579.6" font-size="23.6" font-weight="normal" font-style="normal" fill="#ff2020" text-anchor="start">Mhrt</text>
<text x="1941.4" y="685.7" font-size="23.6" font-weight="normal" font-style="normal" fill="#ff2020" text-anchor="start">Zfp385a</text>
<text x="1927.6" y="804.2" font-size="23.6" font-weight="normal" font-style="normal" fill="#ff2020" text-anchor="start">Smtnl1</text>
<text x="2014.0" y="825.0" font-size="23.6" font-weight="normal" font-style="normal" fill="#ff2020" text-anchor="start">Rspo3</text>
<text x="2117.0" y="864.0" font-size="23.6" font-weight="normal" font-style="normal" fill="#ff2020" text-anchor="start">Sln</text>
</g>
<g id="panel-c">
<text transform="translate(40,1047.3) scale(0.93,0.97)" font-size="54" font-weight="bold">c</text>
<text x="155.5" y="1087.4" font-size="40" font-weight="bold" font-style="normal" fill="#ff0000" text-anchor="middle">So 1</text>
<text x="281.1" y="1087.4" font-size="40" font-weight="bold" font-style="normal" fill="#ff0000" text-anchor="middle">So 2</text>
<text x="409.9" y="1087.4" font-size="40" font-weight="bold" font-style="normal" fill="#ff0000" text-anchor="middle">So 3</text>
<text x="533.1" y="1087.4" font-size="40" font-weight="bold" font-style="normal" fill="#ff0000" text-anchor="middle">So 4</text>
<text x="658.7" y="1087.4" font-size="40" font-weight="bold" font-style="normal" fill="#ff0000" text-anchor="middle">So 5</text>
<text x="787.7" y="1087.4" font-size="40" font-weight="bold" font-style="normal" fill="#0000ff" text-anchor="middle">Ta 1</text>
<text x="911.7" y="1087.4" font-size="40" font-weight="bold" font-style="normal" fill="#0000ff" text-anchor="middle">Ta 2</text>
<text x="981.6" y="1088.0" font-size="31" font-weight="bold" font-style="normal" fill="#111" text-anchor="start">Z-score</text>
<defs><filter id="hb" x="0" y="0" width="100%" height="100%" filterUnits="objectBoundingBox"><feGaussianBlur stdDeviation="1.4 1.3"/></filter><clipPath id="hc"><rect x="81.9" y="1104.2" width="901.1" height="1732.3"/></clipPath></defs><g id="heatmap" clip-path="url(#hc)"><g filter="url(#hb)"><rect x="71.9" y="1094.2" width="921.1" height="1752.3" fill="#9cc"/><path fill="#8a3a08" d="M725.5 2196.4h129.1v2.4h-129.1z"/><path fill="#904511" d="M725.5 2072.4h129.1v4.4h-129.1zM725.5 2080.4h129.1v2.4h-129.1zM725.5 2190.4h129.1v4.4h-129.1zM725.5 2198.4h129.1v2.4h-129.1zM725.5 2694.5h129.1v2.4h-129.1zM725.5 2712.5h129.1v2.4h-129.1z"/><path fill="#96501a" d="M468.1 2546.4h129.1v6.4h-129.1zM725.5 2052.4h129.1v2.4h-129.1zM725.5 2070.4h129.1v2.4h-129.1zM725.5 2172.4h129.1v2.4h-129.1zM725.5 2200.4h129.1v2.4h-129.1z"/><path fill="#9c5a1d" d="M468.1 2558.5h129.1v2.4h-129.1zM468.1 2748.5h129.1v2.4h-129.1zM725.5 1996.4h129.1v4.4h-129.1zM725.5 2054.4h129.1v4.4h-129.1zM725.5 2064.4h129.1v6.4h-129.1zM725.5 2076.4h129.1v4.4h-129.1zM725.5 2174.4h129.1v4.4h-129.1zM725.5 2186.4h129.1v4.4h-129.1zM725.5 2194.4h129.1v2.4h-129.1zM725.5 2236.4h129.1v4.4h-129.1zM725.5 2244.4h129.1v2.4h-129.1zM725.5 2284.4h129.1v2.4h-129.1zM725.5 2322.4h129.1v2.4h-129.1zM725.5 2698.5h129.1v14.4h-129.1z"/><path fill="#a36420" d="M468.1 1982.4h129.1v2.4h-129.1zM468.1 2624.5h129.1v2.4h-129.1zM468.1 2750.5h129.1v10.4h-129.1zM596.8 2774.5h129.1v4.4h-129.1zM725.5 1990.4h129.1v6.4h-129.1zM725.5 2060.4h129.1v4.4h-129.1zM725.5 2178.4h129.1v4.4h-129.1zM725.5 2240.4h129.1v4.4h-129.1zM725.5 2246.4h129.1v2.4h-129.1zM725.5 2256.4h129.1v2.4h-129.1zM725.5 2260.4h129.1v2.4h-129.1zM725.5 2298.4h129.1v2.4h-129.1zM725.5 2320.4h129.1v2.4h-129.1zM725.5 2328.4h129.1v2.4h-129.1zM725.5 2338.4h129.1v6.4h-129.1zM725.5 2540.4h129.1v2.4h-129.1zM725.5 2696.5h129.1v2.4h-129.1z"/><path fill="#a86f24" d="M468.1 2112.4h129.1v8.4h-129.1zM468.1 2544.4h129.1v2.4h-129.1zM468.1 2552.5h129.1v6.4h-129.1zM468.1 2570.5h129.1v2.4h-129.1zM468.1 2578.5h129.1v4.4h-129.1zM468.1 2622.5h129.1v2.4h-129.1zM596.8 2772.5h129.1v2.4h-129.1zM725.5 2024.4h129.1v6.4h-129.1zM725.5 2042.4h129.1v4.4h-129.1zM725.5 2136.4h129.1v4.4h-129.1zM725.5 2152.4h129.1v6.4h-129.1zM725.5 2166.4h129.1v2.4h-129.1zM725.5 2170.4h129.1v2.4h-129.1zM725.5 2182.4h129.1v2.4h-129.1zM725.5 2218.4h129.1v8.4h-129.1zM725.5 2250.4h129.1v6.4h-129.1zM725.5 2258.4h129.1v2.4h-129.1zM725.5 2270.4h129.1v2.4h-129.1zM725.5 2292.4h129.1v6.4h-129.1zM725.5 2300.4h129.1v2.4h-129.1zM725.5 2314.4h129.1v6.4h-129.1zM725.5 2336.4h129.1v2.4h-129.1zM725.5 2344.4h129.1v2.4h-129.1zM725.5 2526.4h129.1v6.4h-129.1zM854.3 2472.4h129.1v2.4h-129.1z"/><path fill="#ae7a28" d="M339.4 2598.5h129.1v2.4h-129.1zM339.4 2782.5h129.1v4.4h-129.1zM468.1 1976.4h129.1v6.4h-129.1zM468.1 2572.5h129.1v2.4h-129.1zM468.1 2592.5h129.1v6.4h-129.1zM468.1 2742.5h129.1v4.4h-129.1zM596.8 1936.3h129.1v4.4h-129.1zM725.5 2018.4h129.1v2.4h-129.1zM725.5 2046.4h129.1v6.4h-129.1zM725.5 2058.4h129.1v2.4h-129.1zM725.5 2140.4h129.1v2.4h-129.1zM725.5 2168.4h129.1v2.4h-129.1zM725.5 2184.4h129.1v2.4h-129.1zM725.5 2210.4h129.1v2.4h-129.1zM725.5 2226.4h129.1v8.4h-129.1zM725.5 2248.4h129.1v2.4h-129.1zM725.5 2262.4h129.1v4.4h-129.1zM725.5 2272.4h129.1v6.4h-129.1zM725.5 2286.4h129.1v6.4h-129.1zM725.5 2302.4h129.1v12.4h-129.1zM725.5 2330.4h129.1v6.4h-129.1zM725.5 2382.4h129.1v6.4h-129.1zM725.5 2424.4h129.1v2.4h-129.1zM725.5 2448.4h129.1v4.4h-129.1zM725.5 2532.4h129.1v8.4h-129.1zM854.3 2224.4h129.1v2.4h-129.1zM854.3 2244.4h129.1v2.4h-129.1zM854.3 2252.4h129.1v4.4h-129.1zM854.3 2260.4h129.1v4.4h-129.1zM854.3 2400.4h129.1v2.4h-129.1zM854.3 2410.4h129.1v2.4h-129.1zM854.3 2470.4h129.1v2.4h-129.1zM854.3 2474.4h129.1v2.4h-129.1zM854.3 2486.4h129.1v4.4h-129.1zM854.3 2502.4h129.1v4.4h-129.1z"/><path fill="#b3852c" d="M339.4 2600.5h129.1v6.4h-129.1zM339.4 2808.5h129.1v4.4h-129.1zM468.1 2088.4h129.1v8.4h-129.1zM468.1 2110.4h129.1v2.4h-129.1zM468.1 2564.5h129.1v6.4h-129.1zM468.1 2574.5h129.1v4.4h-129.1zM468.1 2582.5h129.1v2.4h-129.1zM468.1 2586.5h129.1v2.4h-129.1zM468.1 2598.5h129.1v2.4h-129.1zM468.1 2606.5h129.1v2.4h-129.1zM468.1 2620.5h129.1v2.4h-129.1zM468.1 2716.5h129.1v4.4h-129.1zM468.1 2724.5h129.1v2.4h-129.1zM596.8 1932.3h129.1v4.4h-129.1zM725.5 1984.4h129.1v6.4h-129.1zM725.5 2094.4h129.1v2.4h-129.1zM725.5 2142.4h129.1v6.4h-129.1zM725.5 2158.4h129.1v8.4h-129.1zM725.5 2202.4h129.1v6.4h-129.1zM725.5 2212.4h129.1v6.4h-129.1zM725.5 2234.4h129.1v2.4h-129.1zM725.5 2266.4h129.1v4.4h-129.1zM725.5 2278.4h129.1v6.4h-129.1zM725.5 2324.4h129.1v2.4h-129.1zM725.5 2354.4h129.1v4.4h-129.1zM725.5 2366.4h129.1v2.4h-129.1zM725.5 2372.4h129.1v4.4h-129.1zM725.5 2378.4h129.1v4.4h-129.1zM725.5 2428.4h129.1v6.4h-129.1zM725.5 2436.4h129.1v4.4h-129.1zM725.5 2518.4h129.1v8.4h-129.1zM725.5 2690.5h129.1v4.4h-129.1zM725.5 2726.5h129.1v6.4h-129.1zM854.3 2202.4h129.1v8.4h-129.1zM854.3 2320.4h129.1v4.4h-129.1zM854.3 2328.4h129.1v2.4h-129.1zM854.3 2368.4h129.1v4.4h-129.1zM854.3 2378.4h129.1v6.4h-129.1zM854.3 2440.4h129.1v6.4h-129.1zM854.3 2476.4h129.1v4.4h-129.1zM854.3 2482.4h129.1v4.4h-129.1zM854.3 2490.4h129.1v4.4h-129.1zM854.3 2498.4h129.1v2.4h-129.1z"/><path fill="#b89030" d="M339.4 2780.5h129.1v2.4h-129.1zM339.4 2786.5h129.1v8.4h-129.1zM468.1 2098.4h129.1v2.4h-129.1zM468.1 2584.5h129.1v2.4h-129.1zM468.1 2600.5h129.1v2.4h-129.1zM468.1 2608.5h129.1v6.4h-129.1zM468.1 2628.5h129.1v2.4h-129.1zM468.1 2720.5h129.1v4.4h-129.1zM468.1 2830.5h129.1v2.4h-129.1zM725.5 2020.4h129.1v4.4h-129.1zM725.5 2030.4h129.1v10.4h-129.1zM725.5 2082.4h129.1v2.4h-129.1zM725.5 2086.4h129.1v4.4h-129.1zM725.5 2100.4h129.1v6.4h-129.1zM725.5 2118.4h129.1v2.4h-129.1zM725.5 2148.4h129.1v4.4h-129.1zM725.5 2208.4h129.1v2.4h-129.1zM725.5 2326.4h129.1v2.4h-129.1zM725.5 2352.4h129.1v2.4h-129.1zM725.5 2392.4h129.1v4.4h-129.1zM725.5 2434.4h129.1v2.4h-129.1zM725.5 2444.4h129.1v4.4h-129.1zM725.5 2458.4h129.1v4.4h-129.1zM725.5 2466.4h129.1v4.4h-129.1zM725.5 2516.4h129.1v2.4h-129.1zM725.5 2550.5h129.1v2.4h-129.1zM854.3 2122.4h129.1v4.4h-129.1zM854.3 2216.4h129.1v2.4h-129.1zM854.3 2220.4h129.1v4.4h-129.1zM854.3 2228.4h129.1v4.4h-129.1zM854.3 2238.4h129.1v2.4h-129.1zM854.3 2264.4h129.1v2.4h-129.1zM854.3 2308.4h129.1v6.4h-129.1zM854.3 2318.4h129.1v2.4h-129.1zM854.3 2372.4h129.1v6.4h-129.1zM854.3 2402.4h129.1v8.4h-129.1zM854.3 2428.4h129.1v4.4h-129.1zM854.3 2446.4h129.1v6.4h-129.1zM854.3 2480.4h129.1v2.4h-129.1zM854.3 2494.4h129.1v4.4h-129.1zM854.3 2508.4h129.1v2.4h-129.1zM854.3 2634.5h129.1v10.4h-129.1z"/><path fill="#be9c36" d="M339.4 1182.2h129.1v4.4h-129.1zM339.4 1804.3h129.1v2.4h-129.1zM339.4 1816.3h129.1v10.4h-129.1zM339.4 1912.3h129.1v2.4h-129.1zM339.4 1918.3h129.1v14.4h-129.1zM339.4 2630.5h129.1v6.4h-129.1zM339.4 2816.5h129.1v2.4h-129.1zM339.4 2822.5h129.1v4.4h-129.1zM468.1 1194.2h129.1v4.4h-129.1zM468.1 1296.2h129.1v2.4h-129.1zM468.1 1994.4h129.1v2.4h-129.1zM468.1 2004.4h129.1v6.4h-129.1zM468.1 2022.4h129.1v4.4h-129.1zM468.1 2100.4h129.1v6.4h-129.1zM468.1 2588.5h129.1v4.4h-129.1zM468.1 2604.5h129.1v2.4h-129.1zM468.1 2738.5h129.1v2.4h-129.1zM468.1 2802.5h129.1v6.4h-129.1zM468.1 2818.5h129.1v2.4h-129.1zM468.1 2832.5h129.1v4.4h-129.1zM596.8 1976.4h129.1v2.4h-129.1zM596.8 2778.5h129.1v4.4h-129.1zM725.5 2040.4h129.1v2.4h-129.1zM725.5 2090.4h129.1v4.4h-129.1zM725.5 2096.4h129.1v4.4h-129.1zM725.5 2114.4h129.1v4.4h-129.1zM725.5 2358.4h129.1v2.4h-129.1zM725.5 2370.4h129.1v2.4h-129.1zM725.5 2376.4h129.1v2.4h-129.1zM725.5 2388.4h129.1v2.4h-129.1zM725.5 2396.4h129.1v4.4h-129.1zM725.5 2426.4h129.1v2.4h-129.1zM725.5 2452.4h129.1v2.4h-129.1zM725.5 2504.4h129.1v12.4h-129.1zM725.5 2588.5h129.1v6.4h-129.1zM725.5 2652.5h129.1v2.4h-129.1zM725.5 2688.5h129.1v2.4h-129.1zM854.3 2174.4h129.1v4.4h-129.1zM854.3 2186.4h129.1v2.4h-129.1zM854.3 2226.4h129.1v2.4h-129.1zM854.3 2232.4h129.1v6.4h-129.1zM854.3 2246.4h129.1v4.4h-129.1zM854.3 2278.4h129.1v4.4h-129.1zM854.3 2296.4h129.1v6.4h-129.1zM854.3 2324.4h129.1v2.4h-129.1zM854.3 2330.4h129.1v6.4h-129.1zM854.3 2354.4h129.1v4.4h-129.1zM854.3 2364.4h129.1v4.4h-129.1zM854.3 2386.4h129.1v2.4h-129.1zM854.3 2412.4h129.1v4.4h-129.1zM854.3 2424.4h129.1v2.4h-129.1zM854.3 2432.4h129.1v4.4h-129.1zM854.3 2452.4h129.1v4.4h-129.1zM854.3 2500.4h129.1v2.4h-129.1zM854.3 2632.5h129.1v2.4h-129.1zM854.3 2646.5h129.1v2.4h-129.1zM854.3 2656.5h129.1v4.4h-129.1zM854.3 2668.5h129.1v6.4h-129.1zM854.3 2676.5h129.1v2.4h-129.1zM854.3 2756.5h129.1v4.4h-129.1z"/><path fill="#c4a83c" d="M81.9 2458.4h129.1v2.4h-129.1zM81.9 2786.5h129.1v2.4h-129.1zM210.6 1220.2h129.1v4.4h-129.1zM210.6 2624.5h129.1v6.4h-129.1zM339.4 1802.3h129.1v2.4h-129.1zM339.4 1806.3h129.1v8.4h-129.1zM339.4 1832.3h129.1v6.4h-129.1zM339.4 2614.5h129.1v6.4h-129.1zM339.4 2628.5h129.1v2.4h-129.1zM339.4 2720.5h129.1v2.4h-129.1zM339.4 2812.5h129.1v2.4h-129.1zM339.4 2826.5h129.1v2.4h-129.1zM468.1 1188.2h129.1v4.4h-129.1zM468.1 1242.2h129.1v2.4h-129.1zM468.1 1246.2h129.1v4.4h-129.1zM468.1 1256.2h129.1v2.4h-129.1zM468.1 1288.2h129.1v8.4h-129.1zM468.1 1432.3h129.1v8.4h-129.1zM468.1 1666.3h129.1v4.4h-129.1zM468.1 1988.4h129.1v6.4h-129.1zM468.1 1998.4h129.1v2.4h-129.1zM468.1 2002.4h129.1v2.4h-129.1zM468.1 2010.4h129.1v4.4h-129.1zM468.1 2016.4h129.1v6.4h-129.1zM468.1 2096.4h129.1v2.4h-129.1zM468.1 2106.4h129.1v4.4h-129.1zM468.1 2494.4h129.1v2.4h-129.1zM468.1 2560.5h129.1v4.4h-129.1zM468.1 2602.5h129.1v2.4h-129.1zM468.1 2614.5h129.1v6.4h-129.1zM468.1 2640.5h129.1v4.4h-129.1zM468.1 2714.5h129.1v2.4h-129.1zM468.1 2740.5h129.1v2.4h-129.1zM468.1 2800.5h129.1v2.4h-129.1zM468.1 2808.5h129.1v6.4h-129.1zM468.1 2828.5h129.1v2.4h-129.1zM596.8 1784.3h129.1v2.4h-129.1zM596.8 1940.3h129.1v6.4h-129.1zM596.8 1968.3h129.1v8.4h-129.1zM596.8 2122.4h129.1v8.4h-129.1zM596.8 2132.4h129.1v2.4h-129.1zM596.8 2396.4h129.1v4.4h-129.1zM725.5 2008.4h129.1v2.4h-129.1zM725.5 2084.4h129.1v2.4h-129.1zM725.5 2106.4h129.1v8.4h-129.1zM725.5 2360.4h129.1v6.4h-129.1zM725.5 2390.4h129.1v2.4h-129.1zM725.5 2416.4h129.1v2.4h-129.1zM725.5 2440.4h129.1v2.4h-129.1zM725.5 2454.4h129.1v4.4h-129.1zM725.5 2462.4h129.1v4.4h-129.1zM725.5 2470.4h129.1v2.4h-129.1zM725.5 2656.5h129.1v4.4h-129.1zM725.5 2772.5h129.1v2.4h-129.1zM725.5 2776.5h129.1v2.4h-129.1zM854.3 2026.4h129.1v8.4h-129.1zM854.3 2172.4h129.1v2.4h-129.1zM854.3 2178.4h129.1v2.4h-129.1zM854.3 2210.4h129.1v6.4h-129.1zM854.3 2218.4h129.1v2.4h-129.1zM854.3 2240.4h129.1v4.4h-129.1zM854.3 2250.4h129.1v2.4h-129.1zM854.3 2256.4h129.1v4.4h-129.1zM854.3 2282.4h129.1v2.4h-129.1zM854.3 2294.4h129.1v2.4h-129.1zM854.3 2302.4h129.1v6.4h-129.1zM854.3 2314.4h129.1v4.4h-129.1zM854.3 2326.4h129.1v2.4h-129.1zM854.3 2340.4h129.1v10.4h-129.1zM854.3 2362.4h129.1v2.4h-129.1zM854.3 2388.4h129.1v12.4h-129.1zM854.3 2418.4h129.1v2.4h-129.1zM854.3 2426.4h129.1v2.4h-129.1zM854.3 2436.4h129.1v4.4h-129.1zM854.3 2460.4h129.1v4.4h-129.1zM854.3 2510.4h129.1v8.4h-129.1zM854.3 2526.4h129.1v2.4h-129.1zM854.3 2648.5h129.1v2.4h-129.1zM854.3 2652.5h129.1v2.4h-129.1zM854.3 2666.5h129.1v2.4h-129.1zM854.3 2688.5h129.1v2.4h-129.1zM854.3 2726.5h129.1v6.4h-129.1zM854.3 2764.5h129.1v2.4h-129.1z"/><path fill="#cdb74b" d="M81.9 1250.2h129.1v6.4h-129.1zM81.9 2464.4h129.1v8.4h-129.1zM339.4 1110.2h129.1v6.4h-129.1zM339.4 1136.2h129.1v8.4h-129.1zM339.4 1152.2h129.1v2.4h-129.1zM339.4 1258.2h129.1v2.4h-129.1zM339.4 1268.2h129.1v14.4h-129.1zM339.4 1914.3h129.1v4.4h-129.1zM339.4 2620.5h129.1v4.4h-129.1zM339.4 2726.5h129.1v6.4h-129.1zM339.4 2734.5h129.1v4.4h-129.1zM339.4 2802.5h129.1v2.4h-129.1zM339.4 2814.5h129.1v2.4h-129.1zM339.4 2818.5h129.1v2.4h-129.1zM468.1 1140.2h129.1v18.4h-129.1zM468.1 1192.2h129.1v2.4h-129.1zM468.1 1250.2h129.1v6.4h-129.1zM468.1 1274.2h129.1v10.4h-129.1zM468.1 1298.2h129.1v2.4h-129.1zM468.1 1312.2h129.1v6.4h-129.1zM468.1 1328.2h129.1v2.4h-129.1zM468.1 1344.2h129.1v4.4h-129.1zM468.1 1366.2h129.1v2.4h-129.1zM468.1 1426.3h129.1v4.4h-129.1zM468.1 1496.3h129.1v16.4h-129.1zM468.1 2014.4h129.1v2.4h-129.1zM468.1 2026.4h129.1v4.4h-129.1zM468.1 2130.4h129.1v2.4h-129.1zM468.1 2486.4h129.1v4.4h-129.1zM468.1 2496.4h129.1v4.4h-129.1zM468.1 2626.5h129.1v2.4h-129.1zM468.1 2630.5h129.1v4.4h-129.1zM468.1 2746.5h129.1v2.4h-129.1zM468.1 2794.5h129.1v4.4h-129.1zM468.1 2814.5h129.1v4.4h-129.1zM596.8 1774.3h129.1v2.4h-129.1zM596.8 1950.3h129.1v8.4h-129.1zM596.8 1960.3h129.1v8.4h-129.1zM596.8 2120.4h129.1v2.4h-129.1zM596.8 2762.5h129.1v10.4h-129.1zM596.8 2824.5h129.1v4.4h-129.1zM725.5 2002.4h129.1v6.4h-129.1zM725.5 2012.4h129.1v4.4h-129.1zM725.5 2368.4h129.1v2.4h-129.1zM725.5 2410.4h129.1v6.4h-129.1zM725.5 2418.4h129.1v6.4h-129.1zM725.5 2442.4h129.1v2.4h-129.1zM725.5 2496.4h129.1v2.4h-129.1zM725.5 2552.5h129.1v2.4h-129.1zM725.5 2580.5h129.1v6.4h-129.1zM725.5 2654.5h129.1v2.4h-129.1zM725.5 2678.5h129.1v10.4h-129.1zM725.5 2788.5h129.1v2.4h-129.1zM854.3 2046.4h129.1v6.4h-129.1zM854.3 2118.4h129.1v4.4h-129.1zM854.3 2156.4h129.1v4.4h-129.1zM854.3 2180.4h129.1v6.4h-129.1zM854.3 2188.4h129.1v2.4h-129.1zM854.3 2266.4h129.1v12.4h-129.1zM854.3 2290.4h129.1v4.4h-129.1zM854.3 2336.4h129.1v4.4h-129.1zM854.3 2350.4h129.1v4.4h-129.1zM854.3 2384.4h129.1v2.4h-129.1zM854.3 2456.4h129.1v4.4h-129.1zM854.3 2464.4h129.1v6.4h-129.1zM854.3 2506.4h129.1v2.4h-129.1zM854.3 2542.4h129.1v2.4h-129.1zM854.3 2644.5h129.1v2.4h-129.1zM854.3 2650.5h129.1v2.4h-129.1zM854.3 2654.5h129.1v2.4h-129.1zM854.3 2678.5h129.1v8.4h-129.1z"/><path fill="#d6c65a" d="M81.9 1104.2h129.1v4.4h-129.1zM81.9 1224.2h129.1v8.4h-129.1zM81.9 1760.3h129.1v6.4h-129.1zM81.9 2084.4h129.1v4.4h-129.1zM210.6 1212.2h129.1v4.4h-129.1zM210.6 1224.2h129.1v4.4h-129.1zM210.6 1312.2h129.1v8.4h-129.1zM210.6 1478.3h129.1v6.4h-129.1zM210.6 1556.3h129.1v2.4h-129.1zM210.6 1564.3h129.1v2.4h-129.1zM339.4 1108.2h129.1v2.4h-129.1zM339.4 1120.2h129.1v4.4h-129.1zM339.4 1144.2h129.1v8.4h-129.1zM339.4 1178.2h129.1v4.4h-129.1zM339.4 1186.2h129.1v2.4h-129.1zM339.4 1282.2h129.1v8.4h-129.1zM339.4 1292.2h129.1v14.4h-129.1zM339.4 1376.2h129.1v12.4h-129.1zM339.4 1392.2h129.1v10.4h-129.1zM339.4 1470.3h129.1v2.4h-129.1zM339.4 1546.3h129.1v8.4h-129.1zM339.4 1814.3h129.1v2.4h-129.1zM339.4 1826.3h129.1v6.4h-129.1zM339.4 1838.3h129.1v2.4h-129.1zM339.4 1884.3h129.1v6.4h-129.1zM339.4 1894.3h129.1v8.4h-129.1zM339.4 2624.5h129.1v4.4h-129.1zM339.4 2714.5h129.1v6.4h-129.1zM339.4 2722.5h129.1v4.4h-129.1zM339.4 2732.5h129.1v2.4h-129.1zM339.4 2750.5h129.1v4.4h-129.1zM339.4 2820.5h129.1v2.4h-129.1zM468.1 1158.2h129.1v6.4h-129.1zM468.1 1168.2h129.1v2.4h-129.1zM468.1 1212.2h129.1v2.4h-129.1zM468.1 1218.2h129.1v8.4h-129.1zM468.1 1244.2h129.1v2.4h-129.1zM468.1 1272.2h129.1v2.4h-129.1zM468.1 1284.2h129.1v4.4h-129.1zM468.1 1306.2h129.1v6.4h-129.1zM468.1 1318.2h129.1v8.4h-129.1zM468.1 1348.2h129.1v8.4h-129.1zM468.1 1368.2h129.1v6.4h-129.1zM468.1 1430.3h129.1v2.4h-129.1zM468.1 1440.3h129.1v4.4h-129.1zM468.1 1614.3h129.1v14.4h-129.1zM468.1 1704.3h129.1v4.4h-129.1zM468.1 1710.3h129.1v4.4h-129.1zM468.1 1754.3h129.1v6.4h-129.1zM468.1 1764.3h129.1v2.4h-129.1zM468.1 1770.3h129.1v2.4h-129.1zM468.1 1984.4h129.1v4.4h-129.1zM468.1 1996.4h129.1v2.4h-129.1zM468.1 2000.4h129.1v2.4h-129.1zM468.1 2504.4h129.1v2.4h-129.1zM468.1 2728.5h129.1v2.4h-129.1zM468.1 2798.5h129.1v2.4h-129.1zM596.8 1636.3h129.1v8.4h-129.1zM596.8 1776.3h129.1v8.4h-129.1zM596.8 1798.3h129.1v2.4h-129.1zM596.8 1802.3h129.1v12.4h-129.1zM596.8 1820.3h129.1v2.4h-129.1zM596.8 1832.3h129.1v2.4h-129.1zM596.8 1850.3h129.1v32.4h-129.1zM596.8 1890.3h129.1v4.4h-129.1zM596.8 1898.3h129.1v2.4h-129.1zM596.8 1946.3h129.1v4.4h-129.1zM596.8 1958.3h129.1v2.4h-129.1zM596.8 1986.4h129.1v6.4h-129.1zM596.8 2782.5h129.1v4.4h-129.1zM725.5 2000.4h129.1v2.4h-129.1zM725.5 2010.4h129.1v2.4h-129.1zM725.5 2016.4h129.1v2.4h-129.1zM725.5 2120.4h129.1v2.4h-129.1zM725.5 2406.4h129.1v4.4h-129.1zM725.5 2494.4h129.1v2.4h-129.1zM725.5 2502.4h129.1v2.4h-129.1zM725.5 2554.5h129.1v6.4h-129.1zM725.5 2586.5h129.1v2.4h-129.1zM725.5 2594.5h129.1v6.4h-129.1zM725.5 2648.5h129.1v2.4h-129.1zM725.5 2660.5h129.1v2.4h-129.1zM725.5 2774.5h129.1v2.4h-129.1zM725.5 2778.5h129.1v4.4h-129.1zM725.5 2790.5h129.1v6.4h-129.1zM725.5 2824.5h129.1v8.4h-129.1zM854.3 2034.4h129.1v6.4h-129.1zM854.3 2052.4h129.1v4.4h-129.1zM854.3 2148.4h129.1v6.4h-129.1zM854.3 2170.4h129.1v2.4h-129.1zM854.3 2360.4h129.1v2.4h-129.1zM854.3 2518.4h129.1v8.4h-129.1zM854.3 2534.4h129.1v6.4h-129.1zM854.3 2614.5h129.1v6.4h-129.1zM854.3 2760.5h129.1v4.4h-129.1z"/><path fill="#dad069" d="M81.9 1242.2h129.1v4.4h-129.1zM81.9 1438.3h129.1v6.4h-129.1zM81.9 1514.3h129.1v2.4h-129.1zM81.9 1518.3h129.1v6.4h-129.1zM81.9 1526.3h129.1v2.4h-129.1zM81.9 1752.3h129.1v6.4h-129.1zM81.9 2080.4h129.1v4.4h-129.1zM210.6 1206.2h129.1v6.4h-129.1zM210.6 1216.2h129.1v4.4h-129.1zM210.6 1234.2h129.1v10.4h-129.1zM210.6 1408.3h129.1v8.4h-129.1zM210.6 1442.3h129.1v2.4h-129.1zM210.6 1450.3h129.1v6.4h-129.1zM210.6 1566.3h129.1v6.4h-129.1zM210.6 1674.3h129.1v2.4h-129.1zM210.6 1688.3h129.1v2.4h-129.1zM210.6 1840.3h129.1v10.4h-129.1zM210.6 1902.3h129.1v10.4h-129.1zM210.6 2096.4h129.1v2.4h-129.1zM210.6 2630.5h129.1v2.4h-129.1zM210.6 2682.5h129.1v2.4h-129.1zM339.4 1116.2h129.1v4.4h-129.1zM339.4 1132.2h129.1v4.4h-129.1zM339.4 1260.2h129.1v8.4h-129.1zM339.4 1290.2h129.1v2.4h-129.1zM339.4 1328.2h129.1v8.4h-129.1zM339.4 1344.2h129.1v12.4h-129.1zM339.4 1358.2h129.1v8.4h-129.1zM339.4 1368.2h129.1v8.4h-129.1zM339.4 1388.2h129.1v4.4h-129.1zM339.4 1402.3h129.1v6.4h-129.1zM339.4 1456.3h129.1v14.4h-129.1zM339.4 1736.3h129.1v2.4h-129.1zM339.4 1744.3h129.1v4.4h-129.1zM339.4 1798.3h129.1v4.4h-129.1zM339.4 1846.3h129.1v6.4h-129.1zM339.4 1868.3h129.1v6.4h-129.1zM339.4 1882.3h129.1v2.4h-129.1zM339.4 1890.3h129.1v4.4h-129.1zM339.4 1902.3h129.1v6.4h-129.1zM339.4 1958.3h129.1v2.4h-129.1zM339.4 2748.5h129.1v2.4h-129.1zM339.4 2796.5h129.1v6.4h-129.1zM468.1 1164.2h129.1v4.4h-129.1zM468.1 1226.2h129.1v6.4h-129.1zM468.1 1238.2h129.1v4.4h-129.1zM468.1 1326.2h129.1v2.4h-129.1zM468.1 1356.2h129.1v10.4h-129.1zM468.1 1374.2h129.1v18.4h-129.1zM468.1 1422.3h129.1v4.4h-129.1zM468.1 1444.3h129.1v6.4h-129.1zM468.1 1470.3h129.1v2.4h-129.1zM468.1 1512.3h129.1v8.4h-129.1zM468.1 1522.3h129.1v4.4h-129.1zM468.1 1598.3h129.1v16.4h-129.1zM468.1 1700.3h129.1v4.4h-129.1zM468.1 1708.3h129.1v2.4h-129.1zM468.1 1744.3h129.1v6.4h-129.1zM468.1 1752.3h129.1v2.4h-129.1zM468.1 1760.3h129.1v4.4h-129.1zM468.1 1766.3h129.1v4.4h-129.1zM468.1 1772.3h129.1v6.4h-129.1zM468.1 2030.4h129.1v2.4h-129.1zM468.1 2120.4h129.1v10.4h-129.1zM468.1 2634.5h129.1v6.4h-129.1zM468.1 2668.5h129.1v2.4h-129.1zM468.1 2680.5h129.1v2.4h-129.1zM468.1 2726.5h129.1v2.4h-129.1zM468.1 2730.5h129.1v2.4h-129.1zM468.1 2734.5h129.1v2.4h-129.1zM596.8 1544.3h129.1v2.4h-129.1zM596.8 1550.3h129.1v2.4h-129.1zM596.8 1598.3h129.1v6.4h-129.1zM596.8 1630.3h129.1v2.4h-129.1zM596.8 1650.3h129.1v12.4h-129.1zM596.8 1718.3h129.1v14.4h-129.1zM596.8 1734.3h129.1v2.4h-129.1zM596.8 1756.3h129.1v2.4h-129.1zM596.8 1786.3h129.1v12.4h-129.1zM596.8 1800.3h129.1v2.4h-129.1zM596.8 1814.3h129.1v2.4h-129.1zM596.8 1826.3h129.1v6.4h-129.1zM596.8 1882.3h129.1v8.4h-129.1zM596.8 1894.3h129.1v4.4h-129.1zM596.8 1900.3h129.1v2.4h-129.1zM596.8 2130.4h129.1v2.4h-129.1zM596.8 2410.4h129.1v2.4h-129.1zM596.8 2786.5h129.1v2.4h-129.1zM725.5 2122.4h129.1v6.4h-129.1zM725.5 2346.4h129.1v2.4h-129.1zM725.5 2482.4h129.1v4.4h-129.1zM725.5 2650.5h129.1v2.4h-129.1zM725.5 2674.5h129.1v4.4h-129.1zM725.5 2742.5h129.1v6.4h-129.1zM854.3 2040.4h129.1v6.4h-129.1zM854.3 2056.4h129.1v6.4h-129.1zM854.3 2144.4h129.1v4.4h-129.1zM854.3 2154.4h129.1v2.4h-129.1zM854.3 2160.4h129.1v4.4h-129.1zM854.3 2166.4h129.1v2.4h-129.1zM854.3 2358.4h129.1v2.4h-129.1zM854.3 2416.4h129.1v2.4h-129.1zM854.3 2420.4h129.1v4.4h-129.1zM854.3 2540.4h129.1v2.4h-129.1zM854.3 2674.5h129.1v2.4h-129.1zM854.3 2686.5h129.1v2.4h-129.1zM854.3 2766.5h129.1v2.4h-129.1z"/><path fill="#deda78" d="M81.9 1232.2h129.1v10.4h-129.1zM81.9 1246.2h129.1v4.4h-129.1zM81.9 1444.3h129.1v10.4h-129.1zM81.9 1460.3h129.1v2.4h-129.1zM81.9 1470.3h129.1v2.4h-129.1zM81.9 1510.3h129.1v2.4h-129.1zM81.9 1516.3h129.1v2.4h-129.1zM81.9 1524.3h129.1v2.4h-129.1zM81.9 1682.3h129.1v16.4h-129.1zM81.9 1758.3h129.1v2.4h-129.1zM81.9 1838.3h129.1v6.4h-129.1zM210.6 1104.2h129.1v6.4h-129.1zM210.6 1126.2h129.1v12.4h-129.1zM210.6 1192.2h129.1v8.4h-129.1zM210.6 1228.2h129.1v4.4h-129.1zM210.6 1244.2h129.1v12.4h-129.1zM210.6 1288.2h129.1v4.4h-129.1zM210.6 1294.2h129.1v4.4h-129.1zM210.6 1302.2h129.1v2.4h-129.1zM210.6 1320.2h129.1v8.4h-129.1zM210.6 1444.3h129.1v4.4h-129.1zM210.6 1470.3h129.1v8.4h-129.1zM210.6 1484.3h129.1v6.4h-129.1zM210.6 1540.3h129.1v8.4h-129.1zM210.6 1550.3h129.1v4.4h-129.1zM210.6 1558.3h129.1v6.4h-129.1zM210.6 1586.3h129.1v12.4h-129.1zM210.6 1670.3h129.1v4.4h-129.1zM210.6 1676.3h129.1v4.4h-129.1zM210.6 1684.3h129.1v4.4h-129.1zM210.6 1792.3h129.1v6.4h-129.1zM210.6 1850.3h129.1v4.4h-129.1zM210.6 1944.3h129.1v2.4h-129.1zM210.6 2678.5h129.1v4.4h-129.1zM210.6 2684.5h129.1v4.4h-129.1zM210.6 2758.5h129.1v6.4h-129.1zM339.4 1160.2h129.1v4.4h-129.1zM339.4 1174.2h129.1v4.4h-129.1zM339.4 1202.2h129.1v2.4h-129.1zM339.4 1336.2h129.1v8.4h-129.1zM339.4 1356.2h129.1v2.4h-129.1zM339.4 1366.2h129.1v2.4h-129.1zM339.4 1636.3h129.1v24.4h-129.1zM339.4 1710.3h129.1v4.4h-129.1zM339.4 1732.3h129.1v4.4h-129.1zM339.4 1738.3h129.1v6.4h-129.1zM339.4 1778.3h129.1v4.4h-129.1zM339.4 1796.3h129.1v2.4h-129.1zM339.4 1840.3h129.1v6.4h-129.1zM339.4 1856.3h129.1v2.4h-129.1zM339.4 1864.3h129.1v4.4h-129.1zM339.4 1908.3h129.1v4.4h-129.1zM339.4 1932.3h129.1v20.4h-129.1zM339.4 1998.4h129.1v8.4h-129.1zM339.4 2444.4h129.1v2.4h-129.1zM339.4 2686.5h129.1v2.4h-129.1zM339.4 2754.5h129.1v4.4h-129.1zM339.4 2794.5h129.1v2.4h-129.1zM339.4 2804.5h129.1v4.4h-129.1zM468.1 1122.2h129.1v12.4h-129.1zM468.1 1170.2h129.1v12.4h-129.1zM468.1 1214.2h129.1v4.4h-129.1zM468.1 1232.2h129.1v6.4h-129.1zM468.1 1262.2h129.1v6.4h-129.1zM468.1 1330.2h129.1v14.4h-129.1zM468.1 1392.2h129.1v8.4h-129.1zM468.1 1408.3h129.1v2.4h-129.1zM468.1 1418.3h129.1v4.4h-129.1zM468.1 1450.3h129.1v18.4h-129.1zM468.1 1480.3h129.1v8.4h-129.1zM468.1 1526.3h129.1v6.4h-129.1zM468.1 1536.3h129.1v4.4h-129.1zM468.1 1554.3h129.1v12.4h-129.1zM468.1 1578.3h129.1v4.4h-129.1zM468.1 1584.3h129.1v6.4h-129.1zM468.1 1632.3h129.1v6.4h-129.1zM468.1 1642.3h129.1v6.4h-129.1zM468.1 1664.3h129.1v2.4h-129.1zM468.1 1670.3h129.1v12.4h-129.1zM468.1 1714.3h129.1v12.4h-129.1zM468.1 1732.3h129.1v4.4h-129.1zM468.1 1750.3h129.1v2.4h-129.1zM468.1 1778.3h129.1v6.4h-129.1zM468.1 1926.3h129.1v2.4h-129.1zM468.1 1944.3h129.1v8.4h-129.1zM468.1 2036.4h129.1v4.4h-129.1zM468.1 2042.4h129.1v2.4h-129.1zM468.1 2048.4h129.1v6.4h-129.1zM468.1 2066.4h129.1v6.4h-129.1zM468.1 2082.4h129.1v2.4h-129.1zM468.1 2662.5h129.1v6.4h-129.1zM468.1 2678.5h129.1v2.4h-129.1zM468.1 2696.5h129.1v4.4h-129.1zM468.1 2732.5h129.1v2.4h-129.1zM468.1 2760.5h129.1v6.4h-129.1zM596.8 1300.2h129.1v6.4h-129.1zM596.8 1314.2h129.1v6.4h-129.1zM596.8 1328.2h129.1v4.4h-129.1zM596.8 1540.3h129.1v4.4h-129.1zM596.8 1546.3h129.1v4.4h-129.1zM596.8 1588.3h129.1v10.4h-129.1zM596.8 1604.3h129.1v10.4h-129.1zM596.8 1618.3h129.1v4.4h-129.1zM596.8 1632.3h129.1v4.4h-129.1zM596.8 1706.3h129.1v6.4h-129.1zM596.8 1732.3h129.1v2.4h-129.1zM596.8 1736.3h129.1v10.4h-129.1zM596.8 1752.3h129.1v2.4h-129.1zM596.8 1816.3h129.1v4.4h-129.1zM596.8 1822.3h129.1v4.4h-129.1zM596.8 1848.3h129.1v2.4h-129.1zM596.8 2400.4h129.1v10.4h-129.1zM725.5 2486.4h129.1v8.4h-129.1zM725.5 2498.4h129.1v4.4h-129.1zM725.5 2626.5h129.1v2.4h-129.1zM725.5 2638.5h129.1v4.4h-129.1zM725.5 2662.5h129.1v2.4h-129.1zM725.5 2668.5h129.1v6.4h-129.1zM725.5 2722.5h129.1v2.4h-129.1zM725.5 2802.5h129.1v2.4h-129.1zM854.3 2068.4h129.1v4.4h-129.1zM854.3 2138.4h129.1v6.4h-129.1zM854.3 2190.4h129.1v4.4h-129.1zM854.3 2528.4h129.1v6.4h-129.1z"/><path fill="#e0de86" d="M81.9 1120.2h129.1v16.4h-129.1zM81.9 1206.2h129.1v6.4h-129.1zM81.9 1302.2h129.1v2.4h-129.1zM81.9 1420.3h129.1v6.4h-129.1zM81.9 1454.3h129.1v6.4h-129.1zM81.9 1462.3h129.1v8.4h-129.1zM81.9 1472.3h129.1v4.4h-129.1zM81.9 1512.3h129.1v2.4h-129.1zM81.9 1528.3h129.1v8.4h-129.1zM81.9 1662.3h129.1v20.4h-129.1zM81.9 1698.3h129.1v2.4h-129.1zM81.9 2460.4h129.1v4.4h-129.1zM210.6 1110.2h129.1v16.4h-129.1zM210.6 1144.2h129.1v10.4h-129.1zM210.6 1160.2h129.1v6.4h-129.1zM210.6 1174.2h129.1v8.4h-129.1zM210.6 1186.2h129.1v6.4h-129.1zM210.6 1200.2h129.1v6.4h-129.1zM210.6 1232.2h129.1v2.4h-129.1zM210.6 1292.2h129.1v2.4h-129.1zM210.6 1304.2h129.1v8.4h-129.1zM210.6 1328.2h129.1v6.4h-129.1zM210.6 1350.2h129.1v4.4h-129.1zM210.6 1360.2h129.1v10.4h-129.1zM210.6 1448.3h129.1v2.4h-129.1zM210.6 1456.3h129.1v14.4h-129.1zM210.6 1490.3h129.1v6.4h-129.1zM210.6 1512.3h129.1v8.4h-129.1zM210.6 1538.3h129.1v2.4h-129.1zM210.6 1548.3h129.1v2.4h-129.1zM210.6 1554.3h129.1v2.4h-129.1zM210.6 1572.3h129.1v14.4h-129.1zM210.6 1664.3h129.1v6.4h-129.1zM210.6 1680.3h129.1v4.4h-129.1zM210.6 1696.3h129.1v6.4h-129.1zM210.6 1946.3h129.1v14.4h-129.1zM210.6 1964.3h129.1v14.4h-129.1zM210.6 2098.4h129.1v2.4h-129.1zM210.6 2554.5h129.1v2.4h-129.1zM210.6 2604.5h129.1v6.4h-129.1zM210.6 2616.5h129.1v4.4h-129.1zM210.6 2650.5h129.1v8.4h-129.1zM210.6 2830.5h129.1v2.4h-129.1zM339.4 1124.2h129.1v8.4h-129.1zM339.4 1154.2h129.1v6.4h-129.1zM339.4 1170.2h129.1v4.4h-129.1zM339.4 1188.2h129.1v6.4h-129.1zM339.4 1198.2h129.1v4.4h-129.1zM339.4 1204.2h129.1v4.4h-129.1zM339.4 1212.2h129.1v2.4h-129.1zM339.4 1410.3h129.1v6.4h-129.1zM339.4 1422.3h129.1v4.4h-129.1zM339.4 1540.3h129.1v6.4h-129.1zM339.4 1560.3h129.1v4.4h-129.1zM339.4 1572.3h129.1v6.4h-129.1zM339.4 1586.3h129.1v2.4h-129.1zM339.4 1590.3h129.1v8.4h-129.1zM339.4 1614.3h129.1v12.4h-129.1zM339.4 1630.3h129.1v4.4h-129.1zM339.4 1668.3h129.1v6.4h-129.1zM339.4 1700.3h129.1v10.4h-129.1zM339.4 1714.3h129.1v8.4h-129.1zM339.4 1726.3h129.1v6.4h-129.1zM339.4 1766.3h129.1v12.4h-129.1zM339.4 1786.3h129.1v2.4h-129.1zM339.4 1852.3h129.1v4.4h-129.1zM339.4 1858.3h129.1v6.4h-129.1zM339.4 1874.3h129.1v8.4h-129.1zM339.4 1952.3h129.1v6.4h-129.1zM339.4 1968.3h129.1v8.4h-129.1zM339.4 2566.5h129.1v2.4h-129.1zM339.4 2684.5h129.1v2.4h-129.1zM339.4 2688.5h129.1v2.4h-129.1zM339.4 2694.5h129.1v2.4h-129.1zM468.1 1112.2h129.1v2.4h-129.1zM468.1 1182.2h129.1v6.4h-129.1zM468.1 1198.2h129.1v6.4h-129.1zM468.1 1258.2h129.1v4.4h-129.1zM468.1 1268.2h129.1v4.4h-129.1zM468.1 1400.3h129.1v8.4h-129.1zM468.1 1410.3h129.1v8.4h-129.1zM468.1 1468.3h129.1v2.4h-129.1zM468.1 1472.3h129.1v8.4h-129.1zM468.1 1488.3h129.1v8.4h-129.1zM468.1 1520.3h129.1v2.4h-129.1zM468.1 1532.3h129.1v4.4h-129.1zM468.1 1566.3h129.1v8.4h-129.1zM468.1 1590.3h129.1v8.4h-129.1zM468.1 1628.3h129.1v2.4h-129.1zM468.1 1638.3h129.1v4.4h-129.1zM468.1 1660.3h129.1v4.4h-129.1zM468.1 1682.3h129.1v6.4h-129.1zM468.1 1694.3h129.1v6.4h-129.1zM468.1 1728.3h129.1v4.4h-129.1zM468.1 1736.3h129.1v8.4h-129.1zM468.1 1886.3h129.1v2.4h-129.1zM468.1 1896.3h129.1v2.4h-129.1zM468.1 1920.3h129.1v6.4h-129.1zM468.1 1928.3h129.1v4.4h-129.1zM468.1 1952.3h129.1v8.4h-129.1zM468.1 1966.3h129.1v8.4h-129.1zM468.1 2032.4h129.1v4.4h-129.1zM468.1 2044.4h129.1v4.4h-129.1zM468.1 2072.4h129.1v2.4h-129.1zM468.1 2080.4h129.1v2.4h-129.1zM468.1 2144.4h129.1v4.4h-129.1zM468.1 2490.4h129.1v4.4h-129.1zM468.1 2500.4h129.1v4.4h-129.1zM468.1 2654.5h129.1v2.4h-129.1zM468.1 2676.5h129.1v2.4h-129.1zM468.1 2682.5h129.1v4.4h-129.1zM468.1 2688.5h129.1v8.4h-129.1zM468.1 2736.5h129.1v2.4h-129.1zM468.1 2826.5h129.1v2.4h-129.1zM596.8 1140.2h129.1v2.4h-129.1zM596.8 1180.2h129.1v2.4h-129.1zM596.8 1308.2h129.1v6.4h-129.1zM596.8 1332.2h129.1v12.4h-129.1zM596.8 1360.2h129.1v14.4h-129.1zM596.8 1382.2h129.1v2.4h-129.1zM596.8 1388.2h129.1v8.4h-129.1zM596.8 1400.3h129.1v6.4h-129.1zM596.8 1552.3h129.1v4.4h-129.1zM596.8 1566.3h129.1v22.4h-129.1zM596.8 1622.3h129.1v8.4h-129.1zM596.8 1644.3h129.1v6.4h-129.1zM596.8 1712.3h129.1v6.4h-129.1zM596.8 1750.3h129.1v2.4h-129.1zM596.8 1834.3h129.1v14.4h-129.1zM596.8 2356.4h129.1v2.4h-129.1zM596.8 2366.4h129.1v4.4h-129.1zM596.8 2790.5h129.1v8.4h-129.1zM725.5 2630.5h129.1v2.4h-129.1zM725.5 2634.5h129.1v4.4h-129.1zM725.5 2664.5h129.1v4.4h-129.1zM725.5 2720.5h129.1v2.4h-129.1zM725.5 2724.5h129.1v2.4h-129.1zM725.5 2732.5h129.1v10.4h-129.1zM725.5 2796.5h129.1v6.4h-129.1zM725.5 2832.5h129.1v4.4h-129.1zM854.3 2008.4h129.1v6.4h-129.1zM854.3 2072.4h129.1v12.4h-129.1zM854.3 2088.4h129.1v4.4h-129.1zM854.3 2094.4h129.1v4.4h-129.1zM854.3 2128.4h129.1v4.4h-129.1zM854.3 2164.4h129.1v2.4h-129.1zM854.3 2168.4h129.1v2.4h-129.1zM854.3 2194.4h129.1v6.4h-129.1zM854.3 2608.5h129.1v4.4h-129.1z"/><path fill="#e2e294" d="M81.9 1108.2h129.1v6.4h-129.1zM81.9 1136.2h129.1v2.4h-129.1zM81.9 1212.2h129.1v12.4h-129.1zM81.9 1256.2h129.1v8.4h-129.1zM81.9 1266.2h129.1v4.4h-129.1zM81.9 1272.2h129.1v10.4h-129.1zM81.9 1290.2h129.1v6.4h-129.1zM81.9 1304.2h129.1v6.4h-129.1zM81.9 1408.3h129.1v12.4h-129.1zM81.9 1434.3h129.1v4.4h-129.1zM81.9 1482.3h129.1v6.4h-129.1zM81.9 1504.3h129.1v2.4h-129.1zM81.9 1536.3h129.1v4.4h-129.1zM81.9 1546.3h129.1v4.4h-129.1zM81.9 1558.3h129.1v4.4h-129.1zM81.9 1576.3h129.1v4.4h-129.1zM81.9 1586.3h129.1v12.4h-129.1zM81.9 1942.3h129.1v2.4h-129.1zM81.9 1968.3h129.1v2.4h-129.1zM81.9 2002.4h129.1v8.4h-129.1zM81.9 2506.4h129.1v6.4h-129.1zM81.9 2580.5h129.1v4.4h-129.1zM81.9 2596.5h129.1v4.4h-129.1zM210.6 1138.2h129.1v6.4h-129.1zM210.6 1154.2h129.1v6.4h-129.1zM210.6 1166.2h129.1v8.4h-129.1zM210.6 1182.2h129.1v4.4h-129.1zM210.6 1256.2h129.1v14.4h-129.1zM210.6 1298.2h129.1v4.4h-129.1zM210.6 1334.2h129.1v16.4h-129.1zM210.6 1354.2h129.1v6.4h-129.1zM210.6 1436.3h129.1v6.4h-129.1zM210.6 1496.3h129.1v16.4h-129.1zM210.6 1520.3h129.1v18.4h-129.1zM210.6 1650.3h129.1v4.4h-129.1zM210.6 1690.3h129.1v6.4h-129.1zM210.6 1702.3h129.1v26.4h-129.1zM210.6 1740.3h129.1v2.4h-129.1zM210.6 1782.3h129.1v8.4h-129.1zM210.6 1864.3h129.1v18.4h-129.1zM210.6 1890.3h129.1v12.4h-129.1zM210.6 1912.3h129.1v20.4h-129.1zM210.6 1936.3h129.1v8.4h-129.1zM210.6 1960.3h129.1v4.4h-129.1zM210.6 2100.4h129.1v2.4h-129.1zM210.6 2136.4h129.1v2.4h-129.1zM210.6 2144.4h129.1v6.4h-129.1zM210.6 2292.4h129.1v2.4h-129.1zM210.6 2416.4h129.1v4.4h-129.1zM210.6 2600.5h129.1v4.4h-129.1zM210.6 2610.5h129.1v6.4h-129.1zM210.6 2756.5h129.1v2.4h-129.1zM210.6 2832.5h129.1v2.4h-129.1zM339.4 1164.2h129.1v6.4h-129.1zM339.4 1194.2h129.1v4.4h-129.1zM339.4 1208.2h129.1v4.4h-129.1zM339.4 1214.2h129.1v4.4h-129.1zM339.4 1306.2h129.1v14.4h-129.1zM339.4 1408.3h129.1v2.4h-129.1zM339.4 1416.3h129.1v6.4h-129.1zM339.4 1476.3h129.1v8.4h-129.1zM339.4 1490.3h129.1v2.4h-129.1zM339.4 1554.3h129.1v6.4h-129.1zM339.4 1564.3h129.1v8.4h-129.1zM339.4 1578.3h129.1v4.4h-129.1zM339.4 1588.3h129.1v2.4h-129.1zM339.4 1626.3h129.1v4.4h-129.1zM339.4 1634.3h129.1v2.4h-129.1zM339.4 1660.3h129.1v8.4h-129.1zM339.4 1696.3h129.1v2.4h-129.1zM339.4 1722.3h129.1v4.4h-129.1zM339.4 1788.3h129.1v8.4h-129.1zM339.4 1960.3h129.1v8.4h-129.1zM339.4 2304.4h129.1v4.4h-129.1zM339.4 2356.4h129.1v2.4h-129.1zM339.4 2416.4h129.1v4.4h-129.1zM339.4 2428.4h129.1v2.4h-129.1zM339.4 2442.4h129.1v2.4h-129.1zM339.4 2446.4h129.1v4.4h-129.1zM339.4 2550.5h129.1v2.4h-129.1zM339.4 2640.5h129.1v8.4h-129.1zM339.4 2652.5h129.1v6.4h-129.1zM339.4 2672.5h129.1v2.4h-129.1zM339.4 2696.5h129.1v4.4h-129.1zM468.1 1110.2h129.1v2.4h-129.1zM468.1 1114.2h129.1v8.4h-129.1zM468.1 1204.2h129.1v6.4h-129.1zM468.1 1546.3h129.1v4.4h-129.1zM468.1 1574.3h129.1v4.4h-129.1zM468.1 1582.3h129.1v2.4h-129.1zM468.1 1630.3h129.1v2.4h-129.1zM468.1 1648.3h129.1v6.4h-129.1zM468.1 1688.3h129.1v6.4h-129.1zM468.1 1726.3h129.1v2.4h-129.1zM468.1 1796.3h129.1v2.4h-129.1zM468.1 1822.3h129.1v4.4h-129.1zM468.1 1852.3h129.1v2.4h-129.1zM468.1 1856.3h129.1v2.4h-129.1zM468.1 1872.3h129.1v4.4h-129.1zM468.1 1880.3h129.1v6.4h-129.1zM468.1 1888.3h129.1v4.4h-129.1zM468.1 1898.3h129.1v6.4h-129.1zM468.1 1974.4h129.1v2.4h-129.1zM468.1 2074.4h129.1v6.4h-129.1zM468.1 2084.4h129.1v4.4h-129.1zM468.1 2150.4h129.1v4.4h-129.1zM468.1 2200.4h129.1v2.4h-129.1zM468.1 2288.4h129.1v2.4h-129.1zM468.1 2304.4h129.1v2.4h-129.1zM468.1 2528.4h129.1v2.4h-129.1zM468.1 2538.4h129.1v6.4h-129.1zM468.1 2644.5h129.1v6.4h-129.1zM468.1 2652.5h129.1v2.4h-129.1zM468.1 2656.5h129.1v4.4h-129.1zM468.1 2686.5h129.1v2.4h-129.1zM468.1 2702.5h129.1v2.4h-129.1zM468.1 2766.5h129.1v2.4h-129.1zM468.1 2780.5h129.1v2.4h-129.1zM468.1 2820.5h129.1v6.4h-129.1zM596.8 1104.2h129.1v4.4h-129.1zM596.8 1110.2h129.1v4.4h-129.1zM596.8 1120.2h129.1v14.4h-129.1zM596.8 1142.2h129.1v26.4h-129.1zM596.8 1170.2h129.1v10.4h-129.1zM596.8 1182.2h129.1v6.4h-129.1zM596.8 1198.2h129.1v6.4h-129.1zM596.8 1212.2h129.1v4.4h-129.1zM596.8 1276.2h129.1v4.4h-129.1zM596.8 1290.2h129.1v10.4h-129.1zM596.8 1306.2h129.1v2.4h-129.1zM596.8 1320.2h129.1v8.4h-129.1zM596.8 1374.2h129.1v8.4h-129.1zM596.8 1384.2h129.1v4.4h-129.1zM596.8 1396.3h129.1v4.4h-129.1zM596.8 1406.3h129.1v2.4h-129.1zM596.8 1438.3h129.1v2.4h-129.1zM596.8 1456.3h129.1v4.4h-129.1zM596.8 1502.3h129.1v14.4h-129.1zM596.8 1522.3h129.1v6.4h-129.1zM596.8 1536.3h129.1v2.4h-129.1zM596.8 1556.3h129.1v10.4h-129.1zM596.8 1614.3h129.1v4.4h-129.1zM596.8 1684.3h129.1v6.4h-129.1zM596.8 1754.3h129.1v2.4h-129.1zM596.8 1760.3h129.1v4.4h-129.1zM596.8 1768.3h129.1v2.4h-129.1zM596.8 1910.3h129.1v4.4h-129.1zM596.8 1916.3h129.1v14.4h-129.1zM596.8 1978.4h129.1v8.4h-129.1zM596.8 2134.4h129.1v6.4h-129.1zM596.8 2346.4h129.1v2.4h-129.1zM596.8 2364.4h129.1v2.4h-129.1zM596.8 2370.4h129.1v4.4h-129.1zM596.8 2538.4h129.1v4.4h-129.1zM725.5 2542.4h129.1v6.4h-129.1zM725.5 2564.5h129.1v4.4h-129.1zM725.5 2578.5h129.1v2.4h-129.1zM725.5 2628.5h129.1v2.4h-129.1zM725.5 2632.5h129.1v2.4h-129.1zM725.5 2642.5h129.1v4.4h-129.1zM725.5 2716.5h129.1v4.4h-129.1zM854.3 2020.4h129.1v6.4h-129.1zM854.3 2062.4h129.1v6.4h-129.1zM854.3 2084.4h129.1v4.4h-129.1zM854.3 2126.4h129.1v2.4h-129.1zM854.3 2132.4h129.1v2.4h-129.1zM854.3 2136.4h129.1v2.4h-129.1zM854.3 2600.5h129.1v4.4h-129.1z"/><path fill="#e1e5a4" d="M81.9 1114.2h129.1v6.4h-129.1zM81.9 1190.2h129.1v6.4h-129.1zM81.9 1202.2h129.1v4.4h-129.1zM81.9 1270.2h129.1v2.4h-129.1zM81.9 1282.2h129.1v8.4h-129.1zM81.9 1310.2h129.1v18.4h-129.1zM81.9 1426.3h129.1v8.4h-129.1zM81.9 1476.3h129.1v6.4h-129.1zM81.9 1492.3h129.1v12.4h-129.1zM81.9 1506.3h129.1v4.4h-129.1zM81.9 1540.3h129.1v6.4h-129.1zM81.9 1550.3h129.1v8.4h-129.1zM81.9 1574.3h129.1v2.4h-129.1zM81.9 1580.3h129.1v6.4h-129.1zM81.9 1628.3h129.1v2.4h-129.1zM81.9 1632.3h129.1v10.4h-129.1zM81.9 1644.3h129.1v6.4h-129.1zM81.9 1726.3h129.1v18.4h-129.1zM81.9 1786.3h129.1v2.4h-129.1zM81.9 1790.3h129.1v10.4h-129.1zM81.9 1844.3h129.1v10.4h-129.1zM81.9 1902.3h129.1v2.4h-129.1zM81.9 1970.3h129.1v8.4h-129.1zM81.9 2042.4h129.1v2.4h-129.1zM81.9 2568.5h129.1v4.4h-129.1zM81.9 2664.5h129.1v4.4h-129.1zM210.6 1270.2h129.1v2.4h-129.1zM210.6 1274.2h129.1v2.4h-129.1zM210.6 1278.2h129.1v10.4h-129.1zM210.6 1370.2h129.1v4.4h-129.1zM210.6 1382.2h129.1v14.4h-129.1zM210.6 1404.3h129.1v4.4h-129.1zM210.6 1416.3h129.1v14.4h-129.1zM210.6 1598.3h129.1v2.4h-129.1zM210.6 1610.3h129.1v8.4h-129.1zM210.6 1622.3h129.1v2.4h-129.1zM210.6 1628.3h129.1v22.4h-129.1zM210.6 1728.3h129.1v8.4h-129.1zM210.6 1742.3h129.1v8.4h-129.1zM210.6 1790.3h129.1v2.4h-129.1zM210.6 1800.3h129.1v4.4h-129.1zM210.6 1806.3h129.1v2.4h-129.1zM210.6 1822.3h129.1v8.4h-129.1zM210.6 1834.3h129.1v6.4h-129.1zM210.6 1854.3h129.1v10.4h-129.1zM210.6 1882.3h129.1v8.4h-129.1zM210.6 2094.4h129.1v2.4h-129.1zM210.6 2294.4h129.1v6.4h-129.1zM210.6 2340.4h129.1v6.4h-129.1zM210.6 2556.5h129.1v4.4h-129.1zM210.6 2584.5h129.1v2.4h-129.1zM210.6 2590.5h129.1v4.4h-129.1zM210.6 2644.5h129.1v6.4h-129.1zM210.6 2676.5h129.1v2.4h-129.1zM210.6 2688.5h129.1v6.4h-129.1zM210.6 2716.5h129.1v2.4h-129.1zM210.6 2720.5h129.1v2.4h-129.1zM210.6 2810.5h129.1v6.4h-129.1zM210.6 2822.5h129.1v2.4h-129.1zM339.4 1218.2h129.1v10.4h-129.1zM339.4 1230.2h129.1v4.4h-129.1zM339.4 1240.2h129.1v8.4h-129.1zM339.4 1320.2h129.1v8.4h-129.1zM339.4 1432.3h129.1v10.4h-129.1zM339.4 1472.3h129.1v4.4h-129.1zM339.4 1484.3h129.1v6.4h-129.1zM339.4 1492.3h129.1v2.4h-129.1zM339.4 1496.3h129.1v8.4h-129.1zM339.4 1582.3h129.1v4.4h-129.1zM339.4 1674.3h129.1v22.4h-129.1zM339.4 1698.3h129.1v2.4h-129.1zM339.4 1782.3h129.1v4.4h-129.1zM339.4 2302.4h129.1v2.4h-129.1zM339.4 2308.4h129.1v8.4h-129.1zM339.4 2348.4h129.1v8.4h-129.1zM339.4 2358.4h129.1v6.4h-129.1zM339.4 2412.4h129.1v4.4h-129.1zM339.4 2432.4h129.1v10.4h-129.1zM339.4 2456.4h129.1v2.4h-129.1zM339.4 2556.5h129.1v4.4h-129.1zM339.4 2574.5h129.1v2.4h-129.1zM339.4 2636.5h129.1v4.4h-129.1zM339.4 2648.5h129.1v4.4h-129.1zM339.4 2658.5h129.1v2.4h-129.1zM339.4 2664.5h129.1v2.4h-129.1zM339.4 2668.5h129.1v4.4h-129.1zM339.4 2690.5h129.1v4.4h-129.1zM339.4 2700.5h129.1v6.4h-129.1zM339.4 2766.5h129.1v6.4h-129.1zM339.4 2778.5h129.1v2.4h-129.1zM468.1 1210.2h129.1v2.4h-129.1zM468.1 1300.2h129.1v6.4h-129.1zM468.1 1540.3h129.1v6.4h-129.1zM468.1 1784.3h129.1v12.4h-129.1zM468.1 1814.3h129.1v8.4h-129.1zM468.1 1832.3h129.1v20.4h-129.1zM468.1 1854.3h129.1v2.4h-129.1zM468.1 1864.3h129.1v8.4h-129.1zM468.1 1876.3h129.1v4.4h-129.1zM468.1 1892.3h129.1v4.4h-129.1zM468.1 1910.3h129.1v10.4h-129.1zM468.1 2040.4h129.1v2.4h-129.1zM468.1 2062.4h129.1v4.4h-129.1zM468.1 2132.4h129.1v2.4h-129.1zM468.1 2282.4h129.1v6.4h-129.1zM468.1 2294.4h129.1v2.4h-129.1zM468.1 2302.4h129.1v2.4h-129.1zM468.1 2344.4h129.1v2.4h-129.1zM468.1 2420.4h129.1v8.4h-129.1zM468.1 2530.4h129.1v4.4h-129.1zM468.1 2650.5h129.1v2.4h-129.1zM468.1 2660.5h129.1v2.4h-129.1zM468.1 2700.5h129.1v2.4h-129.1zM468.1 2704.5h129.1v4.4h-129.1zM468.1 2784.5h129.1v4.4h-129.1zM468.1 2790.5h129.1v4.4h-129.1zM596.8 1108.2h129.1v2.4h-129.1zM596.8 1114.2h129.1v6.4h-129.1zM596.8 1134.2h129.1v2.4h-129.1zM596.8 1168.2h129.1v2.4h-129.1zM596.8 1194.2h129.1v4.4h-129.1zM596.8 1204.2h129.1v8.4h-129.1zM596.8 1218.2h129.1v4.4h-129.1zM596.8 1344.2h129.1v2.4h-129.1zM596.8 1420.3h129.1v8.4h-129.1zM596.8 1432.3h129.1v6.4h-129.1zM596.8 1474.3h129.1v8.4h-129.1zM596.8 1488.3h129.1v2.4h-129.1zM596.8 1516.3h129.1v4.4h-129.1zM596.8 1528.3h129.1v8.4h-129.1zM596.8 1538.3h129.1v2.4h-129.1zM596.8 1690.3h129.1v16.4h-129.1zM596.8 1746.3h129.1v4.4h-129.1zM596.8 1758.3h129.1v2.4h-129.1zM596.8 1764.3h129.1v4.4h-129.1zM596.8 1770.3h129.1v4.4h-129.1zM596.8 1902.3h129.1v8.4h-129.1zM596.8 1914.3h129.1v2.4h-129.1zM596.8 1930.3h129.1v2.4h-129.1zM596.8 2348.4h129.1v6.4h-129.1zM596.8 2358.4h129.1v4.4h-129.1zM596.8 2376.4h129.1v2.4h-129.1zM596.8 2380.4h129.1v4.4h-129.1zM596.8 2518.4h129.1v6.4h-129.1zM596.8 2788.5h129.1v2.4h-129.1zM725.5 2128.4h129.1v8.4h-129.1zM725.5 2348.4h129.1v4.4h-129.1zM725.5 2402.4h129.1v4.4h-129.1zM725.5 2472.4h129.1v6.4h-129.1zM725.5 2548.5h129.1v2.4h-129.1zM725.5 2560.5h129.1v4.4h-129.1zM725.5 2618.5h129.1v2.4h-129.1zM725.5 2646.5h129.1v2.4h-129.1zM725.5 2714.5h129.1v2.4h-129.1zM725.5 2816.5h129.1v4.4h-129.1zM854.3 2092.4h129.1v2.4h-129.1zM854.3 2134.4h129.1v2.4h-129.1zM854.3 2284.4h129.1v6.4h-129.1zM854.3 2604.5h129.1v4.4h-129.1z"/><path fill="#e0e8b4" d="M81.9 1198.2h129.1v4.4h-129.1zM81.9 1264.2h129.1v2.4h-129.1zM81.9 1488.3h129.1v4.4h-129.1zM81.9 1562.3h129.1v8.4h-129.1zM81.9 1598.3h129.1v30.4h-129.1zM81.9 1630.3h129.1v2.4h-129.1zM81.9 1650.3h129.1v8.4h-129.1zM81.9 1712.3h129.1v14.4h-129.1zM81.9 1766.3h129.1v8.4h-129.1zM81.9 1788.3h129.1v2.4h-129.1zM81.9 1800.3h129.1v8.4h-129.1zM81.9 1904.3h129.1v8.4h-129.1zM81.9 1932.3h129.1v10.4h-129.1zM81.9 1966.3h129.1v2.4h-129.1zM81.9 1978.4h129.1v4.4h-129.1zM81.9 2044.4h129.1v4.4h-129.1zM81.9 2088.4h129.1v8.4h-129.1zM81.9 2414.4h129.1v6.4h-129.1zM81.9 2512.4h129.1v2.4h-129.1zM81.9 2562.5h129.1v2.4h-129.1zM81.9 2658.5h129.1v4.4h-129.1zM210.6 1374.2h129.1v8.4h-129.1zM210.6 1396.3h129.1v8.4h-129.1zM210.6 1430.3h129.1v6.4h-129.1zM210.6 1600.3h129.1v10.4h-129.1zM210.6 1618.3h129.1v4.4h-129.1zM210.6 1624.3h129.1v4.4h-129.1zM210.6 1654.3h129.1v4.4h-129.1zM210.6 1736.3h129.1v4.4h-129.1zM210.6 1750.3h129.1v2.4h-129.1zM210.6 1774.3h129.1v4.4h-129.1zM210.6 1798.3h129.1v2.4h-129.1zM210.6 1804.3h129.1v2.4h-129.1zM210.6 1808.3h129.1v14.4h-129.1zM210.6 1830.3h129.1v4.4h-129.1zM210.6 2062.4h129.1v4.4h-129.1zM210.6 2120.4h129.1v2.4h-129.1zM210.6 2132.4h129.1v4.4h-129.1zM210.6 2252.4h129.1v4.4h-129.1zM210.6 2346.4h129.1v6.4h-129.1zM210.6 2472.4h129.1v8.4h-129.1zM210.6 2486.4h129.1v2.4h-129.1zM210.6 2576.5h129.1v6.4h-129.1zM210.6 2586.5h129.1v4.4h-129.1zM210.6 2620.5h129.1v4.4h-129.1zM210.6 2636.5h129.1v2.4h-129.1zM210.6 2694.5h129.1v6.4h-129.1zM210.6 2718.5h129.1v2.4h-129.1zM210.6 2722.5h129.1v2.4h-129.1zM210.6 2766.5h129.1v8.4h-129.1zM210.6 2780.5h129.1v4.4h-129.1zM210.6 2816.5h129.1v6.4h-129.1zM210.6 2824.5h129.1v6.4h-129.1zM339.4 1228.2h129.1v2.4h-129.1zM339.4 1234.2h129.1v6.4h-129.1zM339.4 1248.2h129.1v8.4h-129.1zM339.4 1426.3h129.1v6.4h-129.1zM339.4 1442.3h129.1v14.4h-129.1zM339.4 1494.3h129.1v2.4h-129.1zM339.4 1512.3h129.1v2.4h-129.1zM339.4 1518.3h129.1v12.4h-129.1zM339.4 1538.3h129.1v2.4h-129.1zM339.4 1600.3h129.1v6.4h-129.1zM339.4 1756.3h129.1v4.4h-129.1zM339.4 2190.4h129.1v2.4h-129.1zM339.4 2420.4h129.1v8.4h-129.1zM339.4 2430.4h129.1v2.4h-129.1zM339.4 2560.5h129.1v6.4h-129.1zM339.4 2568.5h129.1v6.4h-129.1zM339.4 2606.5h129.1v6.4h-129.1zM339.4 2674.5h129.1v4.4h-129.1zM339.4 2772.5h129.1v6.4h-129.1zM468.1 1550.3h129.1v4.4h-129.1zM468.1 1798.3h129.1v2.4h-129.1zM468.1 1808.3h129.1v6.4h-129.1zM468.1 1858.3h129.1v6.4h-129.1zM468.1 1904.3h129.1v6.4h-129.1zM468.1 1932.3h129.1v2.4h-129.1zM468.1 2054.4h129.1v2.4h-129.1zM468.1 2138.4h129.1v2.4h-129.1zM468.1 2148.4h129.1v2.4h-129.1zM468.1 2154.4h129.1v2.4h-129.1zM468.1 2158.4h129.1v2.4h-129.1zM468.1 2174.4h129.1v2.4h-129.1zM468.1 2338.4h129.1v6.4h-129.1zM468.1 2406.4h129.1v6.4h-129.1zM468.1 2428.4h129.1v4.4h-129.1zM468.1 2438.4h129.1v2.4h-129.1zM468.1 2444.4h129.1v2.4h-129.1zM468.1 2536.4h129.1v2.4h-129.1zM468.1 2770.5h129.1v6.4h-129.1zM468.1 2782.5h129.1v2.4h-129.1zM468.1 2788.5h129.1v2.4h-129.1zM596.8 1216.2h129.1v2.4h-129.1zM596.8 1280.2h129.1v2.4h-129.1zM596.8 1346.2h129.1v14.4h-129.1zM596.8 1416.3h129.1v4.4h-129.1zM596.8 1428.3h129.1v4.4h-129.1zM596.8 1440.3h129.1v16.4h-129.1zM596.8 1470.3h129.1v4.4h-129.1zM596.8 1482.3h129.1v6.4h-129.1zM596.8 1490.3h129.1v12.4h-129.1zM596.8 1520.3h129.1v2.4h-129.1zM596.8 1666.3h129.1v12.4h-129.1zM596.8 1682.3h129.1v2.4h-129.1zM596.8 2186.4h129.1v2.4h-129.1zM596.8 2354.4h129.1v2.4h-129.1zM596.8 2362.4h129.1v2.4h-129.1zM596.8 2374.4h129.1v2.4h-129.1zM596.8 2390.4h129.1v2.4h-129.1zM596.8 2478.4h129.1v4.4h-129.1zM596.8 2504.4h129.1v2.4h-129.1zM596.8 2526.4h129.1v2.4h-129.1zM596.8 2542.4h129.1v4.4h-129.1zM596.8 2566.5h129.1v4.4h-129.1zM596.8 2800.5h129.1v6.4h-129.1zM596.8 2810.5h129.1v4.4h-129.1zM596.8 2828.5h129.1v8.4h-129.1zM725.5 2568.5h129.1v4.4h-129.1zM725.5 2576.5h129.1v2.4h-129.1zM725.5 2754.5h129.1v14.4h-129.1zM725.5 2820.5h129.1v2.4h-129.1zM854.3 2014.4h129.1v6.4h-129.1zM854.3 2612.5h129.1v2.4h-129.1zM854.3 2662.5h129.1v4.4h-129.1zM854.3 2732.5h129.1v2.4h-129.1zM854.3 2772.5h129.1v2.4h-129.1zM854.3 2778.5h129.1v2.4h-129.1z"/><path fill="#d8e9c0" d="M81.9 1148.2h129.1v8.4h-129.1zM81.9 1162.2h129.1v2.4h-129.1zM81.9 1196.2h129.1v2.4h-129.1zM81.9 1344.2h129.1v16.4h-129.1zM81.9 1570.3h129.1v4.4h-129.1zM81.9 1642.3h129.1v2.4h-129.1zM81.9 1864.3h129.1v24.4h-129.1zM81.9 1894.3h129.1v8.4h-129.1zM81.9 2564.5h129.1v4.4h-129.1zM210.6 1276.2h129.1v2.4h-129.1zM210.6 1762.3h129.1v6.4h-129.1zM210.6 1770.3h129.1v4.4h-129.1zM210.6 1978.4h129.1v8.4h-129.1zM210.6 2352.4h129.1v2.4h-129.1zM210.6 2458.4h129.1v4.4h-129.1zM210.6 2488.4h129.1v4.4h-129.1zM210.6 2632.5h129.1v2.4h-129.1zM210.6 2672.5h129.1v2.4h-129.1zM210.6 2752.5h129.1v4.4h-129.1zM210.6 2764.5h129.1v2.4h-129.1zM339.4 1256.2h129.1v2.4h-129.1zM339.4 1510.3h129.1v2.4h-129.1zM339.4 1514.3h129.1v4.4h-129.1zM339.4 1530.3h129.1v8.4h-129.1zM339.4 1598.3h129.1v2.4h-129.1zM339.4 1606.3h129.1v8.4h-129.1zM339.4 1748.3h129.1v8.4h-129.1zM339.4 1992.4h129.1v2.4h-129.1zM339.4 2010.4h129.1v2.4h-129.1zM339.4 2030.4h129.1v2.4h-129.1zM339.4 2192.4h129.1v6.4h-129.1zM339.4 2316.4h129.1v2.4h-129.1zM339.4 2552.5h129.1v4.4h-129.1zM339.4 2612.5h129.1v2.4h-129.1zM339.4 2666.5h129.1v2.4h-129.1zM339.4 2678.5h129.1v4.4h-129.1zM339.4 2760.5h129.1v4.4h-129.1zM339.4 2828.5h129.1v4.4h-129.1zM468.1 1800.3h129.1v4.4h-129.1zM468.1 1806.3h129.1v2.4h-129.1zM468.1 1934.3h129.1v10.4h-129.1zM468.1 2056.4h129.1v4.4h-129.1zM468.1 2134.4h129.1v4.4h-129.1zM468.1 2140.4h129.1v4.4h-129.1zM468.1 2156.4h129.1v2.4h-129.1zM468.1 2162.4h129.1v2.4h-129.1zM468.1 2194.4h129.1v6.4h-129.1zM468.1 2272.4h129.1v4.4h-129.1zM468.1 2290.4h129.1v4.4h-129.1zM468.1 2320.4h129.1v2.4h-129.1zM468.1 2442.4h129.1v2.4h-129.1zM468.1 2446.4h129.1v2.4h-129.1zM468.1 2464.4h129.1v2.4h-129.1zM468.1 2522.4h129.1v2.4h-129.1zM468.1 2534.4h129.1v2.4h-129.1zM468.1 2708.5h129.1v6.4h-129.1zM468.1 2768.5h129.1v2.4h-129.1zM596.8 1272.2h129.1v4.4h-129.1zM596.8 1662.3h129.1v4.4h-129.1zM596.8 1678.3h129.1v4.4h-129.1zM596.8 2190.4h129.1v2.4h-129.1zM596.8 2206.4h129.1v6.4h-129.1zM596.8 2378.4h129.1v2.4h-129.1zM596.8 2384.4h129.1v6.4h-129.1zM596.8 2512.4h129.1v6.4h-129.1zM596.8 2754.5h129.1v6.4h-129.1zM596.8 2818.5h129.1v4.4h-129.1zM725.5 2400.4h129.1v2.4h-129.1zM725.5 2478.4h129.1v4.4h-129.1zM725.5 2610.5h129.1v2.4h-129.1zM725.5 2768.5h129.1v4.4h-129.1zM725.5 2804.5h129.1v4.4h-129.1zM725.5 2822.5h129.1v2.4h-129.1zM854.3 2000.4h129.1v4.4h-129.1zM854.3 2098.4h129.1v8.4h-129.1zM854.3 2108.4h129.1v4.4h-129.1zM854.3 2200.4h129.1v2.4h-129.1zM854.3 2660.5h129.1v2.4h-129.1zM854.3 2706.5h129.1v6.4h-129.1zM854.3 2744.5h129.1v2.4h-129.1zM854.3 2774.5h129.1v4.4h-129.1zM854.3 2796.5h129.1v4.4h-129.1z"/><path fill="#d0eacc" d="M81.9 1138.2h129.1v10.4h-129.1zM81.9 1156.2h129.1v6.4h-129.1zM81.9 1336.2h129.1v2.4h-129.1zM81.9 1380.2h129.1v6.4h-129.1zM81.9 1392.2h129.1v2.4h-129.1zM81.9 1700.3h129.1v2.4h-129.1zM81.9 1710.3h129.1v2.4h-129.1zM81.9 1854.3h129.1v10.4h-129.1zM81.9 1926.3h129.1v6.4h-129.1zM81.9 1960.3h129.1v6.4h-129.1zM81.9 2578.5h129.1v2.4h-129.1zM81.9 2662.5h129.1v2.4h-129.1zM81.9 2674.5h129.1v6.4h-129.1zM210.6 1662.3h129.1v2.4h-129.1zM210.6 1752.3h129.1v10.4h-129.1zM210.6 2024.4h129.1v2.4h-129.1zM210.6 2122.4h129.1v4.4h-129.1zM210.6 2444.4h129.1v6.4h-129.1zM210.6 2492.4h129.1v2.4h-129.1zM210.6 2594.5h129.1v2.4h-129.1zM210.6 2638.5h129.1v2.4h-129.1zM210.6 2662.5h129.1v4.4h-129.1zM210.6 2834.5h129.1v2.4h-129.1zM339.4 1984.4h129.1v6.4h-129.1zM339.4 2028.4h129.1v2.4h-129.1zM339.4 2164.4h129.1v8.4h-129.1zM339.4 2184.4h129.1v2.4h-129.1zM339.4 2450.4h129.1v6.4h-129.1zM339.4 2660.5h129.1v4.4h-129.1zM339.4 2832.5h129.1v2.4h-129.1zM468.1 1104.2h129.1v6.4h-129.1zM468.1 1134.2h129.1v6.4h-129.1zM468.1 1654.3h129.1v6.4h-129.1zM468.1 1804.3h129.1v2.4h-129.1zM468.1 2258.4h129.1v2.4h-129.1zM468.1 2266.4h129.1v4.4h-129.1zM468.1 2296.4h129.1v6.4h-129.1zM468.1 2314.4h129.1v6.4h-129.1zM468.1 2440.4h129.1v2.4h-129.1zM468.1 2478.4h129.1v6.4h-129.1zM468.1 2510.4h129.1v4.4h-129.1zM468.1 2520.4h129.1v2.4h-129.1zM468.1 2778.5h129.1v2.4h-129.1zM596.8 1234.2h129.1v2.4h-129.1zM596.8 1244.2h129.1v10.4h-129.1zM596.8 1282.2h129.1v8.4h-129.1zM596.8 1408.3h129.1v4.4h-129.1zM596.8 1462.3h129.1v2.4h-129.1zM596.8 2192.4h129.1v2.4h-129.1zM596.8 2508.4h129.1v4.4h-129.1zM596.8 2524.4h129.1v2.4h-129.1zM596.8 2760.5h129.1v2.4h-129.1zM596.8 2798.5h129.1v2.4h-129.1zM596.8 2808.5h129.1v2.4h-129.1zM596.8 2814.5h129.1v4.4h-129.1zM725.5 2572.5h129.1v4.4h-129.1zM725.5 2616.5h129.1v2.4h-129.1zM725.5 2812.5h129.1v4.4h-129.1zM854.3 1978.4h129.1v2.4h-129.1zM854.3 1982.4h129.1v2.4h-129.1zM854.3 1996.4h129.1v2.4h-129.1zM854.3 2004.4h129.1v4.4h-129.1zM854.3 2112.4h129.1v6.4h-129.1zM854.3 2690.5h129.1v6.4h-129.1zM854.3 2698.5h129.1v2.4h-129.1zM854.3 2734.5h129.1v8.4h-129.1zM854.3 2768.5h129.1v4.4h-129.1zM854.3 2792.5h129.1v4.4h-129.1zM854.3 2800.5h129.1v6.4h-129.1z"/><path fill="#c1e9d0" d="M81.9 1174.2h129.1v16.4h-129.1zM81.9 1328.2h129.1v6.4h-129.1zM81.9 1360.2h129.1v10.4h-129.1zM81.9 1386.2h129.1v2.4h-129.1zM81.9 1778.3h129.1v2.4h-129.1zM81.9 1918.3h129.1v8.4h-129.1zM81.9 2070.4h129.1v2.4h-129.1zM81.9 2684.5h129.1v2.4h-129.1zM210.6 1768.3h129.1v2.4h-129.1zM210.6 2010.4h129.1v6.4h-129.1zM210.6 2018.4h129.1v6.4h-129.1zM210.6 2130.4h129.1v2.4h-129.1zM210.6 2150.4h129.1v2.4h-129.1zM210.6 2442.4h129.1v2.4h-129.1zM210.6 2480.4h129.1v6.4h-129.1zM210.6 2550.5h129.1v4.4h-129.1zM210.6 2570.5h129.1v6.4h-129.1zM210.6 2634.5h129.1v2.4h-129.1zM210.6 2640.5h129.1v4.4h-129.1zM210.6 2750.5h129.1v2.4h-129.1zM339.4 1760.3h129.1v6.4h-129.1zM339.4 1990.4h129.1v2.4h-129.1zM339.4 1994.4h129.1v4.4h-129.1zM339.4 2006.4h129.1v4.4h-129.1zM339.4 2016.4h129.1v10.4h-129.1zM339.4 2526.4h129.1v6.4h-129.1zM339.4 2758.5h129.1v2.4h-129.1zM339.4 2834.5h129.1v2.4h-129.1zM468.1 1830.3h129.1v2.4h-129.1zM468.1 2060.4h129.1v2.4h-129.1zM468.1 2164.4h129.1v4.4h-129.1zM468.1 2170.4h129.1v4.4h-129.1zM468.1 2176.4h129.1v4.4h-129.1zM468.1 2260.4h129.1v6.4h-129.1zM468.1 2280.4h129.1v2.4h-129.1zM468.1 2414.4h129.1v2.4h-129.1zM468.1 2466.4h129.1v2.4h-129.1zM468.1 2476.4h129.1v2.4h-129.1zM468.1 2524.4h129.1v4.4h-129.1zM468.1 2670.5h129.1v6.4h-129.1zM596.8 1238.2h129.1v6.4h-129.1zM596.8 1254.2h129.1v2.4h-129.1zM596.8 1260.2h129.1v6.4h-129.1zM596.8 1412.3h129.1v4.4h-129.1zM596.8 1464.3h129.1v4.4h-129.1zM596.8 2188.4h129.1v2.4h-129.1zM596.8 2226.4h129.1v4.4h-129.1zM596.8 2528.4h129.1v2.4h-129.1zM596.8 2806.5h129.1v2.4h-129.1zM596.8 2822.5h129.1v2.4h-129.1zM725.5 2808.5h129.1v4.4h-129.1zM854.3 1984.4h129.1v2.4h-129.1zM854.3 1994.4h129.1v2.4h-129.1zM854.3 2106.4h129.1v2.4h-129.1zM854.3 2702.5h129.1v4.4h-129.1zM854.3 2712.5h129.1v2.4h-129.1zM854.3 2720.5h129.1v2.4h-129.1zM854.3 2742.5h129.1v2.4h-129.1zM854.3 2786.5h129.1v6.4h-129.1z"/><path fill="#b2e8d4" d="M81.9 1164.2h129.1v10.4h-129.1zM81.9 1334.2h129.1v2.4h-129.1zM81.9 1338.2h129.1v6.4h-129.1zM81.9 1402.3h129.1v6.4h-129.1zM81.9 1706.3h129.1v4.4h-129.1zM81.9 1780.3h129.1v2.4h-129.1zM81.9 1912.3h129.1v6.4h-129.1zM81.9 1950.3h129.1v10.4h-129.1zM81.9 2048.4h129.1v2.4h-129.1zM81.9 2334.4h129.1v2.4h-129.1zM81.9 2494.4h129.1v2.4h-129.1zM81.9 2554.5h129.1v6.4h-129.1zM81.9 2572.5h129.1v6.4h-129.1zM81.9 2680.5h129.1v4.4h-129.1zM81.9 2686.5h129.1v2.4h-129.1zM81.9 2690.5h129.1v2.4h-129.1zM210.6 1658.3h129.1v4.4h-129.1zM210.6 1778.3h129.1v4.4h-129.1zM210.6 1932.3h129.1v2.4h-129.1zM210.6 2016.4h129.1v2.4h-129.1zM210.6 2152.4h129.1v6.4h-129.1zM210.6 2414.4h129.1v2.4h-129.1zM210.6 2452.4h129.1v6.4h-129.1zM210.6 2596.5h129.1v4.4h-129.1zM210.6 2666.5h129.1v6.4h-129.1zM210.6 2674.5h129.1v2.4h-129.1zM210.6 2724.5h129.1v2.4h-129.1zM339.4 2012.4h129.1v4.4h-129.1zM339.4 2026.4h129.1v2.4h-129.1zM339.4 2152.4h129.1v6.4h-129.1zM339.4 2172.4h129.1v4.4h-129.1zM339.4 2180.4h129.1v2.4h-129.1zM339.4 2198.4h129.1v6.4h-129.1zM339.4 2282.4h129.1v2.4h-129.1zM339.4 2288.4h129.1v6.4h-129.1zM339.4 2330.4h129.1v4.4h-129.1zM339.4 2536.4h129.1v2.4h-129.1zM339.4 2706.5h129.1v6.4h-129.1zM339.4 2742.5h129.1v6.4h-129.1zM468.1 1826.3h129.1v4.4h-129.1zM468.1 1960.3h129.1v4.4h-129.1zM468.1 2160.4h129.1v2.4h-129.1zM468.1 2168.4h129.1v2.4h-129.1zM468.1 2270.4h129.1v2.4h-129.1zM468.1 2306.4h129.1v2.4h-129.1zM468.1 2348.4h129.1v4.4h-129.1zM468.1 2384.4h129.1v2.4h-129.1zM468.1 2390.4h129.1v2.4h-129.1zM468.1 2412.4h129.1v2.4h-129.1zM468.1 2460.4h129.1v4.4h-129.1zM468.1 2470.4h129.1v2.4h-129.1zM468.1 2474.4h129.1v2.4h-129.1zM468.1 2484.4h129.1v2.4h-129.1zM468.1 2514.4h129.1v4.4h-129.1zM468.1 2776.5h129.1v2.4h-129.1zM596.8 1138.2h129.1v2.4h-129.1zM596.8 1188.2h129.1v6.4h-129.1zM596.8 1228.2h129.1v4.4h-129.1zM596.8 1236.2h129.1v2.4h-129.1zM596.8 1256.2h129.1v4.4h-129.1zM596.8 1460.3h129.1v2.4h-129.1zM596.8 1468.3h129.1v2.4h-129.1zM596.8 1992.4h129.1v2.4h-129.1zM596.8 2098.4h129.1v10.4h-129.1zM596.8 2118.4h129.1v2.4h-129.1zM596.8 2156.4h129.1v8.4h-129.1zM596.8 2194.4h129.1v6.4h-129.1zM596.8 2230.4h129.1v12.4h-129.1zM596.8 2506.4h129.1v2.4h-129.1zM596.8 2710.5h129.1v4.4h-129.1zM725.5 2612.5h129.1v4.4h-129.1zM854.3 1980.4h129.1v2.4h-129.1zM854.3 1990.4h129.1v4.4h-129.1zM854.3 2700.5h129.1v2.4h-129.1zM854.3 2750.5h129.1v2.4h-129.1zM854.3 2780.5h129.1v6.4h-129.1zM854.3 2806.5h129.1v2.4h-129.1z"/><path fill="#a2e4d6" d="M81.9 1370.2h129.1v4.4h-129.1zM81.9 1388.2h129.1v4.4h-129.1zM81.9 1394.3h129.1v8.4h-129.1zM81.9 1658.3h129.1v4.4h-129.1zM81.9 1702.3h129.1v4.4h-129.1zM81.9 1774.3h129.1v4.4h-129.1zM81.9 1782.3h129.1v4.4h-129.1zM81.9 1944.3h129.1v6.4h-129.1zM81.9 1990.4h129.1v2.4h-129.1zM81.9 2052.4h129.1v10.4h-129.1zM81.9 2472.4h129.1v8.4h-129.1zM81.9 2496.4h129.1v4.4h-129.1zM81.9 2600.5h129.1v4.4h-129.1zM81.9 2688.5h129.1v2.4h-129.1zM210.6 1272.2h129.1v2.4h-129.1zM210.6 1934.3h129.1v2.4h-129.1zM210.6 2040.4h129.1v6.4h-129.1zM210.6 2058.4h129.1v4.4h-129.1zM210.6 2126.4h129.1v4.4h-129.1zM210.6 2138.4h129.1v6.4h-129.1zM210.6 2412.4h129.1v2.4h-129.1zM210.6 2450.4h129.1v2.4h-129.1zM210.6 2582.5h129.1v2.4h-129.1zM210.6 2726.5h129.1v6.4h-129.1zM339.4 1104.2h129.1v4.4h-129.1zM339.4 1504.3h129.1v6.4h-129.1zM339.4 2038.4h129.1v8.4h-129.1zM339.4 2158.4h129.1v2.4h-129.1zM339.4 2162.4h129.1v2.4h-129.1zM339.4 2176.4h129.1v4.4h-129.1zM339.4 2182.4h129.1v2.4h-129.1zM339.4 2186.4h129.1v4.4h-129.1zM339.4 2204.4h129.1v4.4h-129.1zM339.4 2294.4h129.1v4.4h-129.1zM339.4 2322.4h129.1v2.4h-129.1zM339.4 2328.4h129.1v2.4h-129.1zM339.4 2532.4h129.1v4.4h-129.1zM339.4 2576.5h129.1v8.4h-129.1zM339.4 2712.5h129.1v2.4h-129.1zM339.4 2764.5h129.1v2.4h-129.1zM468.1 1964.3h129.1v2.4h-129.1zM468.1 2204.4h129.1v8.4h-129.1zM468.1 2276.4h129.1v4.4h-129.1zM468.1 2308.4h129.1v6.4h-129.1zM468.1 2334.4h129.1v4.4h-129.1zM468.1 2346.4h129.1v2.4h-129.1zM468.1 2386.4h129.1v4.4h-129.1zM468.1 2458.4h129.1v2.4h-129.1zM468.1 2518.4h129.1v2.4h-129.1zM596.8 1136.2h129.1v2.4h-129.1zM596.8 1224.2h129.1v4.4h-129.1zM596.8 1232.2h129.1v2.4h-129.1zM596.8 2108.4h129.1v10.4h-129.1zM596.8 2202.4h129.1v2.4h-129.1zM596.8 2392.4h129.1v4.4h-129.1zM596.8 2534.4h129.1v4.4h-129.1zM596.8 2734.5h129.1v2.4h-129.1zM596.8 2740.5h129.1v6.4h-129.1zM596.8 2748.5h129.1v6.4h-129.1zM725.5 2608.5h129.1v2.4h-129.1zM725.5 2786.5h129.1v2.4h-129.1zM854.3 1722.3h129.1v4.4h-129.1zM854.3 1986.4h129.1v4.4h-129.1zM854.3 1998.4h129.1v2.4h-129.1zM854.3 2584.5h129.1v4.4h-129.1zM854.3 2714.5h129.1v2.4h-129.1zM854.3 2718.5h129.1v2.4h-129.1zM854.3 2722.5h129.1v4.4h-129.1zM854.3 2746.5h129.1v4.4h-129.1zM854.3 2752.5h129.1v4.4h-129.1z"/><path fill="#92e0d8" d="M81.9 1986.4h129.1v4.4h-129.1zM81.9 2062.4h129.1v2.4h-129.1zM81.9 2066.4h129.1v4.4h-129.1zM81.9 2078.4h129.1v2.4h-129.1zM81.9 2258.4h129.1v4.4h-129.1zM81.9 2332.4h129.1v2.4h-129.1zM81.9 2420.4h129.1v2.4h-129.1zM81.9 2430.4h129.1v4.4h-129.1zM81.9 2584.5h129.1v8.4h-129.1zM81.9 2604.5h129.1v2.4h-129.1zM81.9 2724.5h129.1v10.4h-129.1zM210.6 2034.4h129.1v6.4h-129.1zM210.6 2158.4h129.1v6.4h-129.1zM210.6 2306.4h129.1v4.4h-129.1zM210.6 2312.4h129.1v2.4h-129.1zM210.6 2406.4h129.1v2.4h-129.1zM210.6 2410.4h129.1v2.4h-129.1zM210.6 2462.4h129.1v10.4h-129.1zM210.6 2566.5h129.1v2.4h-129.1zM210.6 2794.5h129.1v4.4h-129.1zM210.6 2800.5h129.1v6.4h-129.1zM339.4 2032.4h129.1v6.4h-129.1zM339.4 2160.4h129.1v2.4h-129.1zM339.4 2284.4h129.1v2.4h-129.1zM339.4 2318.4h129.1v2.4h-129.1zM339.4 2410.4h129.1v2.4h-129.1zM468.1 2202.4h129.1v2.4h-129.1zM468.1 2238.4h129.1v4.4h-129.1zM468.1 2326.4h129.1v8.4h-129.1zM468.1 2360.4h129.1v2.4h-129.1zM468.1 2378.4h129.1v4.4h-129.1zM468.1 2468.4h129.1v2.4h-129.1zM468.1 2472.4h129.1v2.4h-129.1zM596.8 1222.2h129.1v2.4h-129.1zM596.8 2170.4h129.1v2.4h-129.1zM596.8 2174.4h129.1v2.4h-129.1zM596.8 2204.4h129.1v2.4h-129.1zM596.8 2706.5h129.1v4.4h-129.1zM725.5 2600.5h129.1v8.4h-129.1zM854.3 2588.5h129.1v6.4h-129.1zM854.3 2598.5h129.1v2.4h-129.1zM854.3 2696.5h129.1v2.4h-129.1zM854.3 2716.5h129.1v2.4h-129.1z"/><path fill="#82d8d8" d="M81.9 1376.2h129.1v2.4h-129.1zM81.9 1826.3h129.1v6.4h-129.1zM81.9 1888.3h129.1v6.4h-129.1zM81.9 1996.4h129.1v4.4h-129.1zM81.9 2050.4h129.1v2.4h-129.1zM81.9 2074.4h129.1v4.4h-129.1zM81.9 2270.4h129.1v4.4h-129.1zM81.9 2336.4h129.1v2.4h-129.1zM81.9 2424.4h129.1v2.4h-129.1zM81.9 2516.4h129.1v6.4h-129.1zM81.9 2526.4h129.1v4.4h-129.1zM81.9 2560.5h129.1v2.4h-129.1zM81.9 2592.5h129.1v4.4h-129.1zM81.9 2606.5h129.1v2.4h-129.1zM210.6 2046.4h129.1v4.4h-129.1zM210.6 2066.4h129.1v4.4h-129.1zM210.6 2076.4h129.1v4.4h-129.1zM210.6 2170.4h129.1v4.4h-129.1zM210.6 2180.4h129.1v4.4h-129.1zM210.6 2256.4h129.1v4.4h-129.1zM210.6 2328.4h129.1v4.4h-129.1zM210.6 2408.4h129.1v2.4h-129.1zM210.6 2560.5h129.1v6.4h-129.1zM210.6 2798.5h129.1v2.4h-129.1zM210.6 2808.5h129.1v2.4h-129.1zM339.4 2084.4h129.1v4.4h-129.1zM339.4 2136.4h129.1v6.4h-129.1zM339.4 2150.4h129.1v2.4h-129.1zM339.4 2222.4h129.1v2.4h-129.1zM339.4 2226.4h129.1v4.4h-129.1zM339.4 2250.4h129.1v4.4h-129.1zM339.4 2276.4h129.1v2.4h-129.1zM339.4 2286.4h129.1v2.4h-129.1zM339.4 2298.4h129.1v4.4h-129.1zM339.4 2324.4h129.1v4.4h-129.1zM339.4 2334.4h129.1v4.4h-129.1zM339.4 2372.4h129.1v2.4h-129.1zM339.4 2392.4h129.1v6.4h-129.1zM339.4 2404.4h129.1v2.4h-129.1zM339.4 2472.4h129.1v2.4h-129.1zM339.4 2540.4h129.1v6.4h-129.1zM339.4 2738.5h129.1v4.4h-129.1zM468.1 2184.4h129.1v4.4h-129.1zM468.1 2236.4h129.1v2.4h-129.1zM468.1 2322.4h129.1v4.4h-129.1zM468.1 2362.4h129.1v12.4h-129.1zM468.1 2376.4h129.1v2.4h-129.1zM468.1 2382.4h129.1v2.4h-129.1zM468.1 2394.4h129.1v4.4h-129.1zM468.1 2400.4h129.1v6.4h-129.1zM596.8 2152.4h129.1v4.4h-129.1zM596.8 2164.4h129.1v6.4h-129.1zM596.8 2172.4h129.1v2.4h-129.1zM596.8 2222.4h129.1v2.4h-129.1zM596.8 2418.4h129.1v2.4h-129.1zM596.8 2530.4h129.1v4.4h-129.1zM596.8 2700.5h129.1v2.4h-129.1zM596.8 2746.5h129.1v2.4h-129.1zM725.5 1408.3h129.1v2.4h-129.1zM854.3 1744.3h129.1v8.4h-129.1zM854.3 2594.5h129.1v4.4h-129.1zM854.3 2626.5h129.1v2.4h-129.1zM854.3 2808.5h129.1v2.4h-129.1z"/><path fill="#72d0d8" d="M81.9 1296.2h129.1v6.4h-129.1zM81.9 1374.2h129.1v2.4h-129.1zM81.9 1378.2h129.1v2.4h-129.1zM81.9 1744.3h129.1v8.4h-129.1zM81.9 1814.3h129.1v12.4h-129.1zM81.9 2000.4h129.1v2.4h-129.1zM81.9 2072.4h129.1v2.4h-129.1zM81.9 2266.4h129.1v2.4h-129.1zM81.9 2422.4h129.1v2.4h-129.1zM81.9 2426.4h129.1v4.4h-129.1zM81.9 2504.4h129.1v2.4h-129.1zM81.9 2522.4h129.1v4.4h-129.1zM81.9 2608.5h129.1v4.4h-129.1zM210.6 2056.4h129.1v2.4h-129.1zM210.6 2070.4h129.1v2.4h-129.1zM210.6 2074.4h129.1v2.4h-129.1zM210.6 2106.4h129.1v2.4h-129.1zM210.6 2114.4h129.1v2.4h-129.1zM210.6 2166.4h129.1v4.4h-129.1zM210.6 2174.4h129.1v6.4h-129.1zM210.6 2244.4h129.1v8.4h-129.1zM210.6 2260.4h129.1v2.4h-129.1zM210.6 2274.4h129.1v2.4h-129.1zM210.6 2278.4h129.1v2.4h-129.1zM210.6 2282.4h129.1v4.4h-129.1zM210.6 2336.4h129.1v2.4h-129.1zM210.6 2434.4h129.1v8.4h-129.1zM210.6 2516.4h129.1v2.4h-129.1zM210.6 2544.4h129.1v6.4h-129.1zM210.6 2700.5h129.1v10.4h-129.1zM210.6 2712.5h129.1v4.4h-129.1zM210.6 2774.5h129.1v6.4h-129.1zM210.6 2788.5h129.1v4.4h-129.1zM339.4 2092.4h129.1v2.4h-129.1zM339.4 2142.4h129.1v2.4h-129.1zM339.4 2208.4h129.1v4.4h-129.1zM339.4 2224.4h129.1v2.4h-129.1zM339.4 2230.4h129.1v2.4h-129.1zM339.4 2234.4h129.1v2.4h-129.1zM339.4 2238.4h129.1v6.4h-129.1zM339.4 2320.4h129.1v2.4h-129.1zM339.4 2338.4h129.1v2.4h-129.1zM339.4 2374.4h129.1v10.4h-129.1zM339.4 2398.4h129.1v2.4h-129.1zM339.4 2474.4h129.1v6.4h-129.1zM339.4 2682.5h129.1v2.4h-129.1zM468.1 2180.4h129.1v4.4h-129.1zM468.1 2222.4h129.1v2.4h-129.1zM468.1 2392.4h129.1v2.4h-129.1zM468.1 2398.4h129.1v2.4h-129.1zM468.1 2454.4h129.1v4.4h-129.1zM596.8 1266.2h129.1v6.4h-129.1zM596.8 2176.4h129.1v10.4h-129.1zM596.8 2214.4h129.1v4.4h-129.1zM596.8 2224.4h129.1v2.4h-129.1zM596.8 2340.4h129.1v6.4h-129.1zM596.8 2446.4h129.1v8.4h-129.1zM596.8 2500.4h129.1v4.4h-129.1zM596.8 2622.5h129.1v6.4h-129.1zM596.8 2702.5h129.1v4.4h-129.1zM596.8 2736.5h129.1v4.4h-129.1zM725.5 1366.2h129.1v8.4h-129.1zM725.5 1410.3h129.1v6.4h-129.1zM725.5 1978.4h129.1v6.4h-129.1zM725.5 2620.5h129.1v6.4h-129.1zM854.3 1256.2h129.1v6.4h-129.1zM854.3 1660.3h129.1v16.4h-129.1zM854.3 1838.3h129.1v2.4h-129.1zM854.3 2570.5h129.1v10.4h-129.1zM854.3 2582.5h129.1v2.4h-129.1zM854.3 2624.5h129.1v2.4h-129.1zM854.3 2628.5h129.1v4.4h-129.1z"/><path fill="#67c6d6" d="M81.9 1812.3h129.1v2.4h-129.1zM81.9 1992.4h129.1v4.4h-129.1zM81.9 2016.4h129.1v6.4h-129.1zM81.9 2064.4h129.1v2.4h-129.1zM81.9 2110.4h129.1v8.4h-129.1zM81.9 2150.4h129.1v2.4h-129.1zM81.9 2234.4h129.1v2.4h-129.1zM81.9 2262.4h129.1v4.4h-129.1zM81.9 2268.4h129.1v2.4h-129.1zM81.9 2322.4h129.1v10.4h-129.1zM81.9 2390.4h129.1v2.4h-129.1zM81.9 2484.4h129.1v6.4h-129.1zM81.9 2492.4h129.1v2.4h-129.1zM81.9 2500.4h129.1v4.4h-129.1zM81.9 2530.4h129.1v4.4h-129.1zM210.6 2050.4h129.1v6.4h-129.1zM210.6 2084.4h129.1v6.4h-129.1zM210.6 2102.4h129.1v4.4h-129.1zM210.6 2108.4h129.1v6.4h-129.1zM210.6 2116.4h129.1v2.4h-129.1zM210.6 2164.4h129.1v2.4h-129.1zM210.6 2228.4h129.1v6.4h-129.1zM210.6 2268.4h129.1v2.4h-129.1zM210.6 2276.4h129.1v2.4h-129.1zM210.6 2286.4h129.1v2.4h-129.1zM210.6 2322.4h129.1v4.4h-129.1zM210.6 2332.4h129.1v2.4h-129.1zM210.6 2524.4h129.1v2.4h-129.1zM210.6 2568.5h129.1v2.4h-129.1zM210.6 2792.5h129.1v2.4h-129.1zM210.6 2806.5h129.1v2.4h-129.1zM339.4 1980.4h129.1v2.4h-129.1zM339.4 2046.4h129.1v4.4h-129.1zM339.4 2078.4h129.1v4.4h-129.1zM339.4 2088.4h129.1v4.4h-129.1zM339.4 2212.4h129.1v6.4h-129.1zM339.4 2220.4h129.1v2.4h-129.1zM339.4 2236.4h129.1v2.4h-129.1zM339.4 2244.4h129.1v2.4h-129.1zM339.4 2272.4h129.1v2.4h-129.1zM339.4 2278.4h129.1v4.4h-129.1zM339.4 2370.4h129.1v2.4h-129.1zM339.4 2400.4h129.1v4.4h-129.1zM339.4 2406.4h129.1v4.4h-129.1zM339.4 2546.4h129.1v4.4h-129.1zM339.4 2592.5h129.1v6.4h-129.1zM468.1 2212.4h129.1v4.4h-129.1zM468.1 2220.4h129.1v2.4h-129.1zM468.1 2224.4h129.1v12.4h-129.1zM468.1 2374.4h129.1v2.4h-129.1zM596.8 2000.4h129.1v2.4h-129.1zM596.8 2032.4h129.1v2.4h-129.1zM596.8 2042.4h129.1v4.4h-129.1zM596.8 2200.4h129.1v2.4h-129.1zM596.8 2212.4h129.1v2.4h-129.1zM596.8 2424.4h129.1v2.4h-129.1zM596.8 2444.4h129.1v2.4h-129.1zM596.8 2494.4h129.1v6.4h-129.1zM596.8 2628.5h129.1v4.4h-129.1zM725.5 2748.5h129.1v4.4h-129.1z"/><path fill="#5cbcd4" d="M81.9 1808.3h129.1v4.4h-129.1zM81.9 1832.3h129.1v6.4h-129.1zM81.9 2010.4h129.1v6.4h-129.1zM81.9 2022.4h129.1v6.4h-129.1zM81.9 2118.4h129.1v2.4h-129.1zM81.9 2142.4h129.1v4.4h-129.1zM81.9 2148.4h129.1v2.4h-129.1zM81.9 2188.4h129.1v2.4h-129.1zM81.9 2220.4h129.1v8.4h-129.1zM81.9 2244.4h129.1v2.4h-129.1zM81.9 2274.4h129.1v6.4h-129.1zM81.9 2354.4h129.1v2.4h-129.1zM81.9 2358.4h129.1v2.4h-129.1zM81.9 2398.4h129.1v2.4h-129.1zM81.9 2482.4h129.1v2.4h-129.1zM81.9 2490.4h129.1v2.4h-129.1zM81.9 2534.4h129.1v6.4h-129.1zM81.9 2668.5h129.1v6.4h-129.1zM210.6 2002.4h129.1v4.4h-129.1zM210.6 2028.4h129.1v6.4h-129.1zM210.6 2072.4h129.1v2.4h-129.1zM210.6 2080.4h129.1v4.4h-129.1zM210.6 2090.4h129.1v4.4h-129.1zM210.6 2212.4h129.1v4.4h-129.1zM210.6 2224.4h129.1v4.4h-129.1zM210.6 2234.4h129.1v4.4h-129.1zM210.6 2240.4h129.1v4.4h-129.1zM210.6 2262.4h129.1v6.4h-129.1zM210.6 2288.4h129.1v4.4h-129.1zM210.6 2300.4h129.1v6.4h-129.1zM210.6 2310.4h129.1v2.4h-129.1zM210.6 2318.4h129.1v2.4h-129.1zM210.6 2334.4h129.1v2.4h-129.1zM210.6 2338.4h129.1v2.4h-129.1zM210.6 2354.4h129.1v10.4h-129.1zM210.6 2380.4h129.1v4.4h-129.1zM210.6 2518.4h129.1v2.4h-129.1zM210.6 2658.5h129.1v4.4h-129.1zM210.6 2710.5h129.1v2.4h-129.1zM210.6 2738.5h129.1v2.4h-129.1zM339.4 2054.4h129.1v2.4h-129.1zM339.4 2232.4h129.1v2.4h-129.1zM339.4 2246.4h129.1v4.4h-129.1zM339.4 2268.4h129.1v4.4h-129.1zM339.4 2340.4h129.1v8.4h-129.1zM339.4 2364.4h129.1v6.4h-129.1zM339.4 2384.4h129.1v4.4h-129.1zM339.4 2390.4h129.1v2.4h-129.1zM339.4 2460.4h129.1v6.4h-129.1zM339.4 2538.4h129.1v2.4h-129.1zM468.1 2190.4h129.1v4.4h-129.1zM468.1 2216.4h129.1v4.4h-129.1zM468.1 2244.4h129.1v2.4h-129.1zM468.1 2248.4h129.1v2.4h-129.1zM468.1 2252.4h129.1v6.4h-129.1zM468.1 2432.4h129.1v6.4h-129.1zM468.1 2448.4h129.1v6.4h-129.1zM468.1 2506.4h129.1v4.4h-129.1zM596.8 1994.4h129.1v6.4h-129.1zM596.8 2026.4h129.1v2.4h-129.1zM596.8 2070.4h129.1v6.4h-129.1zM596.8 2218.4h129.1v4.4h-129.1zM596.8 2248.4h129.1v2.4h-129.1zM596.8 2412.4h129.1v6.4h-129.1zM596.8 2420.4h129.1v2.4h-129.1zM596.8 2434.4h129.1v6.4h-129.1zM596.8 2454.4h129.1v4.4h-129.1zM596.8 2482.4h129.1v4.4h-129.1zM596.8 2550.5h129.1v8.4h-129.1zM596.8 2620.5h129.1v2.4h-129.1zM596.8 2694.5h129.1v6.4h-129.1zM725.5 1222.2h129.1v4.4h-129.1zM854.3 1180.2h129.1v8.4h-129.1zM854.3 1232.2h129.1v4.4h-129.1zM854.3 1658.3h129.1v2.4h-129.1zM854.3 1676.3h129.1v2.4h-129.1zM854.3 1718.3h129.1v4.4h-129.1zM854.3 1834.3h129.1v4.4h-129.1zM854.3 2544.4h129.1v4.4h-129.1zM854.3 2810.5h129.1v6.4h-129.1z"/><path fill="#54b0ce" d="M81.9 2146.4h129.1v2.4h-129.1zM81.9 2190.4h129.1v10.4h-129.1zM81.9 2236.4h129.1v8.4h-129.1zM81.9 2254.4h129.1v4.4h-129.1zM81.9 2284.4h129.1v2.4h-129.1zM81.9 2296.4h129.1v2.4h-129.1zM81.9 2300.4h129.1v2.4h-129.1zM81.9 2356.4h129.1v2.4h-129.1zM81.9 2392.4h129.1v6.4h-129.1zM81.9 2480.4h129.1v2.4h-129.1zM81.9 2540.4h129.1v2.4h-129.1zM81.9 2544.4h129.1v2.4h-129.1zM81.9 2612.5h129.1v10.4h-129.1zM81.9 2706.5h129.1v4.4h-129.1zM81.9 2736.5h129.1v6.4h-129.1zM210.6 1986.4h129.1v2.4h-129.1zM210.6 2000.4h129.1v2.4h-129.1zM210.6 2026.4h129.1v2.4h-129.1zM210.6 2118.4h129.1v2.4h-129.1zM210.6 2184.4h129.1v4.4h-129.1zM210.6 2198.4h129.1v2.4h-129.1zM210.6 2218.4h129.1v6.4h-129.1zM210.6 2238.4h129.1v2.4h-129.1zM210.6 2270.4h129.1v4.4h-129.1zM210.6 2280.4h129.1v2.4h-129.1zM210.6 2314.4h129.1v4.4h-129.1zM210.6 2326.4h129.1v2.4h-129.1zM210.6 2364.4h129.1v4.4h-129.1zM210.6 2390.4h129.1v4.4h-129.1zM210.6 2504.4h129.1v12.4h-129.1zM210.6 2520.4h129.1v4.4h-129.1zM339.4 1978.4h129.1v2.4h-129.1zM339.4 2060.4h129.1v14.4h-129.1zM339.4 2082.4h129.1v2.4h-129.1zM339.4 2106.4h129.1v14.4h-129.1zM339.4 2264.4h129.1v2.4h-129.1zM339.4 2274.4h129.1v2.4h-129.1zM339.4 2388.4h129.1v2.4h-129.1zM339.4 2458.4h129.1v2.4h-129.1zM339.4 2466.4h129.1v6.4h-129.1zM468.1 2188.4h129.1v2.4h-129.1zM468.1 2242.4h129.1v2.4h-129.1zM468.1 2246.4h129.1v2.4h-129.1zM468.1 2250.4h129.1v2.4h-129.1zM596.8 2034.4h129.1v2.4h-129.1zM596.8 2066.4h129.1v4.4h-129.1zM596.8 2242.4h129.1v6.4h-129.1zM596.8 2260.4h129.1v6.4h-129.1zM596.8 2306.4h129.1v4.4h-129.1zM596.8 2422.4h129.1v2.4h-129.1zM596.8 2440.4h129.1v4.4h-129.1zM596.8 2548.5h129.1v2.4h-129.1zM596.8 2560.5h129.1v4.4h-129.1zM596.8 2692.5h129.1v2.4h-129.1zM725.5 2752.5h129.1v2.4h-129.1zM725.5 2782.5h129.1v4.4h-129.1zM854.3 1236.2h129.1v4.4h-129.1zM854.3 1920.3h129.1v2.4h-129.1zM854.3 2558.5h129.1v2.4h-129.1zM854.3 2580.5h129.1v2.4h-129.1zM854.3 2816.5h129.1v2.4h-129.1z"/><path fill="#4ca4c8" d="M81.9 2028.4h129.1v4.4h-129.1zM81.9 2174.4h129.1v6.4h-129.1zM81.9 2200.4h129.1v2.4h-129.1zM81.9 2210.4h129.1v6.4h-129.1zM81.9 2250.4h129.1v4.4h-129.1zM81.9 2280.4h129.1v4.4h-129.1zM81.9 2286.4h129.1v10.4h-129.1zM81.9 2298.4h129.1v2.4h-129.1zM81.9 2304.4h129.1v2.4h-129.1zM81.9 2378.4h129.1v2.4h-129.1zM81.9 2514.4h129.1v2.4h-129.1zM81.9 2780.5h129.1v4.4h-129.1zM210.6 2196.4h129.1v2.4h-129.1zM210.6 2200.4h129.1v12.4h-129.1zM210.6 2216.4h129.1v2.4h-129.1zM210.6 2320.4h129.1v2.4h-129.1zM210.6 2368.4h129.1v2.4h-129.1zM210.6 2378.4h129.1v2.4h-129.1zM210.6 2384.4h129.1v4.4h-129.1zM210.6 2394.4h129.1v4.4h-129.1zM210.6 2432.4h129.1v2.4h-129.1zM210.6 2740.5h129.1v10.4h-129.1zM339.4 2050.4h129.1v4.4h-129.1zM339.4 2058.4h129.1v2.4h-129.1zM339.4 2074.4h129.1v4.4h-129.1zM339.4 2094.4h129.1v4.4h-129.1zM339.4 2218.4h129.1v2.4h-129.1zM339.4 2484.4h129.1v4.4h-129.1zM339.4 2590.5h129.1v2.4h-129.1zM596.8 2028.4h129.1v4.4h-129.1zM596.8 2058.4h129.1v8.4h-129.1zM596.8 2076.4h129.1v6.4h-129.1zM596.8 2094.4h129.1v2.4h-129.1zM596.8 2144.4h129.1v4.4h-129.1zM596.8 2252.4h129.1v4.4h-129.1zM596.8 2310.4h129.1v6.4h-129.1zM596.8 2326.4h129.1v2.4h-129.1zM596.8 2426.4h129.1v4.4h-129.1zM596.8 2474.4h129.1v4.4h-129.1zM596.8 2558.5h129.1v2.4h-129.1zM596.8 2564.5h129.1v2.4h-129.1zM854.3 1926.3h129.1v2.4h-129.1zM854.3 2548.5h129.1v10.4h-129.1zM854.3 2818.5h129.1v6.4h-129.1zM854.3 2830.5h129.1v2.4h-129.1z"/><path fill="#489ac4" d="M81.9 2122.4h129.1v2.4h-129.1zM81.9 2132.4h129.1v2.4h-129.1zM81.9 2202.4h129.1v8.4h-129.1zM81.9 2302.4h129.1v2.4h-129.1zM81.9 2372.4h129.1v4.4h-129.1zM81.9 2384.4h129.1v6.4h-129.1zM81.9 2546.4h129.1v6.4h-129.1zM81.9 2622.5h129.1v4.4h-129.1zM81.9 2700.5h129.1v6.4h-129.1zM81.9 2784.5h129.1v2.4h-129.1zM210.6 1992.4h129.1v2.4h-129.1zM210.6 2370.4h129.1v8.4h-129.1zM210.6 2388.4h129.1v2.4h-129.1zM210.6 2398.4h129.1v2.4h-129.1zM210.6 2420.4h129.1v8.4h-129.1zM210.6 2528.4h129.1v2.4h-129.1zM210.6 2536.4h129.1v6.4h-129.1zM339.4 1976.4h129.1v2.4h-129.1zM339.4 1982.4h129.1v2.4h-129.1zM339.4 2056.4h129.1v2.4h-129.1zM339.4 2098.4h129.1v4.4h-129.1zM339.4 2254.4h129.1v2.4h-129.1zM339.4 2266.4h129.1v2.4h-129.1zM339.4 2480.4h129.1v2.4h-129.1zM339.4 2488.4h129.1v2.4h-129.1zM339.4 2492.4h129.1v4.4h-129.1zM339.4 2502.4h129.1v4.4h-129.1zM339.4 2584.5h129.1v6.4h-129.1zM596.8 2036.4h129.1v6.4h-129.1zM596.8 2096.4h129.1v2.4h-129.1zM596.8 2148.4h129.1v4.4h-129.1zM596.8 2250.4h129.1v2.4h-129.1zM596.8 2256.4h129.1v4.4h-129.1zM596.8 2266.4h129.1v12.4h-129.1zM596.8 2290.4h129.1v4.4h-129.1zM596.8 2328.4h129.1v4.4h-129.1zM596.8 2546.4h129.1v2.4h-129.1zM725.5 1776.3h129.1v6.4h-129.1zM854.3 1224.2h129.1v8.4h-129.1zM854.3 1682.3h129.1v2.4h-129.1zM854.3 1700.3h129.1v12.4h-129.1zM854.3 1714.3h129.1v4.4h-129.1zM854.3 1730.3h129.1v2.4h-129.1zM854.3 1912.3h129.1v8.4h-129.1zM854.3 1922.3h129.1v4.4h-129.1zM854.3 1930.3h129.1v4.4h-129.1zM854.3 1938.3h129.1v4.4h-129.1zM854.3 2564.5h129.1v6.4h-129.1z"/><path fill="#4490c0" d="M81.9 2040.4h129.1v2.4h-129.1zM81.9 2128.4h129.1v2.4h-129.1zM81.9 2172.4h129.1v2.4h-129.1zM81.9 2228.4h129.1v2.4h-129.1zM81.9 2246.4h129.1v4.4h-129.1zM81.9 2318.4h129.1v4.4h-129.1zM81.9 2366.4h129.1v6.4h-129.1zM81.9 2380.4h129.1v4.4h-129.1zM81.9 2400.4h129.1v4.4h-129.1zM81.9 2412.4h129.1v2.4h-129.1zM81.9 2454.4h129.1v4.4h-129.1zM81.9 2552.5h129.1v2.4h-129.1zM81.9 2640.5h129.1v4.4h-129.1zM81.9 2656.5h129.1v2.4h-129.1zM81.9 2710.5h129.1v2.4h-129.1zM81.9 2720.5h129.1v2.4h-129.1zM81.9 2744.5h129.1v4.4h-129.1zM81.9 2810.5h129.1v6.4h-129.1zM210.6 1988.4h129.1v2.4h-129.1zM210.6 1994.4h129.1v4.4h-129.1zM210.6 2192.4h129.1v2.4h-129.1zM210.6 2400.4h129.1v6.4h-129.1zM210.6 2502.4h129.1v2.4h-129.1zM210.6 2526.4h129.1v2.4h-129.1zM339.4 2102.4h129.1v4.4h-129.1zM339.4 2146.4h129.1v4.4h-129.1zM339.4 2482.4h129.1v2.4h-129.1zM339.4 2496.4h129.1v6.4h-129.1zM339.4 2512.4h129.1v4.4h-129.1zM339.4 2524.4h129.1v2.4h-129.1zM596.8 2286.4h129.1v4.4h-129.1zM596.8 2302.4h129.1v2.4h-129.1zM596.8 2334.4h129.1v6.4h-129.1zM596.8 2430.4h129.1v4.4h-129.1zM596.8 2468.4h129.1v2.4h-129.1zM596.8 2486.4h129.1v2.4h-129.1zM596.8 2640.5h129.1v2.4h-129.1zM596.8 2650.5h129.1v4.4h-129.1zM596.8 2722.5h129.1v2.4h-129.1zM725.5 1186.2h129.1v4.4h-129.1zM725.5 1434.3h129.1v4.4h-129.1zM725.5 1454.3h129.1v4.4h-129.1zM725.5 1760.3h129.1v6.4h-129.1zM725.5 1770.3h129.1v6.4h-129.1zM725.5 1788.3h129.1v4.4h-129.1zM854.3 1476.3h129.1v4.4h-129.1zM854.3 1678.3h129.1v4.4h-129.1zM854.3 1684.3h129.1v16.4h-129.1zM854.3 1712.3h129.1v2.4h-129.1zM854.3 1726.3h129.1v2.4h-129.1zM854.3 1752.3h129.1v8.4h-129.1zM854.3 1928.3h129.1v2.4h-129.1zM854.3 1934.3h129.1v4.4h-129.1zM854.3 1948.3h129.1v4.4h-129.1zM854.3 2560.5h129.1v4.4h-129.1zM854.3 2824.5h129.1v6.4h-129.1zM854.3 2832.5h129.1v4.4h-129.1z"/><path fill="#4086bc" d="M81.9 1982.4h129.1v4.4h-129.1zM81.9 2100.4h129.1v10.4h-129.1zM81.9 2120.4h129.1v2.4h-129.1zM81.9 2130.4h129.1v2.4h-129.1zM81.9 2140.4h129.1v2.4h-129.1zM81.9 2216.4h129.1v2.4h-129.1zM81.9 2230.4h129.1v4.4h-129.1zM81.9 2306.4h129.1v12.4h-129.1zM81.9 2376.4h129.1v2.4h-129.1zM81.9 2542.4h129.1v2.4h-129.1zM81.9 2630.5h129.1v2.4h-129.1zM81.9 2692.5h129.1v8.4h-129.1zM81.9 2712.5h129.1v2.4h-129.1zM210.6 1990.4h129.1v2.4h-129.1zM210.6 1998.4h129.1v2.4h-129.1zM210.6 2188.4h129.1v4.4h-129.1zM210.6 2428.4h129.1v4.4h-129.1zM210.6 2494.4h129.1v8.4h-129.1zM210.6 2542.4h129.1v2.4h-129.1zM339.4 2120.4h129.1v6.4h-129.1zM339.4 2144.4h129.1v2.4h-129.1zM339.4 2256.4h129.1v8.4h-129.1zM339.4 2506.4h129.1v6.4h-129.1zM339.4 2516.4h129.1v2.4h-129.1zM468.1 2352.4h129.1v8.4h-129.1zM468.1 2416.4h129.1v4.4h-129.1zM596.8 2046.4h129.1v2.4h-129.1zM596.8 2052.4h129.1v4.4h-129.1zM596.8 2140.4h129.1v4.4h-129.1zM596.8 2278.4h129.1v6.4h-129.1zM596.8 2294.4h129.1v8.4h-129.1zM596.8 2304.4h129.1v2.4h-129.1zM596.8 2332.4h129.1v2.4h-129.1zM596.8 2466.4h129.1v2.4h-129.1zM596.8 2470.4h129.1v4.4h-129.1zM596.8 2612.5h129.1v8.4h-129.1zM596.8 2642.5h129.1v6.4h-129.1zM596.8 2656.5h129.1v2.4h-129.1zM596.8 2714.5h129.1v4.4h-129.1zM725.5 1324.2h129.1v2.4h-129.1zM725.5 1416.3h129.1v2.4h-129.1zM725.5 1438.3h129.1v12.4h-129.1zM725.5 1630.3h129.1v8.4h-129.1zM725.5 1766.3h129.1v4.4h-129.1zM725.5 1784.3h129.1v4.4h-129.1zM854.3 1148.2h129.1v2.4h-129.1zM854.3 1176.2h129.1v4.4h-129.1zM854.3 1192.2h129.1v4.4h-129.1zM854.3 1222.2h129.1v2.4h-129.1zM854.3 1284.2h129.1v12.4h-129.1zM854.3 1728.3h129.1v2.4h-129.1zM854.3 1732.3h129.1v12.4h-129.1zM854.3 1844.3h129.1v4.4h-129.1zM854.3 1854.3h129.1v4.4h-129.1zM854.3 1942.3h129.1v6.4h-129.1zM854.3 1958.3h129.1v2.4h-129.1zM854.3 2620.5h129.1v4.4h-129.1z"/><path fill="#3c7cb8" d="M81.9 2032.4h129.1v6.4h-129.1zM81.9 2124.4h129.1v4.4h-129.1zM81.9 2134.4h129.1v6.4h-129.1zM81.9 2154.4h129.1v2.4h-129.1zM81.9 2160.4h129.1v2.4h-129.1zM81.9 2170.4h129.1v2.4h-129.1zM81.9 2182.4h129.1v4.4h-129.1zM81.9 2218.4h129.1v2.4h-129.1zM81.9 2338.4h129.1v2.4h-129.1zM81.9 2342.4h129.1v4.4h-129.1zM81.9 2434.4h129.1v8.4h-129.1zM81.9 2444.4h129.1v4.4h-129.1zM81.9 2646.5h129.1v4.4h-129.1zM81.9 2654.5h129.1v2.4h-129.1zM81.9 2714.5h129.1v6.4h-129.1zM81.9 2722.5h129.1v2.4h-129.1zM81.9 2734.5h129.1v2.4h-129.1zM81.9 2742.5h129.1v2.4h-129.1zM81.9 2808.5h129.1v2.4h-129.1zM81.9 2816.5h129.1v12.4h-129.1zM210.6 2194.4h129.1v2.4h-129.1zM210.6 2530.4h129.1v6.4h-129.1zM339.4 2126.4h129.1v4.4h-129.1zM339.4 2490.4h129.1v2.4h-129.1zM339.4 2518.4h129.1v6.4h-129.1zM596.8 2092.4h129.1v2.4h-129.1zM596.8 2284.4h129.1v2.4h-129.1zM596.8 2488.4h129.1v6.4h-129.1zM596.8 2590.5h129.1v4.4h-129.1zM596.8 2598.5h129.1v12.4h-129.1zM596.8 2654.5h129.1v2.4h-129.1zM596.8 2718.5h129.1v4.4h-129.1zM596.8 2724.5h129.1v6.4h-129.1zM725.5 1122.2h129.1v4.4h-129.1zM725.5 1236.2h129.1v2.4h-129.1zM725.5 1288.2h129.1v2.4h-129.1zM725.5 1326.2h129.1v24.4h-129.1zM725.5 1358.2h129.1v4.4h-129.1zM725.5 1426.3h129.1v8.4h-129.1zM725.5 1450.3h129.1v4.4h-129.1zM725.5 1468.3h129.1v6.4h-129.1zM725.5 1530.3h129.1v6.4h-129.1zM725.5 1564.3h129.1v2.4h-129.1zM725.5 1650.3h129.1v8.4h-129.1zM725.5 1742.3h129.1v8.4h-129.1zM725.5 1782.3h129.1v2.4h-129.1zM725.5 1816.3h129.1v8.4h-129.1zM725.5 1892.3h129.1v8.4h-129.1zM725.5 1932.3h129.1v2.4h-129.1zM725.5 1942.3h129.1v6.4h-129.1zM725.5 1954.3h129.1v18.4h-129.1zM854.3 1108.2h129.1v6.4h-129.1zM854.3 1126.2h129.1v12.4h-129.1zM854.3 1158.2h129.1v8.4h-129.1zM854.3 1190.2h129.1v2.4h-129.1zM854.3 1202.2h129.1v6.4h-129.1zM854.3 1212.2h129.1v8.4h-129.1zM854.3 1266.2h129.1v2.4h-129.1zM854.3 1272.2h129.1v2.4h-129.1zM854.3 1282.2h129.1v2.4h-129.1zM854.3 1308.2h129.1v8.4h-129.1zM854.3 1378.2h129.1v2.4h-129.1zM854.3 1384.2h129.1v2.4h-129.1zM854.3 1572.3h129.1v2.4h-129.1zM854.3 1578.3h129.1v4.4h-129.1zM854.3 1590.3h129.1v8.4h-129.1zM854.3 1798.3h129.1v6.4h-129.1zM854.3 1808.3h129.1v16.4h-129.1zM854.3 1848.3h129.1v4.4h-129.1zM854.3 1866.3h129.1v6.4h-129.1zM854.3 1952.3h129.1v6.4h-129.1zM854.3 1960.3h129.1v2.4h-129.1z"/><path fill="#3872b4" d="M81.9 2096.4h129.1v4.4h-129.1zM81.9 2162.4h129.1v4.4h-129.1zM81.9 2180.4h129.1v2.4h-129.1zM81.9 2186.4h129.1v2.4h-129.1zM81.9 2340.4h129.1v2.4h-129.1zM81.9 2404.4h129.1v8.4h-129.1zM81.9 2448.4h129.1v2.4h-129.1zM81.9 2452.4h129.1v2.4h-129.1zM81.9 2628.5h129.1v2.4h-129.1zM81.9 2638.5h129.1v2.4h-129.1zM81.9 2650.5h129.1v4.4h-129.1zM81.9 2828.5h129.1v6.4h-129.1zM210.6 2008.4h129.1v2.4h-129.1zM210.6 2734.5h129.1v4.4h-129.1zM339.4 2130.4h129.1v2.4h-129.1zM339.4 2134.4h129.1v2.4h-129.1zM596.8 2014.4h129.1v2.4h-129.1zM596.8 2018.4h129.1v8.4h-129.1zM596.8 2082.4h129.1v2.4h-129.1zM596.8 2316.4h129.1v10.4h-129.1zM596.8 2584.5h129.1v6.4h-129.1zM596.8 2594.5h129.1v4.4h-129.1zM596.8 2610.5h129.1v2.4h-129.1zM596.8 2648.5h129.1v2.4h-129.1zM596.8 2730.5h129.1v4.4h-129.1zM725.5 1126.2h129.1v8.4h-129.1zM725.5 1190.2h129.1v8.4h-129.1zM725.5 1200.2h129.1v2.4h-129.1zM725.5 1212.2h129.1v8.4h-129.1zM725.5 1238.2h129.1v4.4h-129.1zM725.5 1276.2h129.1v12.4h-129.1zM725.5 1290.2h129.1v10.4h-129.1zM725.5 1312.2h129.1v12.4h-129.1zM725.5 1350.2h129.1v8.4h-129.1zM725.5 1362.2h129.1v4.4h-129.1zM725.5 1374.2h129.1v4.4h-129.1zM725.5 1384.2h129.1v4.4h-129.1zM725.5 1394.3h129.1v8.4h-129.1zM725.5 1418.3h129.1v8.4h-129.1zM725.5 1458.3h129.1v10.4h-129.1zM725.5 1474.3h129.1v2.4h-129.1zM725.5 1540.3h129.1v8.4h-129.1zM725.5 1550.3h129.1v6.4h-129.1zM725.5 1572.3h129.1v2.4h-129.1zM725.5 1638.3h129.1v12.4h-129.1zM725.5 1752.3h129.1v2.4h-129.1zM725.5 1800.3h129.1v8.4h-129.1zM725.5 1824.3h129.1v4.4h-129.1zM725.5 1888.3h129.1v4.4h-129.1zM725.5 1904.3h129.1v4.4h-129.1zM725.5 1914.3h129.1v2.4h-129.1zM725.5 1934.3h129.1v8.4h-129.1zM725.5 1948.3h129.1v6.4h-129.1zM854.3 1104.2h129.1v4.4h-129.1zM854.3 1114.2h129.1v8.4h-129.1zM854.3 1138.2h129.1v10.4h-129.1zM854.3 1150.2h129.1v8.4h-129.1zM854.3 1166.2h129.1v10.4h-129.1zM854.3 1188.2h129.1v2.4h-129.1zM854.3 1196.2h129.1v6.4h-129.1zM854.3 1208.2h129.1v4.4h-129.1zM854.3 1220.2h129.1v2.4h-129.1zM854.3 1262.2h129.1v4.4h-129.1zM854.3 1268.2h129.1v4.4h-129.1zM854.3 1274.2h129.1v8.4h-129.1zM854.3 1296.2h129.1v2.4h-129.1zM854.3 1328.2h129.1v4.4h-129.1zM854.3 1348.2h129.1v6.4h-129.1zM854.3 1374.2h129.1v4.4h-129.1zM854.3 1380.2h129.1v4.4h-129.1zM854.3 1386.2h129.1v22.4h-129.1zM854.3 1488.3h129.1v4.4h-129.1zM854.3 1510.3h129.1v8.4h-129.1zM854.3 1574.3h129.1v4.4h-129.1zM854.3 1582.3h129.1v8.4h-129.1zM854.3 1598.3h129.1v8.4h-129.1zM854.3 1610.3h129.1v6.4h-129.1zM854.3 1626.3h129.1v6.4h-129.1zM854.3 1638.3h129.1v4.4h-129.1zM854.3 1804.3h129.1v4.4h-129.1zM854.3 1824.3h129.1v10.4h-129.1zM854.3 1840.3h129.1v4.4h-129.1zM854.3 1852.3h129.1v2.4h-129.1zM854.3 1858.3h129.1v8.4h-129.1zM854.3 1880.3h129.1v6.4h-129.1zM854.3 1890.3h129.1v6.4h-129.1zM854.3 1904.3h129.1v6.4h-129.1zM854.3 1962.3h129.1v4.4h-129.1zM854.3 1974.4h129.1v4.4h-129.1z"/><path fill="#3468b0" d="M81.9 2152.4h129.1v2.4h-129.1zM81.9 2156.4h129.1v4.4h-129.1zM81.9 2364.4h129.1v2.4h-129.1zM81.9 2626.5h129.1v2.4h-129.1zM81.9 2632.5h129.1v6.4h-129.1zM81.9 2644.5h129.1v2.4h-129.1zM81.9 2752.5h129.1v4.4h-129.1zM81.9 2764.5h129.1v6.4h-129.1zM81.9 2774.5h129.1v6.4h-129.1zM81.9 2834.5h129.1v2.4h-129.1zM210.6 2006.4h129.1v2.4h-129.1zM210.6 2732.5h129.1v2.4h-129.1zM210.6 2784.5h129.1v4.4h-129.1zM596.8 2002.4h129.1v8.4h-129.1zM596.8 2048.4h129.1v4.4h-129.1zM596.8 2090.4h129.1v2.4h-129.1zM596.8 2632.5h129.1v8.4h-129.1zM725.5 1108.2h129.1v8.4h-129.1zM725.5 1134.2h129.1v12.4h-129.1zM725.5 1152.2h129.1v20.4h-129.1zM725.5 1178.2h129.1v2.4h-129.1zM725.5 1198.2h129.1v2.4h-129.1zM725.5 1202.2h129.1v10.4h-129.1zM725.5 1226.2h129.1v10.4h-129.1zM725.5 1264.2h129.1v2.4h-129.1zM725.5 1270.2h129.1v6.4h-129.1zM725.5 1300.2h129.1v4.4h-129.1zM725.5 1378.2h129.1v6.4h-129.1zM725.5 1402.3h129.1v2.4h-129.1zM725.5 1480.3h129.1v10.4h-129.1zM725.5 1492.3h129.1v8.4h-129.1zM725.5 1504.3h129.1v10.4h-129.1zM725.5 1520.3h129.1v4.4h-129.1zM725.5 1556.3h129.1v4.4h-129.1zM725.5 1562.3h129.1v2.4h-129.1zM725.5 1566.3h129.1v2.4h-129.1zM725.5 1608.3h129.1v8.4h-129.1zM725.5 1622.3h129.1v6.4h-129.1zM725.5 1754.3h129.1v2.4h-129.1zM725.5 1808.3h129.1v8.4h-129.1zM725.5 1828.3h129.1v6.4h-129.1zM725.5 1876.3h129.1v8.4h-129.1zM725.5 1900.3h129.1v4.4h-129.1zM725.5 1908.3h129.1v6.4h-129.1zM854.3 1252.2h129.1v4.4h-129.1zM854.3 1298.2h129.1v2.4h-129.1zM854.3 1316.2h129.1v12.4h-129.1zM854.3 1332.2h129.1v16.4h-129.1zM854.3 1354.2h129.1v10.4h-129.1zM854.3 1422.3h129.1v4.4h-129.1zM854.3 1446.3h129.1v4.4h-129.1zM854.3 1480.3h129.1v8.4h-129.1zM854.3 1496.3h129.1v6.4h-129.1zM854.3 1518.3h129.1v16.4h-129.1zM854.3 1542.3h129.1v2.4h-129.1zM854.3 1550.3h129.1v4.4h-129.1zM854.3 1606.3h129.1v4.4h-129.1zM854.3 1616.3h129.1v4.4h-129.1zM854.3 1632.3h129.1v6.4h-129.1zM854.3 1642.3h129.1v14.4h-129.1zM854.3 1776.3h129.1v4.4h-129.1zM854.3 1788.3h129.1v2.4h-129.1zM854.3 1896.3h129.1v8.4h-129.1z"/><path fill="#305eac" d="M81.9 2038.4h129.1v2.4h-129.1zM81.9 2166.4h129.1v4.4h-129.1zM81.9 2346.4h129.1v8.4h-129.1zM81.9 2362.4h129.1v2.4h-129.1zM81.9 2450.4h129.1v2.4h-129.1zM81.9 2750.5h129.1v2.4h-129.1zM81.9 2756.5h129.1v8.4h-129.1zM81.9 2770.5h129.1v4.4h-129.1zM339.4 2132.4h129.1v2.4h-129.1zM596.8 2016.4h129.1v2.4h-129.1zM596.8 2056.4h129.1v2.4h-129.1zM596.8 2084.4h129.1v2.4h-129.1zM596.8 2088.4h129.1v2.4h-129.1zM596.8 2578.5h129.1v4.4h-129.1zM725.5 1104.2h129.1v4.4h-129.1zM725.5 1116.2h129.1v2.4h-129.1zM725.5 1146.2h129.1v6.4h-129.1zM725.5 1172.2h129.1v6.4h-129.1zM725.5 1180.2h129.1v6.4h-129.1zM725.5 1242.2h129.1v8.4h-129.1zM725.5 1252.2h129.1v4.4h-129.1zM725.5 1262.2h129.1v2.4h-129.1zM725.5 1266.2h129.1v4.4h-129.1zM725.5 1304.2h129.1v8.4h-129.1zM725.5 1388.2h129.1v6.4h-129.1zM725.5 1404.3h129.1v4.4h-129.1zM725.5 1476.3h129.1v4.4h-129.1zM725.5 1490.3h129.1v2.4h-129.1zM725.5 1500.3h129.1v4.4h-129.1zM725.5 1514.3h129.1v6.4h-129.1zM725.5 1524.3h129.1v6.4h-129.1zM725.5 1536.3h129.1v4.4h-129.1zM725.5 1548.3h129.1v2.4h-129.1zM725.5 1560.3h129.1v2.4h-129.1zM725.5 1568.3h129.1v4.4h-129.1zM725.5 1582.3h129.1v2.4h-129.1zM725.5 1598.3h129.1v2.4h-129.1zM725.5 1616.3h129.1v6.4h-129.1zM725.5 1628.3h129.1v2.4h-129.1zM725.5 1706.3h129.1v14.4h-129.1zM725.5 1738.3h129.1v4.4h-129.1zM725.5 1756.3h129.1v4.4h-129.1zM725.5 1792.3h129.1v8.4h-129.1zM725.5 1864.3h129.1v2.4h-129.1zM725.5 1884.3h129.1v4.4h-129.1zM725.5 1972.4h129.1v6.4h-129.1zM854.3 1122.2h129.1v4.4h-129.1zM854.3 1244.2h129.1v4.4h-129.1zM854.3 1364.2h129.1v10.4h-129.1zM854.3 1426.3h129.1v10.4h-129.1zM854.3 1466.3h129.1v2.4h-129.1zM854.3 1470.3h129.1v2.4h-129.1zM854.3 1502.3h129.1v8.4h-129.1zM854.3 1534.3h129.1v6.4h-129.1zM854.3 1544.3h129.1v6.4h-129.1zM854.3 1554.3h129.1v8.4h-129.1zM854.3 1566.3h129.1v6.4h-129.1zM854.3 1620.3h129.1v6.4h-129.1zM854.3 1656.3h129.1v2.4h-129.1zM854.3 1782.3h129.1v6.4h-129.1zM854.3 1790.3h129.1v8.4h-129.1zM854.3 1872.3h129.1v8.4h-129.1zM854.3 1886.3h129.1v4.4h-129.1z"/><path fill="#2c54a8" d="M81.9 2360.4h129.1v2.4h-129.1zM81.9 2442.4h129.1v2.4h-129.1zM81.9 2748.5h129.1v2.4h-129.1zM81.9 2804.5h129.1v2.4h-129.1zM596.8 2010.4h129.1v4.4h-129.1zM596.8 2086.4h129.1v2.4h-129.1zM596.8 2458.4h129.1v8.4h-129.1zM596.8 2570.5h129.1v6.4h-129.1zM596.8 2660.5h129.1v2.4h-129.1zM725.5 1118.2h129.1v4.4h-129.1zM725.5 1220.2h129.1v2.4h-129.1zM725.5 1250.2h129.1v2.4h-129.1zM725.5 1578.3h129.1v2.4h-129.1zM725.5 1588.3h129.1v4.4h-129.1zM725.5 1600.3h129.1v8.4h-129.1zM725.5 1700.3h129.1v6.4h-129.1zM725.5 1722.3h129.1v2.4h-129.1zM725.5 1736.3h129.1v2.4h-129.1zM725.5 1750.3h129.1v2.4h-129.1zM725.5 1862.3h129.1v2.4h-129.1zM725.5 1866.3h129.1v10.4h-129.1zM854.3 1240.2h129.1v4.4h-129.1zM854.3 1248.2h129.1v4.4h-129.1zM854.3 1300.2h129.1v8.4h-129.1zM854.3 1418.3h129.1v4.4h-129.1zM854.3 1436.3h129.1v10.4h-129.1zM854.3 1450.3h129.1v16.4h-129.1zM854.3 1468.3h129.1v2.4h-129.1zM854.3 1472.3h129.1v4.4h-129.1zM854.3 1492.3h129.1v4.4h-129.1zM854.3 1540.3h129.1v2.4h-129.1zM854.3 1562.3h129.1v4.4h-129.1zM854.3 1780.3h129.1v2.4h-129.1zM854.3 1910.3h129.1v2.4h-129.1zM854.3 1966.3h129.1v2.4h-129.1z"/><path fill="#284ca4" d="M81.9 2788.5h129.1v12.4h-129.1zM596.8 2576.5h129.1v2.4h-129.1zM596.8 2582.5h129.1v2.4h-129.1zM596.8 2666.5h129.1v14.4h-129.1zM725.5 1574.3h129.1v4.4h-129.1zM725.5 1580.3h129.1v2.4h-129.1zM725.5 1584.3h129.1v4.4h-129.1zM725.5 1592.3h129.1v6.4h-129.1zM725.5 1688.3h129.1v6.4h-129.1zM725.5 1724.3h129.1v12.4h-129.1zM725.5 1834.3h129.1v4.4h-129.1zM725.5 1844.3h129.1v18.4h-129.1zM725.5 1916.3h129.1v12.4h-129.1zM854.3 1408.3h129.1v10.4h-129.1zM854.3 1760.3h129.1v8.4h-129.1zM854.3 1770.3h129.1v6.4h-129.1zM854.3 1968.3h129.1v6.4h-129.1z"/><path fill="#2444a0" d="M81.9 2802.5h129.1v2.4h-129.1zM725.5 1260.2h129.1v2.4h-129.1zM725.5 1658.3h129.1v12.4h-129.1zM725.5 1674.3h129.1v14.4h-129.1zM725.5 1720.3h129.1v2.4h-129.1zM725.5 1838.3h129.1v6.4h-129.1zM725.5 1928.3h129.1v4.4h-129.1zM854.3 1768.3h129.1v2.4h-129.1z"/><path fill="#203a9a" d="M81.9 2800.5h129.1v2.4h-129.1zM81.9 2806.5h129.1v2.4h-129.1zM596.8 2658.5h129.1v2.4h-129.1zM596.8 2662.5h129.1v4.4h-129.1zM596.8 2680.5h129.1v12.4h-129.1zM725.5 1256.2h129.1v4.4h-129.1zM725.5 1670.3h129.1v4.4h-129.1zM725.5 1694.3h129.1v6.4h-129.1z"/></g></g>
<rect x="1004" y="1110.5" width="28" height="20.0" fill="#8a3a08"/>
<rect x="1004" y="1129.9" width="28" height="20.0" fill="#96501a"/>
<rect x="1004" y="1149.3" width="28" height="20.0" fill="#a36420"/>
<rect x="1004" y="1168.7" width="28" height="20.0" fill="#ae7a28"/>
<rect x="1004" y="1188.1" width="28" height="20.0" fill="#b89030"/>
<rect x="1004" y="1207.5" width="28" height="20.0" fill="#c4a83c"/>
<rect x="1004" y="1226.8" width="28" height="20.0" fill="#d6c65a"/>
<rect x="1004" y="1246.2" width="28" height="20.0" fill="#deda78"/>
<rect x="1004" y="1265.6" width="28" height="20.0" fill="#e2e294"/>
<rect x="1004" y="1285.0" width="28" height="20.0" fill="#e0e8b4"/>
<rect x="1004" y="1304.4" width="28" height="20.0" fill="#d0eacc"/>
<rect x="1004" y="1323.8" width="28" height="20.0" fill="#b2e8d4"/>
<rect x="1004" y="1343.2" width="28" height="20.0" fill="#92e0d8"/>
<rect x="1004" y="1362.6" width="28" height="20.0" fill="#72d0d8"/>
<rect x="1004" y="1382.0" width="28" height="20.0" fill="#5cbcd4"/>
<rect x="1004" y="1401.4" width="28" height="20.0" fill="#4ca4c8"/>
<rect x="1004" y="1420.8" width="28" height="20.0" fill="#4490c0"/>
<rect x="1004" y="1440.1" width="28" height="20.0" fill="#3c7cb8"/>
<rect x="1004" y="1459.5" width="28" height="20.0" fill="#3468b0"/>
<rect x="1004" y="1478.9" width="28" height="20.0" fill="#2c54a8"/>
<rect x="1004" y="1498.3" width="28" height="20.0" fill="#2444a0"/>
<rect x="1004" y="1517.7" width="28" height="20.0" fill="#1c3094"/>
<text x="1044.0" y="1142.7" font-size="28.8" font-weight="normal" font-style="normal" fill="#333" text-anchor="start">2</text>
<text x="1044.0" y="1238.4" font-size="28.8" font-weight="normal" font-style="normal" fill="#333" text-anchor="start">1</text>
<text x="1044.0" y="1336.2" font-size="28.8" font-weight="normal" font-style="normal" fill="#333" text-anchor="start">0</text>
<text x="1044.0" y="1432.9" font-size="28.8" font-weight="normal" font-style="normal" fill="#333" text-anchor="start">-1</text>
<text x="1044.0" y="1530.7" font-size="28.8" font-weight="normal" font-style="normal" fill="#333" text-anchor="start">-2</text>
</g>
<g id="panel-d">
<text x="1235.0" y="1290.1" font-size="54" font-weight="bold" font-style="normal" fill="#000" text-anchor="start">d</text>
<rect x="1443.5" y="1306.2" width="657.8" height="159.8" fill="#fff" stroke="#000" stroke-width="6.4"/>
<rect x="1499.6" y="1581" width="546.5" height="159.8" fill="#fff" stroke="#000" stroke-width="6.4"/>
<rect x="1444.4" y="1860.4" width="214.6" height="159.6" fill="#d35ad3" stroke="#000" stroke-width="6.4"/>
<rect x="1886.7" y="1860.4" width="214.8" height="159.6" fill="#fca832" stroke="#000" stroke-width="6.4"/>
<text x="1465.0" y="1371.3" font-size="48" font-weight="bold" font-style="normal" fill="#ff0000" text-anchor="start">So</text>
<text x="2074.5" y="1371.3" font-size="48" font-weight="bold" font-style="normal" fill="#0000ff" text-anchor="end">Ta</text>
<text x="1771.3" y="1357.5" font-size="46" font-weight="bold" font-style="normal" fill="#111" text-anchor="middle">24,421</text>
<text x="1772.0" y="1400.0" font-size="37.8" font-weight="bold" font-style="normal" fill="#111" text-anchor="middle">annotated genes</text>
<text x="1772.4" y="1445.6" font-size="38" font-weight="bold" font-style="normal" fill="#111" text-anchor="middle">(mm10)</text>
<text x="1518" y="1627.8" font-size="48" font-weight="bold"><tspan fill="#ff0000">So</tspan><tspan fill="#111"> / </tspan><tspan fill="#0000ff">Ta</tspan></text>
<text x="1771.3" y="1656.4" font-size="45" font-weight="bold" font-style="normal" fill="#111" text-anchor="middle">2,481</text>
<text x="1772.5" y="1699.0" font-size="36.5" font-weight="bold" font-style="normal" fill="#111" text-anchor="middle">DE genes</text>
<text x="1552.0" y="1920.1" font-size="43.5" font-weight="bold" font-style="normal" fill="#111" text-anchor="middle">119</text>
<text x="1552.0" y="1964.4" font-size="36.5" font-weight="bold" font-style="normal" fill="#111" text-anchor="middle">DE genes</text>
<text x="1993.5" y="1921.2" font-size="43.5" font-weight="bold" font-style="normal" fill="#111" text-anchor="middle">97</text>
<text x="1993.5" y="1965.9" font-size="36.5" font-weight="bold" font-style="normal" fill="#111" text-anchor="middle">DE genes</text>
<g transform="translate(1772.9,1488.5) rotate(0)"><path d="M0 0V45" stroke="#000" stroke-width="12.3" fill="none"/><path d="M-22.5 44H22.5L0 69.5Z" fill="#fff" stroke="#000" stroke-width="5" stroke-linejoin="miter"/></g>
<g transform="translate(1660.5,1777) rotate(45)"><path d="M0 0V45" stroke="#000" stroke-width="12.3" fill="none"/><path d="M-22.5 44H22.5L0 69.5Z" fill="#fff" stroke="#000" stroke-width="5" stroke-linejoin="miter"/></g>
<g transform="translate(1886,1777) rotate(-45)"><path d="M0 0V45" stroke="#000" stroke-width="12.3" fill="none"/><path d="M-22.5 44H22.5L0 69.5Z" fill="#fff" stroke="#000" stroke-width="5" stroke-linejoin="miter"/></g>
<text x="2218.0" y="1481.9" font-size="36.5" font-weight="bold" font-style="italic" fill="#111" text-anchor="middle">edgeR</text>
<text x="2217.0" y="1533.8" font-size="37" font-weight="normal" font-style="italic" fill="#222" text-anchor="middle">p &lt; 0.05c</text>
<text x="2218.5" y="1580.4" font-size="37" font-weight="normal" font-style="italic" fill="#222" text-anchor="middle">abs(FC) &gt; 2</text>
<text x="2217.0" y="1688.2" font-size="36.5" font-weight="bold" font-style="italic" fill="#111" text-anchor="middle">Reactome</text>
<text x="2216.0" y="1731.8" font-size="36.5" font-weight="bold" font-style="italic" fill="#111" text-anchor="middle">Pathways</text>
<text x="2217.0" y="1776.0" font-size="37" font-weight="normal" font-style="italic" fill="#222" text-anchor="middle">p &lt; 0.05c</text>
<text x="2217.0" y="1820.7" font-size="37" font-weight="normal" font-style="italic" fill="#222" text-anchor="middle">abs(FC) &gt; 3</text>
<text x="1324.0" y="1688.2" font-size="36.5" font-weight="bold" font-style="italic" fill="#111" text-anchor="middle">Highest</text>
<text x="1324.5" y="1732.5" font-size="36.5" font-weight="bold" font-style="italic" fill="#111" text-anchor="middle">Differential</text>
<text x="1323.3" y="1776.0" font-size="37" font-weight="normal" font-style="italic" fill="#222" text-anchor="middle">p &lt; 0.05c</text>
<text x="1323.3" y="1821.0" font-size="37" font-weight="normal" font-style="italic" fill="#222" text-anchor="middle">abs(FC) &gt; 20</text>
<circle cx="1690.2" cy="2172.3" r="117.8" fill="#d35ad3"/>
<circle cx="1866.4" cy="2172.3" r="106.3" fill="#fca832"/>
<path d="M1785.6 2103.2A117.8 117.8 0 0 1 1785.6 2241.4A106.3 106.3 0 0 1 1785.6 2103.2Z" fill="#fff"/>
<circle cx="1690.2" cy="2172.3" r="117.8" fill="none" stroke="#000" stroke-width="5.4"/>
<circle cx="1866.4" cy="2172.3" r="106.3" fill="none" stroke="#000" stroke-width="5.4"/>
<text x="1685.5" y="2182.9" font-size="35.5" font-weight="bold" font-style="normal" fill="#111" text-anchor="middle">105</text>
<text x="1785.8" y="2182.9" font-size="35.5" font-weight="bold" font-style="normal" fill="#111" text-anchor="middle">14</text>
<text x="1871.3" y="2183.0" font-size="35.5" font-weight="bold" font-style="normal" fill="#111" text-anchor="middle">83</text>
</g>
</svg>
</body></html>
